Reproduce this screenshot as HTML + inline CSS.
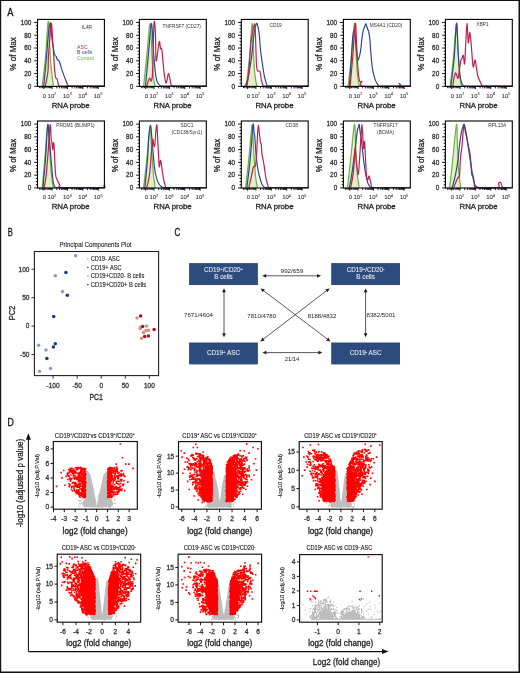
<!DOCTYPE html>
<html><head><meta charset="utf-8"><style>
html,body{margin:0;padding:0;background:#fff;}
svg{display:block;will-change:transform;}
text{font-family:"Liberation Sans", sans-serif;stroke:currentColor;stroke-width:0.28px;}
</style></head><body>
<svg width="520" height="673" viewBox="0 0 520 673">
<rect width="520" height="673" fill="#fff"/>
<path d="M0 0H520V1H0Z M0 0H1.2V673H0Z M518.5 0H520V673H518.5Z M0 671.5H520V673H0Z" fill="#111"/>
<text x="7.3" y="15.8" font-size="10.2" fill="#111" color="#111" textLength="6.2" lengthAdjust="spacingAndGlyphs">A</text>
<text x="7.8" y="236.1" font-size="10.2" fill="#111" color="#111" textLength="5.1" lengthAdjust="spacingAndGlyphs">B</text>
<text x="174.6" y="236.3" font-size="10.2" fill="#111" color="#111" textLength="5.8" lengthAdjust="spacingAndGlyphs">C</text>
<text x="7.5" y="426.4" font-size="10.2" fill="#111" color="#111" textLength="6.3" lengthAdjust="spacingAndGlyphs">D</text>
<path d="M42.16 86C42.68 81.6 44.34 70.07 45.3 59.6C46.26 49.13 47.3 28.4 47.9 23.2C48.5 18 48.65 25.8 48.9 28.4C49.15 31 49.13 33.6 49.4 38.8C49.67 44 50.07 53.55 50.5 59.6C50.93 65.65 51.52 70.7 52 75.1C52.48 79.5 53.17 84.18 53.4 86Z" fill="#e2efc9"/>
<path d="M42.16 86C42.68 81.6 44.34 70.07 45.3 59.6C46.26 49.13 47.3 28.4 47.9 23.2C48.5 18 48.65 25.8 48.9 28.4C49.15 31 49.13 33.6 49.4 38.8C49.67 44 50.07 53.55 50.5 59.6C50.93 65.65 51.52 70.7 52 75.1C52.48 79.5 53.17 84.18 53.4 86" fill="none" stroke="#6cb33f" stroke-width="1.2" stroke-linejoin="round"/>
<path d="M43.7 86C44.13 81.6 45.52 68.33 46.3 59.6C47.08 50.87 47.85 39.32 48.4 33.6C48.95 27.88 49.25 27.03 49.6 25.3C49.95 23.57 50.18 21.82 50.5 23.2C50.82 24.58 51.16 30.32 51.5 33.6C51.84 36.88 52.03 39.43 52.55 42.9C53.07 46.37 53.99 52.15 54.6 54.4C55.21 56.65 55.77 55.53 56.2 56.4C56.63 57.27 56.77 58.9 57.2 59.6C57.63 60.3 58.37 60.08 58.8 60.6C59.23 61.12 59.28 61.15 59.8 62.7C60.32 64.25 61.03 67.3 61.9 69.9C62.77 72.5 64.05 75.78 65 78.3C65.95 80.82 67.05 83.72 67.6 85C68.15 86.28 68.18 85.83 68.3 86" fill="none" stroke="#2b4a8c" stroke-width="1.2" stroke-linejoin="round"/>
<path d="M45.3 86C45.73 83.67 47.38 76.75 47.9 72C48.42 67.25 48.15 62.17 48.4 57.5C48.65 52.83 48.92 49.72 49.4 44C49.88 38.28 50.77 24.07 51.3 23.2C51.82 22.33 52.17 33.6 52.55 38.8C52.93 44 53.26 49.22 53.6 54.4C53.94 59.58 54.25 66.02 54.6 69.9C54.95 73.78 55.27 76.13 55.7 77.7C56.13 79.27 56.77 78.17 57.2 79.3C57.63 80.43 58 83.38 58.3 84.5C58.6 85.62 58.88 85.75 59 86" fill="none" stroke="#c41e4a" stroke-width="1.2" stroke-linejoin="round"/>
<path d="M58.5 85.95L104.4 85.95" stroke="#c41e4a" stroke-width="0.9"/>
<path d="M67.8 85.95L104.4 85.95" stroke="#2b4a8c" stroke-width="0.9"/>
<rect x="37.5" y="19.4" width="66.9" height="67" fill="none" stroke="#000" stroke-width="1.1"/>
<path d="M34.2 86.3H37.5M35.8 83.11H37.5M35.8 79.92H37.5M35.8 76.73H37.5M34.2 73.54H37.5M35.8 70.35H37.5M35.8 67.16H37.5M35.8 63.97H37.5M34.2 60.78H37.5M35.8 57.59H37.5M35.8 54.4H37.5M35.8 51.21H37.5M34.2 48.02H37.5M35.8 44.83H37.5M35.8 41.64H37.5M35.8 38.45H37.5M34.2 35.26H37.5M35.8 32.07H37.5M35.8 28.88H37.5M35.8 25.69H37.5M34.2 22.5H37.5" stroke="#000" stroke-width="0.9"/>
<text x="31.3" y="88.55" font-size="6.4" fill="#333" color="#333" text-anchor="end">0</text>
<text x="31.3" y="75.79" font-size="6.4" fill="#333" color="#333" text-anchor="end">20</text>
<text x="31.3" y="63.03" font-size="6.4" fill="#333" color="#333" text-anchor="end">40</text>
<text x="31.3" y="50.27" font-size="6.4" fill="#333" color="#333" text-anchor="end">60</text>
<text x="31.3" y="37.51" font-size="6.4" fill="#333" color="#333" text-anchor="end">80</text>
<text x="31.3" y="24.75" font-size="6.4" fill="#333" color="#333" text-anchor="end">100</text>
<path d="M52.1 86.3v2.8M67.5 86.3v2.8M82.9 86.3v2.8M98.3 86.3v2.8M56.74 86.3v2.1M59.45 86.3v2.1M61.37 86.3v2.1M62.86 86.3v2.1M64.08 86.3v2.1M65.11 86.3v2.1M66.01 86.3v2.1M66.8 86.3v2.1M72.14 86.3v2.1M74.85 86.3v2.1M76.77 86.3v2.1M78.26 86.3v2.1M79.48 86.3v2.1M80.51 86.3v2.1M81.41 86.3v2.1M82.2 86.3v2.1M87.54 86.3v2.1M90.25 86.3v2.1M92.17 86.3v2.1M93.66 86.3v2.1M94.88 86.3v2.1M95.91 86.3v2.1M96.81 86.3v2.1M97.6 86.3v2.1M39.7 86.3v1.9M41.1 86.3v1.9M42.5 86.3v1.9M44.3 86.3v1.9M45.7 86.3v1.9M47.1 86.3v1.9M48.3 86.3v1.9M49.4 86.3v1.9M50.4 86.3v1.9M51.3 86.3v1.9M43.8 86.3v2.8" stroke="#000" stroke-width="0.85"/>
<text x="44.5" y="97.6" font-size="6" fill="#333" color="#333" text-anchor="middle" style="stroke-width:0.08px">0</text>
<text x="51.9" y="97.6" font-size="6" fill="#333" color="#333" style="stroke-width:0.08px" text-anchor="middle">10<tspan font-size="3.6" dy="-2.4">2</tspan></text>
<text x="67.3" y="97.6" font-size="6" fill="#333" color="#333" style="stroke-width:0.08px" text-anchor="middle">10<tspan font-size="3.6" dy="-2.4">3</tspan></text>
<text x="82.7" y="97.6" font-size="6" fill="#333" color="#333" style="stroke-width:0.08px" text-anchor="middle">10<tspan font-size="3.6" dy="-2.4">4</tspan></text>
<text x="98.1" y="97.6" font-size="6" fill="#333" color="#333" style="stroke-width:0.08px" text-anchor="middle">10<tspan font-size="3.6" dy="-2.4">5</tspan></text>
<text x="70.7" y="107.5" font-size="7.5" fill="#222" color="#222" text-anchor="middle" textLength="38" lengthAdjust="spacingAndGlyphs">RNA probe</text>
<text x="16.3" y="53.9" font-size="8.2" fill="#222" color="#222" text-anchor="middle" textLength="33.5" lengthAdjust="spacingAndGlyphs" transform="rotate(-90 16.3 53.9)">% of Max</text>
<text x="87" y="29.1" font-size="4.8" fill="#333" color="#333" style="stroke:none" text-anchor="middle">IL4R</text>
<text x="77" y="49.2" font-size="5.2" fill="#c41e4a" color="#c41e4a" style="stroke:none">ASC</text>
<text x="77" y="54.4" font-size="5.2" fill="#2b4a8c" color="#2b4a8c" style="stroke:none">B cells</text>
<text x="77" y="59.6" font-size="5.2" fill="#6cb33f" color="#6cb33f" style="stroke:none">Control</text>
<path d="M143.6 86C144.15 80.73 145.82 64.82 146.9 54.4C147.98 43.98 149.23 23.03 150.1 23.5C150.97 23.97 151.55 48.32 152.1 57.2C152.65 66.08 152.97 72.22 153.4 76.8C153.83 81.38 154.37 83.17 154.7 84.7C155.03 86.23 155.28 85.78 155.4 86Z" fill="#e2efc9"/>
<path d="M143.6 86C144.15 80.73 145.82 64.82 146.9 54.4C147.98 43.98 149.23 23.03 150.1 23.5C150.97 23.97 151.55 48.32 152.1 57.2C152.65 66.08 152.97 72.22 153.4 76.8C153.83 81.38 154.37 83.17 154.7 84.7C155.03 86.23 155.28 85.78 155.4 86" fill="none" stroke="#6cb33f" stroke-width="1.2" stroke-linejoin="round"/>
<path d="M145.5 86C145.98 80.73 147.42 64.82 148.4 54.4C149.38 43.98 150.57 24.12 151.4 23.5C152.23 22.88 152.73 42.47 153.4 50.7C154.07 58.93 154.75 67.67 155.4 72.9C156.05 78.13 156.43 79.92 157.3 82.1C158.17 84.28 160.05 85.35 160.6 86" fill="none" stroke="#2b4a8c" stroke-width="1.2" stroke-linejoin="round"/>
<path d="M146.8 86C147.13 84.9 148.27 80.67 148.8 79.4C149.33 78.13 149.57 78.17 150 78.4C150.43 78.63 150.95 82.15 151.4 80.8C151.85 79.45 152.27 79.85 152.7 70.3C153.13 60.75 153.55 29.82 154 23.5C154.45 17.18 155.07 26.35 155.4 32.4C155.73 38.45 155.68 55.97 156 59.8C156.32 63.63 156.75 58.45 157.3 55.4C157.85 52.35 158.75 42.62 159.3 41.5C159.85 40.38 160.17 47.28 160.6 48.7C161.03 50.12 161.37 46.4 161.9 50C162.43 53.6 163.15 64.85 163.8 70.3C164.45 75.75 165.25 81.15 165.8 82.7C166.35 84.25 166.67 81.12 167.1 79.6C167.53 78.08 167.97 73.87 168.4 73.6C168.83 73.33 169.27 76.15 169.7 78C170.13 79.85 170.67 83.37 171 84.7C171.33 86.03 171.58 85.78 171.7 86" fill="none" stroke="#c41e4a" stroke-width="1.2" stroke-linejoin="round"/>
<path d="M171.2 85.95L206.3 85.95" stroke="#c41e4a" stroke-width="0.9"/>
<path d="M160.1 85.95L206.3 85.95" stroke="#2b4a8c" stroke-width="0.9"/>
<rect x="139.4" y="19.4" width="66.9" height="67" fill="none" stroke="#000" stroke-width="1.1"/>
<path d="M136.1 86.3H139.4M137.7 83.11H139.4M137.7 79.92H139.4M137.7 76.73H139.4M136.1 73.54H139.4M137.7 70.35H139.4M137.7 67.16H139.4M137.7 63.97H139.4M136.1 60.78H139.4M137.7 57.59H139.4M137.7 54.4H139.4M137.7 51.21H139.4M136.1 48.02H139.4M137.7 44.83H139.4M137.7 41.64H139.4M137.7 38.45H139.4M136.1 35.26H139.4M137.7 32.07H139.4M137.7 28.88H139.4M137.7 25.69H139.4M136.1 22.5H139.4" stroke="#000" stroke-width="0.9"/>
<text x="133.2" y="88.55" font-size="6.4" fill="#333" color="#333" text-anchor="end">0</text>
<text x="133.2" y="75.79" font-size="6.4" fill="#333" color="#333" text-anchor="end">20</text>
<text x="133.2" y="63.03" font-size="6.4" fill="#333" color="#333" text-anchor="end">40</text>
<text x="133.2" y="50.27" font-size="6.4" fill="#333" color="#333" text-anchor="end">60</text>
<text x="133.2" y="37.51" font-size="6.4" fill="#333" color="#333" text-anchor="end">80</text>
<text x="133.2" y="24.75" font-size="6.4" fill="#333" color="#333" text-anchor="end">100</text>
<path d="M154 86.3v2.8M169.4 86.3v2.8M184.8 86.3v2.8M200.2 86.3v2.8M158.64 86.3v2.1M161.35 86.3v2.1M163.27 86.3v2.1M164.76 86.3v2.1M165.98 86.3v2.1M167.01 86.3v2.1M167.91 86.3v2.1M168.7 86.3v2.1M174.04 86.3v2.1M176.75 86.3v2.1M178.67 86.3v2.1M180.16 86.3v2.1M181.38 86.3v2.1M182.41 86.3v2.1M183.31 86.3v2.1M184.1 86.3v2.1M189.44 86.3v2.1M192.15 86.3v2.1M194.07 86.3v2.1M195.56 86.3v2.1M196.78 86.3v2.1M197.81 86.3v2.1M198.71 86.3v2.1M199.5 86.3v2.1M141.6 86.3v1.9M143 86.3v1.9M144.4 86.3v1.9M146.2 86.3v1.9M147.6 86.3v1.9M149 86.3v1.9M150.2 86.3v1.9M151.3 86.3v1.9M152.3 86.3v1.9M153.2 86.3v1.9M145.7 86.3v2.8" stroke="#000" stroke-width="0.85"/>
<text x="146.4" y="97.6" font-size="6" fill="#333" color="#333" text-anchor="middle" style="stroke-width:0.08px">0</text>
<text x="153.8" y="97.6" font-size="6" fill="#333" color="#333" style="stroke-width:0.08px" text-anchor="middle">10<tspan font-size="3.6" dy="-2.4">2</tspan></text>
<text x="169.2" y="97.6" font-size="6" fill="#333" color="#333" style="stroke-width:0.08px" text-anchor="middle">10<tspan font-size="3.6" dy="-2.4">3</tspan></text>
<text x="184.6" y="97.6" font-size="6" fill="#333" color="#333" style="stroke-width:0.08px" text-anchor="middle">10<tspan font-size="3.6" dy="-2.4">4</tspan></text>
<text x="200" y="97.6" font-size="6" fill="#333" color="#333" style="stroke-width:0.08px" text-anchor="middle">10<tspan font-size="3.6" dy="-2.4">5</tspan></text>
<text x="172.6" y="107.5" font-size="7.5" fill="#222" color="#222" text-anchor="middle" textLength="38" lengthAdjust="spacingAndGlyphs">RNA probe</text>
<text x="118.2" y="53.9" font-size="8.2" fill="#222" color="#222" text-anchor="middle" textLength="33.5" lengthAdjust="spacingAndGlyphs" transform="rotate(-90 118.2 53.9)">% of Max</text>
<text x="181.8" y="28.2" font-size="4.8" fill="#333" color="#333" style="stroke:none" text-anchor="middle">TNFRSF7 (CD27)</text>
<path d="M246.2 86C246.75 81.2 248.52 67.62 249.5 57.2C250.48 46.78 251.45 24.58 252.1 23.5C252.75 22.42 252.97 42.47 253.4 50.7C253.83 58.93 254.15 67.02 254.7 72.9C255.25 78.78 256.37 83.82 256.7 86Z" fill="#e2efc9"/>
<path d="M246.2 86C246.75 81.2 248.52 67.62 249.5 57.2C250.48 46.78 251.45 24.58 252.1 23.5C252.75 22.42 252.97 42.47 253.4 50.7C253.83 58.93 254.15 67.02 254.7 72.9C255.25 78.78 256.37 83.82 256.7 86" fill="none" stroke="#6cb33f" stroke-width="1.2" stroke-linejoin="round"/>
<path d="M246.9 86C247.67 81.2 250.3 65.92 251.5 57.2C252.7 48.48 253.28 39.32 254.1 33.7C254.92 28.08 255.75 24.58 256.4 23.5C257.05 22.42 257.52 25.28 258 27.2C258.48 29.12 258.87 31.08 259.3 35C259.73 38.92 260.05 45.68 260.6 50.7C261.15 55.72 261.95 60.75 262.6 65.1C263.25 69.45 263.73 73.32 264.5 76.8C265.27 80.28 266.75 84.47 267.2 86" fill="none" stroke="#2b4a8c" stroke-width="1.2" stroke-linejoin="round"/>
<path d="M244.9 86C245.45 84.47 247.22 83.77 248.2 76.8C249.18 69.83 250.03 51.82 250.8 44.2C251.57 36.58 252.15 34.48 252.8 31.1C253.45 27.72 254.27 23.47 254.7 23.9C255.13 24.33 255.18 29.02 255.4 33.7C255.62 38.38 255.78 46.33 256 52C256.22 57.67 256.37 64.53 256.7 67.7C257.03 70.87 257.45 70.35 258 71C258.55 71.65 259.45 70.2 260 71.6C260.55 73 260.87 77.22 261.3 79.4C261.73 81.58 262.27 83.6 262.6 84.7C262.93 85.8 263.18 85.78 263.3 86" fill="none" stroke="#c41e4a" stroke-width="1.2" stroke-linejoin="round"/>
<path d="M262.8 85.95L308.2 85.95" stroke="#c41e4a" stroke-width="0.9"/>
<path d="M266.7 85.95L308.2 85.95" stroke="#2b4a8c" stroke-width="0.9"/>
<rect x="241.3" y="19.4" width="66.9" height="67" fill="none" stroke="#000" stroke-width="1.1"/>
<path d="M238 86.3H241.3M239.6 83.11H241.3M239.6 79.92H241.3M239.6 76.73H241.3M238 73.54H241.3M239.6 70.35H241.3M239.6 67.16H241.3M239.6 63.97H241.3M238 60.78H241.3M239.6 57.59H241.3M239.6 54.4H241.3M239.6 51.21H241.3M238 48.02H241.3M239.6 44.83H241.3M239.6 41.64H241.3M239.6 38.45H241.3M238 35.26H241.3M239.6 32.07H241.3M239.6 28.88H241.3M239.6 25.69H241.3M238 22.5H241.3" stroke="#000" stroke-width="0.9"/>
<text x="235.1" y="88.55" font-size="6.4" fill="#333" color="#333" text-anchor="end">0</text>
<text x="235.1" y="75.79" font-size="6.4" fill="#333" color="#333" text-anchor="end">20</text>
<text x="235.1" y="63.03" font-size="6.4" fill="#333" color="#333" text-anchor="end">40</text>
<text x="235.1" y="50.27" font-size="6.4" fill="#333" color="#333" text-anchor="end">60</text>
<text x="235.1" y="37.51" font-size="6.4" fill="#333" color="#333" text-anchor="end">80</text>
<text x="235.1" y="24.75" font-size="6.4" fill="#333" color="#333" text-anchor="end">100</text>
<path d="M255.9 86.3v2.8M271.3 86.3v2.8M286.7 86.3v2.8M302.1 86.3v2.8M260.54 86.3v2.1M263.25 86.3v2.1M265.17 86.3v2.1M266.66 86.3v2.1M267.88 86.3v2.1M268.91 86.3v2.1M269.81 86.3v2.1M270.6 86.3v2.1M275.94 86.3v2.1M278.65 86.3v2.1M280.57 86.3v2.1M282.06 86.3v2.1M283.28 86.3v2.1M284.31 86.3v2.1M285.21 86.3v2.1M286 86.3v2.1M291.34 86.3v2.1M294.05 86.3v2.1M295.97 86.3v2.1M297.46 86.3v2.1M298.68 86.3v2.1M299.71 86.3v2.1M300.61 86.3v2.1M301.4 86.3v2.1M243.5 86.3v1.9M244.9 86.3v1.9M246.3 86.3v1.9M248.1 86.3v1.9M249.5 86.3v1.9M250.9 86.3v1.9M252.1 86.3v1.9M253.2 86.3v1.9M254.2 86.3v1.9M255.1 86.3v1.9M247.6 86.3v2.8" stroke="#000" stroke-width="0.85"/>
<text x="248.3" y="97.6" font-size="6" fill="#333" color="#333" text-anchor="middle" style="stroke-width:0.08px">0</text>
<text x="255.7" y="97.6" font-size="6" fill="#333" color="#333" style="stroke-width:0.08px" text-anchor="middle">10<tspan font-size="3.6" dy="-2.4">2</tspan></text>
<text x="271.1" y="97.6" font-size="6" fill="#333" color="#333" style="stroke-width:0.08px" text-anchor="middle">10<tspan font-size="3.6" dy="-2.4">3</tspan></text>
<text x="286.5" y="97.6" font-size="6" fill="#333" color="#333" style="stroke-width:0.08px" text-anchor="middle">10<tspan font-size="3.6" dy="-2.4">4</tspan></text>
<text x="301.9" y="97.6" font-size="6" fill="#333" color="#333" style="stroke-width:0.08px" text-anchor="middle">10<tspan font-size="3.6" dy="-2.4">5</tspan></text>
<text x="274.5" y="107.5" font-size="7.5" fill="#222" color="#222" text-anchor="middle" textLength="38" lengthAdjust="spacingAndGlyphs">RNA probe</text>
<text x="220.1" y="53.9" font-size="8.2" fill="#222" color="#222" text-anchor="middle" textLength="33.5" lengthAdjust="spacingAndGlyphs" transform="rotate(-90 220.1 53.9)">% of Max</text>
<text x="275.6" y="26.9" font-size="4.8" fill="#333" color="#333" style="stroke:none" text-anchor="middle">CD19</text>
<path d="M348.1 86C348.65 81.2 350.35 67.62 351.4 57.2C352.45 46.78 353.63 24.58 354.4 23.5C355.17 22.42 355.52 42.47 356 50.7C356.48 58.93 356.77 67.02 357.3 72.9C357.83 78.78 358.88 83.82 359.2 86Z" fill="#e2efc9"/>
<path d="M348.1 86C348.65 81.2 350.35 67.62 351.4 57.2C352.45 46.78 353.63 24.58 354.4 23.5C355.17 22.42 355.52 42.47 356 50.7C356.48 58.93 356.77 67.02 357.3 72.9C357.83 78.78 358.88 83.82 359.2 86" fill="none" stroke="#6cb33f" stroke-width="1.2" stroke-linejoin="round"/>
<path d="M349.4 86C349.73 81.2 350.85 65.27 351.4 57.2C351.95 49.13 352.27 42.07 352.7 37.6C353.13 33.13 353.57 30.4 354 30.4C354.43 30.4 354.87 34 355.3 37.6C355.73 41.2 356.17 48.3 356.6 52C357.03 55.7 357.47 58.93 357.9 59.8C358.33 60.67 358.75 58.72 359.2 57.2C359.65 55.68 360.15 53.75 360.6 50.7C361.05 47.65 361.47 42.28 361.9 38.9C362.33 35.52 362.77 32.35 363.2 30.4C363.63 28.45 364.07 28.35 364.5 27.2C364.93 26.05 365.37 23.4 365.8 23.5C366.23 23.6 366.67 26.53 367.1 27.8C367.53 29.07 367.97 29.47 368.4 31.1C368.83 32.73 369.27 33.68 369.7 37.6C370.13 41.52 370.57 49.58 371 54.6C371.43 59.62 371.75 64 372.3 67.7C372.85 71.4 373.65 74.4 374.3 76.8C374.95 79.2 375.43 80.57 376.2 82.1C376.97 83.63 378.45 85.35 378.9 86" fill="none" stroke="#2b4a8c" stroke-width="1.2" stroke-linejoin="round"/>
<path d="M350.1 86C350.53 81.2 351.83 67.62 352.7 57.2C353.57 46.78 354.65 25.67 355.3 23.5C355.95 21.33 356.17 36.83 356.6 44.2C357.03 51.57 357.47 61.83 357.9 67.7C358.33 73.57 358.75 77 359.2 79.4C359.65 81.8 360.15 81.77 360.6 82.1C361.05 82.43 361.47 80.75 361.9 81.4C362.33 82.05 357.22 85.23 363.2 86C369.18 86.77 391.82 86.43 397.8 86C403.78 85.57 398.67 83.4 399.1 83.4C399.53 83.4 400.18 85.57 400.4 86" fill="none" stroke="#c41e4a" stroke-width="1.2" stroke-linejoin="round"/>
<path d="M399.9 85.95L410.3 85.95" stroke="#c41e4a" stroke-width="0.9"/>
<path d="M378.4 85.95L410.3 85.95" stroke="#2b4a8c" stroke-width="0.9"/>
<rect x="343.4" y="19.4" width="66.9" height="67" fill="none" stroke="#000" stroke-width="1.1"/>
<path d="M340.1 86.3H343.4M341.7 83.11H343.4M341.7 79.92H343.4M341.7 76.73H343.4M340.1 73.54H343.4M341.7 70.35H343.4M341.7 67.16H343.4M341.7 63.97H343.4M340.1 60.78H343.4M341.7 57.59H343.4M341.7 54.4H343.4M341.7 51.21H343.4M340.1 48.02H343.4M341.7 44.83H343.4M341.7 41.64H343.4M341.7 38.45H343.4M340.1 35.26H343.4M341.7 32.07H343.4M341.7 28.88H343.4M341.7 25.69H343.4M340.1 22.5H343.4" stroke="#000" stroke-width="0.9"/>
<text x="337.2" y="88.55" font-size="6.4" fill="#333" color="#333" text-anchor="end">0</text>
<text x="337.2" y="75.79" font-size="6.4" fill="#333" color="#333" text-anchor="end">20</text>
<text x="337.2" y="63.03" font-size="6.4" fill="#333" color="#333" text-anchor="end">40</text>
<text x="337.2" y="50.27" font-size="6.4" fill="#333" color="#333" text-anchor="end">60</text>
<text x="337.2" y="37.51" font-size="6.4" fill="#333" color="#333" text-anchor="end">80</text>
<text x="337.2" y="24.75" font-size="6.4" fill="#333" color="#333" text-anchor="end">100</text>
<path d="M358 86.3v2.8M373.4 86.3v2.8M388.8 86.3v2.8M404.2 86.3v2.8M362.64 86.3v2.1M365.35 86.3v2.1M367.27 86.3v2.1M368.76 86.3v2.1M369.98 86.3v2.1M371.01 86.3v2.1M371.91 86.3v2.1M372.7 86.3v2.1M378.04 86.3v2.1M380.75 86.3v2.1M382.67 86.3v2.1M384.16 86.3v2.1M385.38 86.3v2.1M386.41 86.3v2.1M387.31 86.3v2.1M388.1 86.3v2.1M393.44 86.3v2.1M396.15 86.3v2.1M398.07 86.3v2.1M399.56 86.3v2.1M400.78 86.3v2.1M401.81 86.3v2.1M402.71 86.3v2.1M403.5 86.3v2.1M345.6 86.3v1.9M347 86.3v1.9M348.4 86.3v1.9M350.2 86.3v1.9M351.6 86.3v1.9M353 86.3v1.9M354.2 86.3v1.9M355.3 86.3v1.9M356.3 86.3v1.9M357.2 86.3v1.9M349.7 86.3v2.8" stroke="#000" stroke-width="0.85"/>
<text x="350.4" y="97.6" font-size="6" fill="#333" color="#333" text-anchor="middle" style="stroke-width:0.08px">0</text>
<text x="357.8" y="97.6" font-size="6" fill="#333" color="#333" style="stroke-width:0.08px" text-anchor="middle">10<tspan font-size="3.6" dy="-2.4">2</tspan></text>
<text x="373.2" y="97.6" font-size="6" fill="#333" color="#333" style="stroke-width:0.08px" text-anchor="middle">10<tspan font-size="3.6" dy="-2.4">3</tspan></text>
<text x="388.6" y="97.6" font-size="6" fill="#333" color="#333" style="stroke-width:0.08px" text-anchor="middle">10<tspan font-size="3.6" dy="-2.4">4</tspan></text>
<text x="404" y="97.6" font-size="6" fill="#333" color="#333" style="stroke-width:0.08px" text-anchor="middle">10<tspan font-size="3.6" dy="-2.4">5</tspan></text>
<text x="376.6" y="107.5" font-size="7.5" fill="#222" color="#222" text-anchor="middle" textLength="38" lengthAdjust="spacingAndGlyphs">RNA probe</text>
<text x="322.2" y="53.9" font-size="8.2" fill="#222" color="#222" text-anchor="middle" textLength="33.5" lengthAdjust="spacingAndGlyphs" transform="rotate(-90 322.2 53.9)">% of Max</text>
<text x="386" y="26.9" font-size="4.8" fill="#333" color="#333" style="stroke:none" text-anchor="middle">MS4A1 (CD20)</text>
<path d="M450.2 86C450.75 81.2 452.45 67.62 453.5 57.2C454.55 46.78 455.73 24.58 456.5 23.5C457.27 22.42 457.62 42.47 458.1 50.7C458.58 58.93 458.85 67.02 459.4 72.9C459.95 78.78 461.07 83.82 461.4 86Z" fill="#e2efc9"/>
<path d="M450.2 86C450.75 81.2 452.45 67.62 453.5 57.2C454.55 46.78 455.73 24.58 456.5 23.5C457.27 22.42 457.62 42.47 458.1 50.7C458.58 58.93 458.85 67.02 459.4 72.9C459.95 78.78 461.07 83.82 461.4 86" fill="none" stroke="#6cb33f" stroke-width="1.2" stroke-linejoin="round"/>
<path d="M450.9 86C451.45 81.2 453.27 67.67 454.2 57.2C455.13 46.73 455.85 24.28 456.5 23.2C457.15 22.12 457.52 41.98 458.1 50.7C458.68 59.42 459.35 69.95 460 75.5C460.65 81.05 461.23 82.25 462 84C462.77 85.75 464.17 85.67 464.6 86" fill="none" stroke="#2b4a8c" stroke-width="1.2" stroke-linejoin="round"/>
<path d="M452.8 86C453.03 84.47 453.75 78.98 454.2 76.8C454.65 74.62 455.07 73.12 455.5 72.9C455.93 72.68 456.37 74.62 456.8 75.5C457.23 76.38 457.67 79.07 458.1 78.2C458.53 77.33 458.97 73.13 459.4 70.3C459.83 67.47 460.27 63.17 460.7 61.2C461.13 59.23 461.57 59.48 462 58.5C462.43 57.52 462.87 54.42 463.3 55.3C463.73 56.18 464.2 65.65 464.6 63.8C465 61.95 465.3 50.92 465.7 44.2C466.1 37.48 466.57 23.73 467 23.5C467.43 23.27 467.83 41.32 468.3 42.8C468.77 44.28 469.32 32.17 469.8 32.4C470.28 32.63 470.75 39.4 471.2 44.2C471.65 49 472.12 57.4 472.5 61.2C472.88 65 473.07 67.23 473.5 67C473.93 66.77 474.62 59.68 475.1 59.8C475.58 59.92 475.97 65.08 476.4 67.7C476.83 70.32 477.15 73.32 477.7 75.5C478.25 77.68 478.93 79.05 479.7 80.8C480.47 82.55 481.87 85.13 482.3 86" fill="none" stroke="#c41e4a" stroke-width="1.2" stroke-linejoin="round"/>
<path d="M481.8 85.95L512.3 85.95" stroke="#c41e4a" stroke-width="0.9"/>
<path d="M464.1 85.95L512.3 85.95" stroke="#2b4a8c" stroke-width="0.9"/>
<rect x="445.4" y="19.4" width="66.9" height="67" fill="none" stroke="#000" stroke-width="1.1"/>
<path d="M442.1 86.3H445.4M443.7 83.11H445.4M443.7 79.92H445.4M443.7 76.73H445.4M442.1 73.54H445.4M443.7 70.35H445.4M443.7 67.16H445.4M443.7 63.97H445.4M442.1 60.78H445.4M443.7 57.59H445.4M443.7 54.4H445.4M443.7 51.21H445.4M442.1 48.02H445.4M443.7 44.83H445.4M443.7 41.64H445.4M443.7 38.45H445.4M442.1 35.26H445.4M443.7 32.07H445.4M443.7 28.88H445.4M443.7 25.69H445.4M442.1 22.5H445.4" stroke="#000" stroke-width="0.9"/>
<text x="439.2" y="88.55" font-size="6.4" fill="#333" color="#333" text-anchor="end">0</text>
<text x="439.2" y="75.79" font-size="6.4" fill="#333" color="#333" text-anchor="end">20</text>
<text x="439.2" y="63.03" font-size="6.4" fill="#333" color="#333" text-anchor="end">40</text>
<text x="439.2" y="50.27" font-size="6.4" fill="#333" color="#333" text-anchor="end">60</text>
<text x="439.2" y="37.51" font-size="6.4" fill="#333" color="#333" text-anchor="end">80</text>
<text x="439.2" y="24.75" font-size="6.4" fill="#333" color="#333" text-anchor="end">100</text>
<path d="M460 86.3v2.8M475.4 86.3v2.8M490.8 86.3v2.8M506.2 86.3v2.8M464.64 86.3v2.1M467.35 86.3v2.1M469.27 86.3v2.1M470.76 86.3v2.1M471.98 86.3v2.1M473.01 86.3v2.1M473.91 86.3v2.1M474.7 86.3v2.1M480.04 86.3v2.1M482.75 86.3v2.1M484.67 86.3v2.1M486.16 86.3v2.1M487.38 86.3v2.1M488.41 86.3v2.1M489.31 86.3v2.1M490.1 86.3v2.1M495.44 86.3v2.1M498.15 86.3v2.1M500.07 86.3v2.1M501.56 86.3v2.1M502.78 86.3v2.1M503.81 86.3v2.1M504.71 86.3v2.1M505.5 86.3v2.1M447.6 86.3v1.9M449 86.3v1.9M450.4 86.3v1.9M452.2 86.3v1.9M453.6 86.3v1.9M455 86.3v1.9M456.2 86.3v1.9M457.3 86.3v1.9M458.3 86.3v1.9M459.2 86.3v1.9M451.7 86.3v2.8" stroke="#000" stroke-width="0.85"/>
<text x="452.4" y="97.6" font-size="6" fill="#333" color="#333" text-anchor="middle" style="stroke-width:0.08px">0</text>
<text x="459.8" y="97.6" font-size="6" fill="#333" color="#333" style="stroke-width:0.08px" text-anchor="middle">10<tspan font-size="3.6" dy="-2.4">2</tspan></text>
<text x="475.2" y="97.6" font-size="6" fill="#333" color="#333" style="stroke-width:0.08px" text-anchor="middle">10<tspan font-size="3.6" dy="-2.4">3</tspan></text>
<text x="490.6" y="97.6" font-size="6" fill="#333" color="#333" style="stroke-width:0.08px" text-anchor="middle">10<tspan font-size="3.6" dy="-2.4">4</tspan></text>
<text x="506" y="97.6" font-size="6" fill="#333" color="#333" style="stroke-width:0.08px" text-anchor="middle">10<tspan font-size="3.6" dy="-2.4">5</tspan></text>
<text x="478.6" y="107.5" font-size="7.5" fill="#222" color="#222" text-anchor="middle" textLength="38" lengthAdjust="spacingAndGlyphs">RNA probe</text>
<text x="424.2" y="53.9" font-size="8.2" fill="#222" color="#222" text-anchor="middle" textLength="33.5" lengthAdjust="spacingAndGlyphs" transform="rotate(-90 424.2 53.9)">% of Max</text>
<text x="482.6" y="25.6" font-size="4.8" fill="#333" color="#333" style="stroke:none" text-anchor="middle">XBP1</text>
<path d="M42.2 187.6C42.63 182.83 43.88 169.43 44.8 159C45.72 148.57 46.93 127.17 47.7 125C48.47 122.83 48.78 137.72 49.4 146C50.02 154.28 50.75 167.77 51.4 174.7C52.05 181.63 52.98 185.45 53.3 187.6Z" fill="#e2efc9"/>
<path d="M42.2 187.6C42.63 182.83 43.88 169.43 44.8 159C45.72 148.57 46.93 127.17 47.7 125C48.47 122.83 48.78 137.72 49.4 146C50.02 154.28 50.75 167.77 51.4 174.7C52.05 181.63 52.98 185.45 53.3 187.6" fill="none" stroke="#6cb33f" stroke-width="1.2" stroke-linejoin="round"/>
<path d="M42.9 187.6C43.33 182.83 44.7 169.43 45.5 159C46.3 148.57 47.05 128.27 47.7 125C48.35 121.73 48.78 133.07 49.4 139.4C50.02 145.73 50.75 155.8 51.4 163C52.05 170.2 52.65 178.5 53.3 182.6C53.95 186.7 54.97 186.77 55.3 187.6" fill="none" stroke="#2b4a8c" stroke-width="1.2" stroke-linejoin="round"/>
<path d="M44.2 187.6C44.53 185.45 45.55 180.55 46.2 174.7C46.85 168.85 47.45 160.78 48.1 152.5C48.75 144.22 49.6 127.4 50.1 125C50.6 122.6 50.78 135.05 51.1 138.1C51.42 141.15 51.73 141.33 52 143.3C52.27 145.27 52.48 149.9 52.7 149.9C52.92 149.9 53.08 144.18 53.3 143.3C53.52 142.42 53.77 141.98 54 144.6C54.23 147.22 54.43 153.98 54.7 159C54.97 164.02 55.28 171.43 55.6 174.7C55.92 177.97 56.22 177.5 56.6 178.6C56.98 179.7 57.35 180.2 57.9 181.3C58.45 182.4 59.13 184.15 59.9 185.2C60.67 186.25 55.48 187.2 62.5 187.6C69.52 188 95.2 187.95 102 187.6C108.8 187.25 103.08 185.85 103.3 185.5" fill="none" stroke="#c41e4a" stroke-width="1.2" stroke-linejoin="round"/>
<path d="M102.8 187.55L104.4 187.55" stroke="#c41e4a" stroke-width="0.9"/>
<path d="M54.8 187.55L104.4 187.55" stroke="#2b4a8c" stroke-width="0.9"/>
<rect x="37.5" y="121" width="66.9" height="67" fill="none" stroke="#000" stroke-width="1.1"/>
<path d="M34.2 187.9H37.5M35.8 184.71H37.5M35.8 181.52H37.5M35.8 178.33H37.5M34.2 175.14H37.5M35.8 171.95H37.5M35.8 168.76H37.5M35.8 165.57H37.5M34.2 162.38H37.5M35.8 159.19H37.5M35.8 156H37.5M35.8 152.81H37.5M34.2 149.62H37.5M35.8 146.43H37.5M35.8 143.24H37.5M35.8 140.05H37.5M34.2 136.86H37.5M35.8 133.67H37.5M35.8 130.48H37.5M35.8 127.29H37.5M34.2 124.1H37.5" stroke="#000" stroke-width="0.9"/>
<text x="31.3" y="190.15" font-size="6.4" fill="#333" color="#333" text-anchor="end">0</text>
<text x="31.3" y="177.39" font-size="6.4" fill="#333" color="#333" text-anchor="end">20</text>
<text x="31.3" y="164.63" font-size="6.4" fill="#333" color="#333" text-anchor="end">40</text>
<text x="31.3" y="151.87" font-size="6.4" fill="#333" color="#333" text-anchor="end">60</text>
<text x="31.3" y="139.11" font-size="6.4" fill="#333" color="#333" text-anchor="end">80</text>
<text x="31.3" y="126.35" font-size="6.4" fill="#333" color="#333" text-anchor="end">100</text>
<path d="M52.1 187.9v2.8M67.5 187.9v2.8M82.9 187.9v2.8M98.3 187.9v2.8M56.74 187.9v2.1M59.45 187.9v2.1M61.37 187.9v2.1M62.86 187.9v2.1M64.08 187.9v2.1M65.11 187.9v2.1M66.01 187.9v2.1M66.8 187.9v2.1M72.14 187.9v2.1M74.85 187.9v2.1M76.77 187.9v2.1M78.26 187.9v2.1M79.48 187.9v2.1M80.51 187.9v2.1M81.41 187.9v2.1M82.2 187.9v2.1M87.54 187.9v2.1M90.25 187.9v2.1M92.17 187.9v2.1M93.66 187.9v2.1M94.88 187.9v2.1M95.91 187.9v2.1M96.81 187.9v2.1M97.6 187.9v2.1M39.7 187.9v1.9M41.1 187.9v1.9M42.5 187.9v1.9M44.3 187.9v1.9M45.7 187.9v1.9M47.1 187.9v1.9M48.3 187.9v1.9M49.4 187.9v1.9M50.4 187.9v1.9M51.3 187.9v1.9M43.8 187.9v2.8" stroke="#000" stroke-width="0.85"/>
<text x="44.5" y="199.2" font-size="6" fill="#333" color="#333" text-anchor="middle" style="stroke-width:0.08px">0</text>
<text x="51.9" y="199.2" font-size="6" fill="#333" color="#333" style="stroke-width:0.08px" text-anchor="middle">10<tspan font-size="3.6" dy="-2.4">2</tspan></text>
<text x="67.3" y="199.2" font-size="6" fill="#333" color="#333" style="stroke-width:0.08px" text-anchor="middle">10<tspan font-size="3.6" dy="-2.4">3</tspan></text>
<text x="82.7" y="199.2" font-size="6" fill="#333" color="#333" style="stroke-width:0.08px" text-anchor="middle">10<tspan font-size="3.6" dy="-2.4">4</tspan></text>
<text x="98.1" y="199.2" font-size="6" fill="#333" color="#333" style="stroke-width:0.08px" text-anchor="middle">10<tspan font-size="3.6" dy="-2.4">5</tspan></text>
<text x="70.7" y="209.1" font-size="7.5" fill="#222" color="#222" text-anchor="middle" textLength="38" lengthAdjust="spacingAndGlyphs">RNA probe</text>
<text x="16.3" y="155.5" font-size="8.2" fill="#222" color="#222" text-anchor="middle" textLength="33.5" lengthAdjust="spacingAndGlyphs" transform="rotate(-90 16.3 155.5)">% of Max</text>
<text x="75.5" y="127.4" font-size="4.8" fill="#333" color="#333" style="stroke:none" text-anchor="middle">PRDM1 (BLIMP1)</text>
<path d="M143.6 187.6C144.13 182.83 145.72 169.32 146.8 159C147.88 148.68 149.33 127.87 150.1 125.7C150.87 123.53 150.85 137.83 151.4 146C151.95 154.17 152.75 167.77 153.4 174.7C154.05 181.63 154.98 185.45 155.3 187.6Z" fill="#e2efc9"/>
<path d="M143.6 187.6C144.13 182.83 145.72 169.32 146.8 159C147.88 148.68 149.33 127.87 150.1 125.7C150.87 123.53 150.85 137.83 151.4 146C151.95 154.17 152.75 167.77 153.4 174.7C154.05 181.63 154.98 185.45 155.3 187.6" fill="none" stroke="#6cb33f" stroke-width="1.2" stroke-linejoin="round"/>
<path d="M144.9 187.6C145.33 182.83 146.85 167.47 147.5 159C148.15 150.53 148.3 142.47 148.8 136.8C149.3 131.13 150 125 150.5 125C151 125 151.37 132.22 151.8 136.8C152.23 141.38 152.62 147.05 153.1 152.5C153.58 157.95 154.1 165.15 154.7 169.5C155.3 173.85 155.93 176.1 156.7 178.6C157.47 181.1 158.33 183 159.3 184.5C160.27 186 161.97 187.08 162.5 187.6" fill="none" stroke="#2b4a8c" stroke-width="1.2" stroke-linejoin="round"/>
<path d="M146.8 187.6C147.25 185.45 148.73 180.55 149.5 174.7C150.27 168.85 150.87 158.38 151.4 152.5C151.93 146.62 152.33 140.82 152.7 139.4C153.07 137.98 153.27 142.9 153.6 144C153.93 145.1 154.35 147.85 154.7 146C155.05 144.15 155.33 136.4 155.7 132.9C156.07 129.4 156.57 123.92 156.9 125C157.23 126.08 157.42 134.17 157.7 139.4C157.98 144.63 158.33 151.82 158.6 156.4C158.87 160.98 158.97 166.25 159.3 166.9C159.63 167.55 160.17 160.08 160.6 160.3C161.03 160.52 161.47 165.37 161.9 168.2C162.33 171.03 162.65 174.37 163.2 177.3C163.75 180.23 164.75 184.08 165.2 185.8C165.65 187.52 165.78 187.3 165.9 187.6" fill="none" stroke="#c41e4a" stroke-width="1.2" stroke-linejoin="round"/>
<path d="M165.4 187.55L206.3 187.55" stroke="#c41e4a" stroke-width="0.9"/>
<path d="M162 187.55L206.3 187.55" stroke="#2b4a8c" stroke-width="0.9"/>
<rect x="139.4" y="121" width="66.9" height="67" fill="none" stroke="#000" stroke-width="1.1"/>
<path d="M136.1 187.9H139.4M137.7 184.71H139.4M137.7 181.52H139.4M137.7 178.33H139.4M136.1 175.14H139.4M137.7 171.95H139.4M137.7 168.76H139.4M137.7 165.57H139.4M136.1 162.38H139.4M137.7 159.19H139.4M137.7 156H139.4M137.7 152.81H139.4M136.1 149.62H139.4M137.7 146.43H139.4M137.7 143.24H139.4M137.7 140.05H139.4M136.1 136.86H139.4M137.7 133.67H139.4M137.7 130.48H139.4M137.7 127.29H139.4M136.1 124.1H139.4" stroke="#000" stroke-width="0.9"/>
<text x="133.2" y="190.15" font-size="6.4" fill="#333" color="#333" text-anchor="end">0</text>
<text x="133.2" y="177.39" font-size="6.4" fill="#333" color="#333" text-anchor="end">20</text>
<text x="133.2" y="164.63" font-size="6.4" fill="#333" color="#333" text-anchor="end">40</text>
<text x="133.2" y="151.87" font-size="6.4" fill="#333" color="#333" text-anchor="end">60</text>
<text x="133.2" y="139.11" font-size="6.4" fill="#333" color="#333" text-anchor="end">80</text>
<text x="133.2" y="126.35" font-size="6.4" fill="#333" color="#333" text-anchor="end">100</text>
<path d="M154 187.9v2.8M169.4 187.9v2.8M184.8 187.9v2.8M200.2 187.9v2.8M158.64 187.9v2.1M161.35 187.9v2.1M163.27 187.9v2.1M164.76 187.9v2.1M165.98 187.9v2.1M167.01 187.9v2.1M167.91 187.9v2.1M168.7 187.9v2.1M174.04 187.9v2.1M176.75 187.9v2.1M178.67 187.9v2.1M180.16 187.9v2.1M181.38 187.9v2.1M182.41 187.9v2.1M183.31 187.9v2.1M184.1 187.9v2.1M189.44 187.9v2.1M192.15 187.9v2.1M194.07 187.9v2.1M195.56 187.9v2.1M196.78 187.9v2.1M197.81 187.9v2.1M198.71 187.9v2.1M199.5 187.9v2.1M141.6 187.9v1.9M143 187.9v1.9M144.4 187.9v1.9M146.2 187.9v1.9M147.6 187.9v1.9M149 187.9v1.9M150.2 187.9v1.9M151.3 187.9v1.9M152.3 187.9v1.9M153.2 187.9v1.9M145.7 187.9v2.8" stroke="#000" stroke-width="0.85"/>
<text x="146.4" y="199.2" font-size="6" fill="#333" color="#333" text-anchor="middle" style="stroke-width:0.08px">0</text>
<text x="153.8" y="199.2" font-size="6" fill="#333" color="#333" style="stroke-width:0.08px" text-anchor="middle">10<tspan font-size="3.6" dy="-2.4">2</tspan></text>
<text x="169.2" y="199.2" font-size="6" fill="#333" color="#333" style="stroke-width:0.08px" text-anchor="middle">10<tspan font-size="3.6" dy="-2.4">3</tspan></text>
<text x="184.6" y="199.2" font-size="6" fill="#333" color="#333" style="stroke-width:0.08px" text-anchor="middle">10<tspan font-size="3.6" dy="-2.4">4</tspan></text>
<text x="200" y="199.2" font-size="6" fill="#333" color="#333" style="stroke-width:0.08px" text-anchor="middle">10<tspan font-size="3.6" dy="-2.4">5</tspan></text>
<text x="172.6" y="209.1" font-size="7.5" fill="#222" color="#222" text-anchor="middle" textLength="38" lengthAdjust="spacingAndGlyphs">RNA probe</text>
<text x="118.2" y="155.5" font-size="8.2" fill="#222" color="#222" text-anchor="middle" textLength="33.5" lengthAdjust="spacingAndGlyphs" transform="rotate(-90 118.2 155.5)">% of Max</text>
<text x="186.9" y="127.4" font-size="4.8" fill="#333" color="#333" style="stroke:none" text-anchor="middle">SDC1</text>
<text x="186.9" y="134" font-size="4.8" fill="#333" color="#333" style="stroke:none" text-anchor="middle">(CD138/Syn1)</text>
<path d="M245.6 187.6C246.13 182.83 247.72 169.43 248.8 159C249.88 148.57 251.33 127.17 252.1 125C252.87 122.83 252.85 137.72 253.4 146C253.95 154.28 254.75 167.77 255.4 174.7C256.05 181.63 256.98 185.45 257.3 187.6Z" fill="#e2efc9"/>
<path d="M245.6 187.6C246.13 182.83 247.72 169.43 248.8 159C249.88 148.57 251.33 127.17 252.1 125C252.87 122.83 252.85 137.72 253.4 146C253.95 154.28 254.75 167.77 255.4 174.7C256.05 181.63 256.98 185.45 257.3 187.6" fill="none" stroke="#6cb33f" stroke-width="1.2" stroke-linejoin="round"/>
<path d="M246.9 187.6C247.45 182.83 249.18 169.43 250.2 159C251.22 148.57 252.35 129.35 253 125C253.65 120.65 253.82 131.07 254.1 132.9C254.38 134.73 254.38 132.52 254.7 136C255.02 139.48 255.57 148.87 256 153.8C256.43 158.73 256.75 161.9 257.3 165.6C257.85 169.3 258.53 172.95 259.3 176C260.07 179.05 261.03 181.97 261.9 183.9C262.77 185.83 264.07 186.98 264.5 187.6" fill="none" stroke="#2b4a8c" stroke-width="1.2" stroke-linejoin="round"/>
<path d="M248.8 187.6C249.25 185.67 250.73 179.45 251.5 176C252.27 172.55 252.75 168.63 253.4 166.9C254.05 165.17 254.85 168 255.4 165.6C255.95 163.2 256.33 157.95 256.7 152.5C257.07 147.05 257.32 137.48 257.6 132.9C257.88 128.32 258.12 125 258.4 125C258.68 125 258.97 130.07 259.3 132.9C259.63 135.73 260.07 140.05 260.4 142C260.73 143.95 261.05 142.63 261.3 144.6C261.55 146.57 261.58 151.18 261.9 153.8C262.22 156.42 262.8 158.12 263.2 160.3C263.6 162.48 263.87 164.07 264.3 166.9C264.73 169.73 265.1 173.85 265.8 177.3C266.5 180.75 268.05 185.88 268.5 187.6" fill="none" stroke="#c41e4a" stroke-width="1.2" stroke-linejoin="round"/>
<path d="M268 187.55L308.2 187.55" stroke="#c41e4a" stroke-width="0.9"/>
<path d="M264 187.55L308.2 187.55" stroke="#2b4a8c" stroke-width="0.9"/>
<rect x="241.3" y="121" width="66.9" height="67" fill="none" stroke="#000" stroke-width="1.1"/>
<path d="M238 187.9H241.3M239.6 184.71H241.3M239.6 181.52H241.3M239.6 178.33H241.3M238 175.14H241.3M239.6 171.95H241.3M239.6 168.76H241.3M239.6 165.57H241.3M238 162.38H241.3M239.6 159.19H241.3M239.6 156H241.3M239.6 152.81H241.3M238 149.62H241.3M239.6 146.43H241.3M239.6 143.24H241.3M239.6 140.05H241.3M238 136.86H241.3M239.6 133.67H241.3M239.6 130.48H241.3M239.6 127.29H241.3M238 124.1H241.3" stroke="#000" stroke-width="0.9"/>
<text x="235.1" y="190.15" font-size="6.4" fill="#333" color="#333" text-anchor="end">0</text>
<text x="235.1" y="177.39" font-size="6.4" fill="#333" color="#333" text-anchor="end">20</text>
<text x="235.1" y="164.63" font-size="6.4" fill="#333" color="#333" text-anchor="end">40</text>
<text x="235.1" y="151.87" font-size="6.4" fill="#333" color="#333" text-anchor="end">60</text>
<text x="235.1" y="139.11" font-size="6.4" fill="#333" color="#333" text-anchor="end">80</text>
<text x="235.1" y="126.35" font-size="6.4" fill="#333" color="#333" text-anchor="end">100</text>
<path d="M255.9 187.9v2.8M271.3 187.9v2.8M286.7 187.9v2.8M302.1 187.9v2.8M260.54 187.9v2.1M263.25 187.9v2.1M265.17 187.9v2.1M266.66 187.9v2.1M267.88 187.9v2.1M268.91 187.9v2.1M269.81 187.9v2.1M270.6 187.9v2.1M275.94 187.9v2.1M278.65 187.9v2.1M280.57 187.9v2.1M282.06 187.9v2.1M283.28 187.9v2.1M284.31 187.9v2.1M285.21 187.9v2.1M286 187.9v2.1M291.34 187.9v2.1M294.05 187.9v2.1M295.97 187.9v2.1M297.46 187.9v2.1M298.68 187.9v2.1M299.71 187.9v2.1M300.61 187.9v2.1M301.4 187.9v2.1M243.5 187.9v1.9M244.9 187.9v1.9M246.3 187.9v1.9M248.1 187.9v1.9M249.5 187.9v1.9M250.9 187.9v1.9M252.1 187.9v1.9M253.2 187.9v1.9M254.2 187.9v1.9M255.1 187.9v1.9M247.6 187.9v2.8" stroke="#000" stroke-width="0.85"/>
<text x="248.3" y="199.2" font-size="6" fill="#333" color="#333" text-anchor="middle" style="stroke-width:0.08px">0</text>
<text x="255.7" y="199.2" font-size="6" fill="#333" color="#333" style="stroke-width:0.08px" text-anchor="middle">10<tspan font-size="3.6" dy="-2.4">2</tspan></text>
<text x="271.1" y="199.2" font-size="6" fill="#333" color="#333" style="stroke-width:0.08px" text-anchor="middle">10<tspan font-size="3.6" dy="-2.4">3</tspan></text>
<text x="286.5" y="199.2" font-size="6" fill="#333" color="#333" style="stroke-width:0.08px" text-anchor="middle">10<tspan font-size="3.6" dy="-2.4">4</tspan></text>
<text x="301.9" y="199.2" font-size="6" fill="#333" color="#333" style="stroke-width:0.08px" text-anchor="middle">10<tspan font-size="3.6" dy="-2.4">5</tspan></text>
<text x="274.5" y="209.1" font-size="7.5" fill="#222" color="#222" text-anchor="middle" textLength="38" lengthAdjust="spacingAndGlyphs">RNA probe</text>
<text x="220.1" y="155.5" font-size="8.2" fill="#222" color="#222" text-anchor="middle" textLength="33.5" lengthAdjust="spacingAndGlyphs" transform="rotate(-90 220.1 155.5)">% of Max</text>
<text x="291.7" y="127.4" font-size="4.8" fill="#333" color="#333" style="stroke:none" text-anchor="middle">CD38</text>
<path d="M347.5 187.6C348.03 182.83 349.55 169.53 350.7 159C351.85 148.47 353.57 126.57 354.4 124.4C355.23 122.23 355.22 137.62 355.7 146C356.18 154.38 356.72 167.77 357.3 174.7C357.88 181.63 358.88 185.45 359.2 187.6Z" fill="#e2efc9"/>
<path d="M347.5 187.6C348.03 182.83 349.55 169.53 350.7 159C351.85 148.47 353.57 126.57 354.4 124.4C355.23 122.23 355.22 137.62 355.7 146C356.18 154.38 356.72 167.77 357.3 174.7C357.88 181.63 358.88 185.45 359.2 187.6" fill="none" stroke="#6cb33f" stroke-width="1.2" stroke-linejoin="round"/>
<path d="M349.4 187.6C349.85 185.02 351.22 177.95 352.1 172.1C352.98 166.25 354.05 157.52 354.7 152.5C355.35 147.48 355.57 145.7 356 142C356.43 138.3 356.92 132.7 357.3 130.3C357.68 127.9 357.98 128.58 358.3 127.6C358.62 126.62 358.93 123.95 359.2 124.4C359.47 124.85 359.57 128.02 359.9 130.3C360.23 132.58 360.77 134.83 361.2 138.1C361.63 141.37 362.07 145.98 362.5 149.9C362.93 153.82 363.25 157.47 363.8 161.6C364.35 165.73 365.15 171.2 365.8 174.7C366.45 178.2 366.93 180.45 367.7 182.6C368.47 184.75 369.95 186.77 370.4 187.6" fill="none" stroke="#2b4a8c" stroke-width="1.2" stroke-linejoin="round"/>
<path d="M350.7 187.6C351.15 185.02 352.73 177.73 353.4 172.1C354.07 166.47 354.38 157.72 354.7 153.8C355.02 149.88 355.08 147.73 355.3 148.6C355.52 149.47 355.67 155.52 356 159C356.33 162.48 356.92 166.98 357.3 169.5C357.68 172.02 357.92 175.85 358.3 174.1C358.68 172.35 359.17 165.22 359.6 159C360.03 152.78 360.52 142.57 360.9 136.8C361.28 131.03 361.58 124.4 361.9 124.4C362.22 124.4 362.52 132.77 362.8 136.8C363.08 140.83 363.32 147.83 363.6 148.6C363.88 149.37 364.2 140.1 364.5 141.4C364.8 142.7 365.08 150.85 365.4 156.4C365.72 161.95 366.02 170.77 366.4 174.7C366.78 178.63 367.25 179.78 367.7 180C368.15 180.22 368.65 175.78 369.1 176C369.55 176.22 369.97 179.37 370.4 181.3C370.83 183.23 371.48 186.55 371.7 187.6" fill="none" stroke="#c41e4a" stroke-width="1.2" stroke-linejoin="round"/>
<path d="M371.2 187.55L410.3 187.55" stroke="#c41e4a" stroke-width="0.9"/>
<path d="M369.9 187.55L410.3 187.55" stroke="#2b4a8c" stroke-width="0.9"/>
<rect x="343.4" y="121" width="66.9" height="67" fill="none" stroke="#000" stroke-width="1.1"/>
<path d="M340.1 187.9H343.4M341.7 184.71H343.4M341.7 181.52H343.4M341.7 178.33H343.4M340.1 175.14H343.4M341.7 171.95H343.4M341.7 168.76H343.4M341.7 165.57H343.4M340.1 162.38H343.4M341.7 159.19H343.4M341.7 156H343.4M341.7 152.81H343.4M340.1 149.62H343.4M341.7 146.43H343.4M341.7 143.24H343.4M341.7 140.05H343.4M340.1 136.86H343.4M341.7 133.67H343.4M341.7 130.48H343.4M341.7 127.29H343.4M340.1 124.1H343.4" stroke="#000" stroke-width="0.9"/>
<text x="337.2" y="190.15" font-size="6.4" fill="#333" color="#333" text-anchor="end">0</text>
<text x="337.2" y="177.39" font-size="6.4" fill="#333" color="#333" text-anchor="end">20</text>
<text x="337.2" y="164.63" font-size="6.4" fill="#333" color="#333" text-anchor="end">40</text>
<text x="337.2" y="151.87" font-size="6.4" fill="#333" color="#333" text-anchor="end">60</text>
<text x="337.2" y="139.11" font-size="6.4" fill="#333" color="#333" text-anchor="end">80</text>
<text x="337.2" y="126.35" font-size="6.4" fill="#333" color="#333" text-anchor="end">100</text>
<path d="M358 187.9v2.8M373.4 187.9v2.8M388.8 187.9v2.8M404.2 187.9v2.8M362.64 187.9v2.1M365.35 187.9v2.1M367.27 187.9v2.1M368.76 187.9v2.1M369.98 187.9v2.1M371.01 187.9v2.1M371.91 187.9v2.1M372.7 187.9v2.1M378.04 187.9v2.1M380.75 187.9v2.1M382.67 187.9v2.1M384.16 187.9v2.1M385.38 187.9v2.1M386.41 187.9v2.1M387.31 187.9v2.1M388.1 187.9v2.1M393.44 187.9v2.1M396.15 187.9v2.1M398.07 187.9v2.1M399.56 187.9v2.1M400.78 187.9v2.1M401.81 187.9v2.1M402.71 187.9v2.1M403.5 187.9v2.1M345.6 187.9v1.9M347 187.9v1.9M348.4 187.9v1.9M350.2 187.9v1.9M351.6 187.9v1.9M353 187.9v1.9M354.2 187.9v1.9M355.3 187.9v1.9M356.3 187.9v1.9M357.2 187.9v1.9M349.7 187.9v2.8" stroke="#000" stroke-width="0.85"/>
<text x="350.4" y="199.2" font-size="6" fill="#333" color="#333" text-anchor="middle" style="stroke-width:0.08px">0</text>
<text x="357.8" y="199.2" font-size="6" fill="#333" color="#333" style="stroke-width:0.08px" text-anchor="middle">10<tspan font-size="3.6" dy="-2.4">2</tspan></text>
<text x="373.2" y="199.2" font-size="6" fill="#333" color="#333" style="stroke-width:0.08px" text-anchor="middle">10<tspan font-size="3.6" dy="-2.4">3</tspan></text>
<text x="388.6" y="199.2" font-size="6" fill="#333" color="#333" style="stroke-width:0.08px" text-anchor="middle">10<tspan font-size="3.6" dy="-2.4">4</tspan></text>
<text x="404" y="199.2" font-size="6" fill="#333" color="#333" style="stroke-width:0.08px" text-anchor="middle">10<tspan font-size="3.6" dy="-2.4">5</tspan></text>
<text x="376.6" y="209.1" font-size="7.5" fill="#222" color="#222" text-anchor="middle" textLength="38" lengthAdjust="spacingAndGlyphs">RNA probe</text>
<text x="322.2" y="155.5" font-size="8.2" fill="#222" color="#222" text-anchor="middle" textLength="33.5" lengthAdjust="spacingAndGlyphs" transform="rotate(-90 322.2 155.5)">% of Max</text>
<text x="385.6" y="127.4" font-size="4.8" fill="#333" color="#333" style="stroke:none" text-anchor="middle">TNFRSF17</text>
<text x="385.6" y="134.3" font-size="4.8" fill="#333" color="#333" style="stroke:none" text-anchor="middle">(BCMA)</text>
<path d="M449.6 187.6C450.13 182.83 451.65 169.53 452.8 159C453.95 148.47 455.73 126.57 456.5 124.4C457.27 122.23 457.03 138.05 457.4 146C457.77 153.95 458.15 165.17 458.7 172.1C459.25 179.03 460.37 185.02 460.7 187.6Z" fill="#e2efc9"/>
<path d="M449.6 187.6C450.13 182.83 451.65 169.53 452.8 159C453.95 148.47 455.73 126.57 456.5 124.4C457.27 122.23 457.03 138.05 457.4 146C457.77 153.95 458.15 165.17 458.7 172.1C459.25 179.03 460.37 185.02 460.7 187.6" fill="none" stroke="#6cb33f" stroke-width="1.2" stroke-linejoin="round"/>
<path d="M453.5 187.6C454.05 186.33 456.03 181.72 456.8 180C457.57 178.28 457.65 177.97 458.1 177.3C458.55 176.63 459.12 179.05 459.5 176C459.88 172.95 459.98 164 460.4 159C460.82 154 461.52 150.78 462 146C462.48 141.22 462.9 133.9 463.3 130.3C463.7 126.7 464.07 124.18 464.4 124.4C464.73 124.62 464.93 129.53 465.3 131.6C465.67 133.67 466.1 134.4 466.6 136.8C467.1 139.2 467.77 143.38 468.3 146C468.83 148.62 469.37 149.67 469.8 152.5C470.23 155.33 470.57 159.3 470.9 163C471.23 166.7 471.43 172.53 471.8 174.7C472.17 176.87 472.67 174.68 473.1 176C473.53 177.32 473.85 180.67 474.4 182.6C474.95 184.53 472.58 186.77 476.4 187.6C480.22 188.43 493.6 188.33 497.3 187.6C501 186.87 498.05 184.08 498.6 183.2C499.15 182.32 499.95 181.57 500.6 182.3C501.25 183.03 502.18 186.72 502.5 187.6" fill="none" stroke="#c41e4a" stroke-width="1.2" stroke-linejoin="round"/>
<path d="M452.2 187.6C452.75 185.45 454.52 179.47 455.5 174.7C456.48 169.93 457.45 163.78 458.1 159C458.75 154.22 458.87 150.35 459.4 146C459.93 141.65 460.7 136.18 461.3 132.9C461.9 129.62 462.55 127.72 463 126.3C463.45 124.88 463.62 123.95 464 124.4C464.38 124.85 464.87 127.15 465.3 129C465.73 130.85 466.07 132.23 466.6 135.5C467.13 138.77 467.85 144.25 468.5 148.6C469.15 152.95 469.83 157.25 470.5 161.6C471.17 165.95 471.85 170.98 472.5 174.7C473.15 178.42 473.53 181.75 474.4 183.9C475.27 186.05 477.15 186.98 477.7 187.6" fill="none" stroke="#2b4a8c" stroke-width="1.2" stroke-linejoin="round"/>
<path d="M502 187.55L512.3 187.55" stroke="#c41e4a" stroke-width="0.9"/>
<path d="M477.2 187.55L512.3 187.55" stroke="#2b4a8c" stroke-width="0.9"/>
<rect x="445.4" y="121" width="66.9" height="67" fill="none" stroke="#000" stroke-width="1.1"/>
<path d="M442.1 187.9H445.4M443.7 184.71H445.4M443.7 181.52H445.4M443.7 178.33H445.4M442.1 175.14H445.4M443.7 171.95H445.4M443.7 168.76H445.4M443.7 165.57H445.4M442.1 162.38H445.4M443.7 159.19H445.4M443.7 156H445.4M443.7 152.81H445.4M442.1 149.62H445.4M443.7 146.43H445.4M443.7 143.24H445.4M443.7 140.05H445.4M442.1 136.86H445.4M443.7 133.67H445.4M443.7 130.48H445.4M443.7 127.29H445.4M442.1 124.1H445.4" stroke="#000" stroke-width="0.9"/>
<text x="439.2" y="190.15" font-size="6.4" fill="#333" color="#333" text-anchor="end">0</text>
<text x="439.2" y="177.39" font-size="6.4" fill="#333" color="#333" text-anchor="end">20</text>
<text x="439.2" y="164.63" font-size="6.4" fill="#333" color="#333" text-anchor="end">40</text>
<text x="439.2" y="151.87" font-size="6.4" fill="#333" color="#333" text-anchor="end">60</text>
<text x="439.2" y="139.11" font-size="6.4" fill="#333" color="#333" text-anchor="end">80</text>
<text x="439.2" y="126.35" font-size="6.4" fill="#333" color="#333" text-anchor="end">100</text>
<path d="M460 187.9v2.8M475.4 187.9v2.8M490.8 187.9v2.8M506.2 187.9v2.8M464.64 187.9v2.1M467.35 187.9v2.1M469.27 187.9v2.1M470.76 187.9v2.1M471.98 187.9v2.1M473.01 187.9v2.1M473.91 187.9v2.1M474.7 187.9v2.1M480.04 187.9v2.1M482.75 187.9v2.1M484.67 187.9v2.1M486.16 187.9v2.1M487.38 187.9v2.1M488.41 187.9v2.1M489.31 187.9v2.1M490.1 187.9v2.1M495.44 187.9v2.1M498.15 187.9v2.1M500.07 187.9v2.1M501.56 187.9v2.1M502.78 187.9v2.1M503.81 187.9v2.1M504.71 187.9v2.1M505.5 187.9v2.1M447.6 187.9v1.9M449 187.9v1.9M450.4 187.9v1.9M452.2 187.9v1.9M453.6 187.9v1.9M455 187.9v1.9M456.2 187.9v1.9M457.3 187.9v1.9M458.3 187.9v1.9M459.2 187.9v1.9M451.7 187.9v2.8" stroke="#000" stroke-width="0.85"/>
<text x="452.4" y="199.2" font-size="6" fill="#333" color="#333" text-anchor="middle" style="stroke-width:0.08px">0</text>
<text x="459.8" y="199.2" font-size="6" fill="#333" color="#333" style="stroke-width:0.08px" text-anchor="middle">10<tspan font-size="3.6" dy="-2.4">2</tspan></text>
<text x="475.2" y="199.2" font-size="6" fill="#333" color="#333" style="stroke-width:0.08px" text-anchor="middle">10<tspan font-size="3.6" dy="-2.4">3</tspan></text>
<text x="490.6" y="199.2" font-size="6" fill="#333" color="#333" style="stroke-width:0.08px" text-anchor="middle">10<tspan font-size="3.6" dy="-2.4">4</tspan></text>
<text x="506" y="199.2" font-size="6" fill="#333" color="#333" style="stroke-width:0.08px" text-anchor="middle">10<tspan font-size="3.6" dy="-2.4">5</tspan></text>
<text x="478.6" y="209.1" font-size="7.5" fill="#222" color="#222" text-anchor="middle" textLength="38" lengthAdjust="spacingAndGlyphs">RNA probe</text>
<text x="424.2" y="155.5" font-size="8.2" fill="#222" color="#222" text-anchor="middle" textLength="33.5" lengthAdjust="spacingAndGlyphs" transform="rotate(-90 424.2 155.5)">% of Max</text>
<text x="497.3" y="127.4" font-size="4.8" fill="#333" color="#333" style="stroke:none" text-anchor="middle">RPL13A</text>
<text x="95.5" y="247.4" font-size="6.4" fill="#222" color="#222" text-anchor="middle" textLength="72" lengthAdjust="spacingAndGlyphs" style="stroke-width:0.1px">Principal Components Plot</text>
<circle cx="75.6" cy="255.8" r="1.75" fill="#8e98c8"/>
<circle cx="55.4" cy="275.7" r="1.75" fill="#8e98c8"/>
<circle cx="62.5" cy="291.6" r="1.75" fill="#8e98c8"/>
<circle cx="38.6" cy="345.3" r="1.75" fill="#8e98c8"/>
<circle cx="46" cy="350.1" r="1.75" fill="#8e98c8"/>
<circle cx="50.5" cy="368.5" r="1.75" fill="#8e98c8"/>
<circle cx="39.5" cy="371.2" r="1.75" fill="#8e98c8"/>
<circle cx="65.9" cy="272.6" r="1.75" fill="#1c3a7e"/>
<circle cx="67.3" cy="295.3" r="1.75" fill="#1c3a7e"/>
<circle cx="53.7" cy="316.5" r="1.75" fill="#1c3a7e"/>
<circle cx="55.3" cy="343.7" r="1.75" fill="#1c3a7e"/>
<circle cx="53.4" cy="347.1" r="1.75" fill="#1c3a7e"/>
<circle cx="46.9" cy="358.5" r="1.75" fill="#1c3a7e"/>
<circle cx="137" cy="318" r="1.75" fill="#d69080"/>
<circle cx="140.1" cy="328.5" r="1.75" fill="#d69080"/>
<circle cx="140.6" cy="327" r="1.75" fill="#d69080"/>
<circle cx="146.6" cy="325.9" r="1.75" fill="#d69080"/>
<circle cx="146" cy="330.5" r="1.75" fill="#d69080"/>
<circle cx="148.4" cy="330.3" r="1.75" fill="#d69080"/>
<circle cx="143.5" cy="332.5" r="1.75" fill="#d69080"/>
<circle cx="141.6" cy="338.2" r="1.75" fill="#d69080"/>
<circle cx="140.6" cy="316" r="1.75" fill="#a8102c"/>
<circle cx="142.7" cy="326.5" r="1.75" fill="#a8102c"/>
<circle cx="154.1" cy="329.4" r="1.75" fill="#a8102c"/>
<circle cx="144.7" cy="336.4" r="1.75" fill="#a8102c"/>
<circle cx="148.4" cy="335.9" r="1.75" fill="#a8102c"/>
<rect x="34.4" y="251.5" width="124.2" height="124.1" fill="none" stroke="#222" stroke-width="1.1"/>
<path d="M31.4 269.2L34.4 269.2" stroke="#000" stroke-width="0.8"/>
<text x="29.4" y="271.5" font-size="6.5" fill="#333" color="#333" text-anchor="end">100</text>
<path d="M31.4 297.7L34.4 297.7" stroke="#000" stroke-width="0.8"/>
<text x="29.4" y="300" font-size="6.5" fill="#333" color="#333" text-anchor="end">50</text>
<path d="M31.4 326.1L34.4 326.1" stroke="#000" stroke-width="0.8"/>
<text x="29.4" y="328.4" font-size="6.5" fill="#333" color="#333" text-anchor="end">0</text>
<path d="M31.4 354.5L34.4 354.5" stroke="#000" stroke-width="0.8"/>
<text x="29.4" y="356.8" font-size="6.5" fill="#333" color="#333" text-anchor="end">-50</text>
<path d="M53 375.6L53 378.6" stroke="#000" stroke-width="0.8"/>
<text x="53" y="387.8" font-size="6.5" fill="#333" color="#333" text-anchor="middle">-100</text>
<path d="M77.1 375.6L77.1 378.6" stroke="#000" stroke-width="0.8"/>
<text x="77.1" y="387.8" font-size="6.5" fill="#333" color="#333" text-anchor="middle">-50</text>
<path d="M101.2 375.6L101.2 378.6" stroke="#000" stroke-width="0.8"/>
<text x="101.2" y="387.8" font-size="6.5" fill="#333" color="#333" text-anchor="middle">0</text>
<path d="M125.3 375.6L125.3 378.6" stroke="#000" stroke-width="0.8"/>
<text x="125.3" y="387.8" font-size="6.5" fill="#333" color="#333" text-anchor="middle">50</text>
<path d="M149.4 375.6L149.4 378.6" stroke="#000" stroke-width="0.8"/>
<text x="149.4" y="387.8" font-size="6.5" fill="#333" color="#333" text-anchor="middle">100</text>
<text x="96.2" y="400.4" font-size="8.8" fill="#222" color="#222" text-anchor="middle" textLength="13.4" lengthAdjust="spacingAndGlyphs">PC1</text>
<text x="14.6" y="313" font-size="9" fill="#222" color="#222" text-anchor="middle" textLength="14.5" lengthAdjust="spacingAndGlyphs" transform="rotate(-90 14.6 313)">PC2</text>
<rect x="87.2" y="258.2" width="1.3" height="1.3" fill="#d69080"/>
<text x="90.8" y="261.1" font-size="6.4" fill="#222" color="#222" textLength="28.9" lengthAdjust="spacingAndGlyphs" style="stroke-width:0.12px">CD19- ASC</text>
<rect x="87.2" y="266.8" width="1.3" height="1.3" fill="#a8102c"/>
<text x="90.8" y="269.7" font-size="6.4" fill="#222" color="#222" textLength="30.8" lengthAdjust="spacingAndGlyphs" style="stroke-width:0.12px">CD19+ ASC</text>
<rect x="87.2" y="275.4" width="1.3" height="1.3" fill="#8e98c8"/>
<text x="90.8" y="278.3" font-size="6.4" fill="#222" color="#222" textLength="53.5" lengthAdjust="spacingAndGlyphs" style="stroke-width:0.12px">CD19+CD20- B cells</text>
<rect x="87.2" y="284" width="1.3" height="1.3" fill="#1c3a7e"/>
<text x="90.8" y="286.9" font-size="6.4" fill="#222" color="#222" textLength="55.4" lengthAdjust="spacingAndGlyphs" style="stroke-width:0.12px">CD19+CD20+ B cells</text>
<rect x="189.1" y="263.1" width="68.8" height="21.9" fill="#2e4b7d"/>
<rect x="331.2" y="263.1" width="68.8" height="21.9" fill="#2e4b7d"/>
<rect x="189.1" y="342.5" width="68.8" height="21.9" fill="#2e4b7d"/>
<rect x="331.2" y="342.5" width="68.8" height="21.9" fill="#2e4b7d"/>
<text x="223.5" y="272.2" font-size="6.3" fill="#e8ecf4" color="#e8ecf4" style="stroke-width:0.08px" text-anchor="middle">CD19<tspan font-size="4.3" dy="-2.3">+</tspan><tspan dy="2.3">/CD20</tspan><tspan font-size="4.3" dy="-2.3">+</tspan></text>
<text x="223.5" y="279.4" font-size="6.3" fill="#e8ecf4" color="#e8ecf4" text-anchor="middle" style="stroke-width:0.08px">B cells</text>
<text x="365.6" y="272.2" font-size="6.3" fill="#e8ecf4" color="#e8ecf4" style="stroke-width:0.08px" text-anchor="middle">CD19<tspan font-size="4.3" dy="-2.3">+</tspan><tspan dy="2.3">/CD20</tspan><tspan font-size="4.3" dy="-2.3">-</tspan></text>
<text x="365.6" y="279.4" font-size="6.3" fill="#e8ecf4" color="#e8ecf4" text-anchor="middle" style="stroke-width:0.08px">B cells</text>
<text x="223.5" y="355.3" font-size="6.3" fill="#e8ecf4" color="#e8ecf4" style="stroke-width:0.08px" text-anchor="middle">CD19<tspan font-size="4.3" dy="-2.3">+</tspan><tspan dy="2.3"> ASC</tspan></text>
<text x="365.6" y="355.3" font-size="6.3" fill="#e8ecf4" color="#e8ecf4" style="stroke-width:0.08px" text-anchor="middle">CD19<tspan font-size="4.3" dy="-2.3">-</tspan><tspan dy="2.3"> ASC</tspan></text>
<path d="M265.4 275.8L317.8 275.8" stroke="#222" stroke-width="0.75"/>
<path d="M321 275.8L317 277.7L317 273.9Z" fill="#222"/>
<path d="M262.2 275.8L266.2 277.7L266.2 273.9Z" fill="#222"/>
<path d="M265.6 352.6L319.2 352.6" stroke="#222" stroke-width="0.75"/>
<path d="M322.4 352.6L318.4 354.5L318.4 350.7Z" fill="#222"/>
<path d="M262.4 352.6L266.4 354.5L266.4 350.7Z" fill="#222"/>
<path d="M224 291.5L224 334.1" stroke="#222" stroke-width="0.75"/>
<path d="M224 337.3L222.1 333.3L225.9 333.3Z" fill="#222"/>
<path d="M224 288.3L222.1 292.3L225.9 292.3Z" fill="#222"/>
<path d="M365.6 291.5L365.6 334.1" stroke="#222" stroke-width="0.75"/>
<path d="M365.6 337.3L363.7 333.3L367.5 333.3Z" fill="#222"/>
<path d="M365.6 288.3L363.7 292.3L367.5 292.3Z" fill="#222"/>
<path d="M263.15 290.34L327.85 339.46" stroke="#222" stroke-width="0.75"/>
<path d="M330.4 341.4L326.07 340.49L328.36 337.47Z" fill="#222"/>
<path d="M260.6 288.4L262.64 292.33L264.93 289.31Z" fill="#222"/>
<path d="M327.06 290.35L262.94 339.45" stroke="#222" stroke-width="0.75"/>
<path d="M260.4 341.4L262.42 337.46L264.73 340.48Z" fill="#222"/>
<path d="M329.6 288.4L325.27 289.32L327.58 292.34Z" fill="#222"/>
<text x="291.9" y="272.9" font-size="5.9" fill="#222" color="#222" style="stroke:none" text-anchor="middle" textLength="22.4" lengthAdjust="spacingAndGlyphs">992/659</text>
<text x="292" y="361.4" font-size="5.9" fill="#222" color="#222" style="stroke:none" text-anchor="middle">21/14</text>
<text x="198.5" y="317.3" font-size="5.9" fill="#222" color="#222" style="stroke:none" text-anchor="middle" textLength="28.9" lengthAdjust="spacingAndGlyphs">7671/4604</text>
<text x="261.7" y="317.6" font-size="5.9" fill="#222" color="#222" style="stroke:none" text-anchor="middle" textLength="28.9" lengthAdjust="spacingAndGlyphs">7810/4780</text>
<text x="322" y="317.6" font-size="5.9" fill="#222" color="#222" style="stroke:none" text-anchor="middle" textLength="28.5" lengthAdjust="spacingAndGlyphs">8188/4832</text>
<text x="381" y="317.3" font-size="5.9" fill="#222" color="#222" style="stroke:none" text-anchor="middle" textLength="28.9" lengthAdjust="spacingAndGlyphs">8382/5001</text>
<path d="M89.81 496.89h1M102.24 495.91h1M97.86 499.57h1M79.7 501.34h1M78.92 500.42h1M93.63 505.34h1M82.2 497.79h1M101.34 506.85h1M99.43 499.96h1M110.12 498.62h1M89.22 505.2h1M84.37 502.27h1M101.78 499.65h1M98.31 495.78h1M103.36 500.34h1M89.44 502.32h1M94.72 498.75h1M107.69 503.74h1M86.78 502.18h1M97.46 505.94h1M105.22 498.6h1M93.39 504.46h1M83.28 501.11h1M78.99 503.35h1M106.55 502.16h1M110.77 498.92h1M103.92 502.43h1M99.54 500.7h1M109.42 506.81h1M95.52 503.3h1M79.81 503.77h1M102.09 507.41h1M108.73 498.56h1M92.16 503.36h1M78.36 500.77h1M83.89 496.46h1M79.74 504.6h1M82.41 498.1h1M92.36 505.89h1M80.56 500.61h1M98.38 506.04h1M108.63 505.8h1M88.08 500.19h1M91.13 506.05h1M84.2 497.9h1M86.37 501.06h1M99.89 498.28h1M77.66 500.24h1M91.53 502.08h1M113.72 503.63h1M97.09 502.72h1M103.2 495.67h1M111.68 504.75h1M110.73 504.97h1M92.41 499.99h1M81.43 502.93h1M85.43 497.03h1M90.42 495.66h1M81.36 499.55h1M78.47 505.93h1M100.83 496.86h1M87.09 499.34h1M91.34 496.54h1M109.76 507.41h1M95.21 501.05h1M90.52 498.31h1M109 497.02h1M78.38 506.89h1M97.57 496.83h1M98.14 495.34h1M97.57 507.23h1M110.31 503.7h1M87.42 499.58h1M83.85 504.65h1M97.74 504.74h1M90.03 497.79h1M108.34 507.31h1M109.9 505.08h1M108.6 504.25h1M86.12 501.47h1M91.01 495.36h1M87.35 503.66h1M113.85 500.59h1M113.11 507.35h1M113.79 499.56h1M85.88 497.84h1M84.97 497.55h1M101.21 506.25h1M109.44 500.99h1M102.31 505h1M80.72 503.26h1M112.07 504.78h1M106.01 500.98h1M84.28 504.86h1M90.14 505.01h1M114.42 499.95h1M92.75 506.83h1M105.04 497.13h1M111.88 505.08h1M83.05 505.33h1M114.75 503.22h1M90.82 501.86h1M114.39 503.12h1M97.51 506.67h1M93.98 505.9h1M108.89 497.64h1" stroke="#bdbdbd" stroke-width="1" fill="none"/>
<path d="M85.7 470.5L87.2 470.5L90.2 474L93.5 488L96.2 503.5L96.7 507.3L85.7 507.3Z" fill="#bdbdbd"/>
<path d="M107.6 471.5L106.2 471.5L103.6 474.5L100.5 488L97.2 503.5L96.7 507.3L107.6 507.3Z" fill="#bdbdbd"/>
<path d="M82 503.5L84.5 499L85.9 497.3L85.9 507.3L84 507.3Z" fill="#bdbdbd"/>
<path d="M107.4 497.3L111.5 499L113.5 503.5L111 507.3L107.4 507.3Z" fill="#bdbdbd"/>
<path d="M90 505L104 505L104 507.3L90 507.3Z" fill="#bdbdbd"/>
<path d="M85.7 474L85.7 497.6L83.2 497.6L82.8 485L83.3 476Z" fill="#ff0000"/>
<path d="M107.6 474L107.6 497.6L110 497.6L110.5 485L110 476Z" fill="#ff0000"/>
<path d="M82.6 479.38h1.5M82.55 488.38h1.5M82.63 483.24h1.5M82.98 484.44h1.5M83.54 486.7h1.5M83.31 476.01h1.5M82.3 484.91h1.5M84.38 487.46h1.5M82.88 486.29h1.5M83.74 494.45h1.5M82.05 487.58h1.5M82.58 478.88h1.5M84.56 485.96h1.5M83.77 493.7h1.5M83.96 485.9h1.5M83.58 491.64h1.5M83.35 486.75h1.5M84.28 497.28h1.5M84.81 474.6h1.5M82.11 483.95h1.5M81.92 490.93h1.5M82.23 492.36h1.5M84.14 474.77h1.5M83.15 485.34h1.5M82.26 483.63h1.5M83.59 480.79h1.5M82.39 480.16h1.5M83.74 483.9h1.5M84 486.1h1.5M82.04 478.54h1.5M82.67 474.36h1.5M84.74 478.32h1.5M83.8 491.88h1.5M84.24 483.44h1.5M84.04 494.98h1.5M83.36 480.79h1.5M82.66 474.35h1.5M83.63 477.7h1.5M82.82 479.75h1.5M84.51 479.28h1.5M83.53 475.85h1.5M84.41 487.29h1.5M82.36 484.95h1.5M84.74 483.65h1.5M83.51 495.99h1.5M83.13 485.93h1.5M82.94 495.92h1.5M84.31 489.9h1.5" stroke="#ff0000" stroke-width="1.5" fill="none"/>
<path d="M107.91 481.05h1.5M107.35 475.4h1.5M109.67 490.96h1.5M107.45 477.82h1.5M107.49 484.48h1.5M106.98 484.07h1.5M110.05 487.17h1.5M107.55 481.33h1.5M108.18 485.81h1.5M107.15 485.87h1.5M107.54 477.53h1.5M108.6 486.62h1.5M109.22 490.56h1.5M109.09 497.36h1.5M107.86 480.39h1.5M109.12 490.12h1.5M109.75 489.63h1.5M109.15 495.31h1.5M106.91 486.46h1.5M108.29 496h1.5M109.42 495.74h1.5M108.96 491.66h1.5M107.25 471.34h1.5M106.89 481.45h1.5M108.49 489.65h1.5M108.75 491.27h1.5M109.4 493.34h1.5M108.28 486.81h1.5M109.17 478.13h1.5M109.14 476.68h1.5M108.25 482.12h1.5M108.19 491.36h1.5M109.28 489.32h1.5M108.81 472.76h1.5M106.94 478.18h1.5M109.19 479.73h1.5M108.92 491.62h1.5M108.94 479.31h1.5M108.34 484.64h1.5M108.15 474.02h1.5M108.08 478.63h1.5M107.18 488.23h1.5M106.92 486.47h1.5M109.48 486h1.5M109.73 491.97h1.5M108.09 479.65h1.5M106.92 480.94h1.5M107.58 496.17h1.5M109.55 474.07h1.5M109.79 479.28h1.5" stroke="#ff0000" stroke-width="1.5" fill="none"/>
<path d="M76.53 478.18h1.6M70.01 468.63h1.6M82.65 491.97h1.6M83.26 495.91h1.6M75.86 479.21h1.6M67.19 473.03h1.6M71.39 469.94h1.6M79.86 479.77h1.6M75.18 478.67h1.6M82.21 473.75h1.6M84.1 493.09h1.6M79.02 494.53h1.6M69.45 470.49h1.6M73.79 484.01h1.6M77.7 476.44h1.6M76.4 479.01h1.6M76.77 467.47h1.6M77.68 494.17h1.6M78.92 476.55h1.6M73.03 488.02h1.6M80.84 489.74h1.6M74.59 472.88h1.6M84.52 471.49h1.6M83.63 477.22h1.6M83.72 489.96h1.6M78.09 478.73h1.6M71.18 472.33h1.6M81.36 480.37h1.6M81.15 490.59h1.6M83.39 475.01h1.6M82.95 477.52h1.6M84.18 486.01h1.6M79.17 476.83h1.6M84.16 496.31h1.6M83.56 472.74h1.6M76.9 477.17h1.6M71.81 491.06h1.6M69.43 469.13h1.6M82.63 497.35h1.6M79.03 480.81h1.6M79.62 473.24h1.6M76.3 477.13h1.6M84.9 482.66h1.6M81.74 495.1h1.6M70.39 470.8h1.6M84.49 484.98h1.6M83.93 470.39h1.6M77.16 473.8h1.6M76.74 487.07h1.6M78.38 472.81h1.6M75.67 469.09h1.6M84.08 476.7h1.6M83.01 480.1h1.6M73.86 472.12h1.6M71.99 482.57h1.6M84.37 473.18h1.6M83.87 496.97h1.6M77.17 492.36h1.6M80.61 473.94h1.6M81.86 492.5h1.6M72.26 470.91h1.6M79.34 494.58h1.6M75.97 490.3h1.6M81.7 470.75h1.6M75.71 486.32h1.6M77.97 480.81h1.6M80.49 481.16h1.6M74.12 470.43h1.6M80.44 482.79h1.6M83.31 472.2h1.6M83.61 469.15h1.6M70.92 468.28h1.6M78.4 494.52h1.6M80.59 470.67h1.6M76.46 487.44h1.6M69.35 471.72h1.6M72.64 475.23h1.6M77.68 484.34h1.6M72.72 474.42h1.6M80.46 467.53h1.6M83.83 471.5h1.6M81.18 472.49h1.6M80.55 489.02h1.6M81.82 489.93h1.6M79.69 480.98h1.6M66.48 474.25h1.6M81.84 488.91h1.6M84.33 473.78h1.6M84.62 481.5h1.6M78.78 493.36h1.6M79.34 484.59h1.6M68.7 486.18h1.6M83.2 471.57h1.6M71.45 471.49h1.6M81.31 494.39h1.6M66.52 473.44h1.6M77.41 475.94h1.6M79.15 478.4h1.6M84.31 482.55h1.6M77.13 468.1h1.6M78.92 483.59h1.6M83 482.47h1.6M82.65 474.29h1.6M77.71 477.8h1.6M78.04 489.83h1.6M78.89 492.94h1.6M75.14 472.07h1.6M80.8 489.57h1.6M68.37 486.65h1.6M68.58 479.02h1.6M79.68 494.91h1.6M82.56 490.81h1.6M81.99 487.92h1.6M79.1 486.4h1.6M83.82 483.02h1.6M83.81 483.26h1.6M80.93 479.13h1.6M81.1 486.54h1.6M81.24 481.46h1.6M73.14 472.83h1.6M79.28 475.75h1.6M77.52 487.3h1.6M83.57 493.27h1.6M77.44 467.61h1.6M84.05 487.2h1.6M80.41 477.74h1.6M83.06 491.35h1.6M82.79 485.75h1.6M81.71 473.19h1.6M82.62 484.12h1.6M75.5 493.53h1.6M81.75 481.46h1.6M78.11 492.84h1.6M78.46 495.62h1.6M84.67 482.76h1.6M82.93 468.19h1.6M80.29 473.59h1.6M72.68 482.55h1.6M77.88 491.36h1.6M77.47 491.12h1.6M79.3 494.22h1.6M65.33 476.33h1.6M83.18 485.85h1.6M73.8 490.46h1.6M83.27 487.19h1.6M81.37 491.19h1.6M83.68 468.82h1.6M84.65 481.68h1.6M68.7 471.79h1.6M79.18 467.5h1.6M77.8 492.13h1.6M70.75 489.45h1.6M82.17 482.02h1.6M83.91 491.13h1.6M78.89 492.44h1.6M81.55 485.53h1.6M82.9 491.83h1.6M81.15 493.66h1.6M83.64 474.31h1.6M78.36 481.38h1.6M80.73 481.2h1.6M81.04 490.75h1.6M68.22 473.03h1.6M72.65 482.96h1.6M80.64 471.93h1.6M71.46 483.03h1.6M82.27 482.02h1.6M69.57 468.31h1.6M68.05 469.71h1.6M83.96 494.96h1.6M76.71 479.3h1.6M84.21 475.01h1.6M78.2 479.17h1.6M84.88 473.93h1.6M83.07 492.74h1.6M80.62 488.84h1.6M84.75 468.86h1.6M82.29 494.32h1.6M81.78 486.36h1.6M74.21 486.35h1.6M69.83 479.74h1.6M78.17 473.61h1.6M70.24 475.03h1.6M71.37 471.44h1.6M81.57 483.25h1.6M68.83 484.62h1.6M79.07 473.16h1.6M74.58 475.52h1.6M76.4 473.34h1.6M82.24 482.22h1.6M73.55 482.91h1.6M84.1 482.28h1.6M75.31 483.58h1.6M84.38 473.99h1.6M78.8 473.12h1.6M79.18 468.53h1.6M74.54 482.46h1.6M66.83 479.55h1.6M76.58 493.47h1.6M76.19 489.97h1.6M81.44 495.81h1.6M80.42 477.5h1.6M81.89 468.79h1.6M84.18 495.71h1.6M74.77 467.79h1.6M84.42 490.89h1.6M82.66 468.2h1.6M84.14 482.86h1.6M73.98 483.47h1.6M72.73 475.96h1.6M81.73 485.8h1.6M74.03 476.64h1.6M76.45 467.52h1.6M82.19 474.44h1.6M73.43 489.63h1.6M79.63 471.88h1.6M81.94 492.25h1.6M82.41 485.72h1.6M81.93 482.42h1.6M68.12 476.45h1.6M76.24 484.93h1.6M83.4 477.05h1.6M81.69 496.46h1.6M78.34 483.21h1.6M75.3 492.09h1.6M81.44 482.82h1.6M84.85 494.3h1.6M74.78 472.9h1.6M77.38 485.59h1.6M81.78 485.07h1.6M72.83 470.87h1.6M80.06 470.41h1.6M77.02 491.81h1.6M67.81 475.3h1.6M83.06 484.95h1.6M73.63 478.94h1.6M73.42 486.11h1.6M81.23 476.43h1.6M74.35 491.38h1.6M84.46 476.04h1.6M72.67 469.15h1.6M81.44 477.89h1.6M81 472.02h1.6M76.49 478.4h1.6M70.75 479.07h1.6M70.96 487.41h1.6M67.04 475.6h1.6M78.4 487.44h1.6M71.6 486.37h1.6M79.53 488.93h1.6M70.59 478.79h1.6M70.75 486.66h1.6M81.72 484.58h1.6M81.61 490.89h1.6M76.9 468.6h1.6M77.33 480.99h1.6M78.79 480.25h1.6M83.56 471.05h1.6M81.02 475.14h1.6M84.42 486.64h1.6M78.21 474.42h1.6M81.55 470.65h1.6M71.78 473.46h1.6M74.02 478.25h1.6M84.89 490.09h1.6M79.18 497.11h1.6M68.24 483.75h1.6M83.38 486.85h1.6M83.71 487.1h1.6M69.4 471.39h1.6M80.37 492.81h1.6M83.53 472.3h1.6M81.53 489.84h1.6M83.09 496.03h1.6M74.66 471.97h1.6M82.05 491.2h1.6M75.99 477.79h1.6M84.46 494.93h1.6M84.52 496.55h1.6M81.13 468.99h1.6M84.07 481.85h1.6M69 484.66h1.6M74.95 485.14h1.6M82.22 483.98h1.6M75.98 490.84h1.6M80.41 468.91h1.6M83.34 493.77h1.6M78.42 492.39h1.6M78.31 474.93h1.6M78.56 478.79h1.6M82.47 483.61h1.6M81.07 496.15h1.6M82.42 491.62h1.6M78.4 479.15h1.6M76.98 469.47h1.6M76.53 468.49h1.6M72.35 477.96h1.6M76.32 477.35h1.6M84.16 497.48h1.6M80.37 486.5h1.6M82.41 495.84h1.6M74.86 486.57h1.6M75.73 479.56h1.6M74.29 478.38h1.6M69.17 477.83h1.6M70.57 472.32h1.6M76.4 469.6h1.6M82.32 469.22h1.6M82.96 475.58h1.6M78.92 473.83h1.6M84.29 485.52h1.6M81.1 493.91h1.6M69.63 481.32h1.6M79.33 477.21h1.6M83.83 471.18h1.6M71.88 471.72h1.6M79.61 495.32h1.6" stroke="#ff0000" stroke-width="1.6" fill="none"/>
<path d="M115.44 486.6h1.6M107.93 486.88h1.6M110.68 474.85h1.6M114.31 474.22h1.6M115.21 494.39h1.6M116.83 494.14h1.6M124.03 476.25h1.6M108.73 496.93h1.6M108.48 472.31h1.6M107.45 482.58h1.6M114.25 470.36h1.6M108.88 482.05h1.6M109.36 489.72h1.6M108.74 477.96h1.6M119.47 475.5h1.6M111.38 469.26h1.6M113.71 476.88h1.6M106.88 485.73h1.6M111.21 485.83h1.6M110.96 473.22h1.6M106.81 489.96h1.6M113.36 488.92h1.6M112.37 486.38h1.6M110.66 485.87h1.6M115.84 481.72h1.6M109.25 495.5h1.6M107.54 478.81h1.6M120.96 470.91h1.6M111.15 470.29h1.6M120.62 490.35h1.6M110.91 478.49h1.6M113.4 467.7h1.6M116.68 468.92h1.6M110.98 492.65h1.6M117.5 478.51h1.6M110.11 496.84h1.6M113.24 487.5h1.6M108.02 490.26h1.6M119.62 479.43h1.6M120.13 470.76h1.6M108.13 492.14h1.6M108.32 490.18h1.6M107.75 487.97h1.6M109.31 477.37h1.6M106.9 497.37h1.6M111.34 476.72h1.6M114.07 468.72h1.6M121.64 475.01h1.6M107.7 483.56h1.6M113.13 491.65h1.6M122.72 484.15h1.6M112.24 483.45h1.6M116.58 477.04h1.6M107.79 480.41h1.6M107.64 493.52h1.6M118.47 487.78h1.6M110.45 492.78h1.6M122.7 473.48h1.6M113.98 487.29h1.6M109.48 468.88h1.6M107.52 492.71h1.6M110.82 484.94h1.6M112.41 492.87h1.6M113.58 468.16h1.6M108.41 481.35h1.6M114.24 487.9h1.6M115.91 476.04h1.6M117.15 483.68h1.6M107.66 477.33h1.6M111.08 489.84h1.6M120.44 476.27h1.6M107.38 482.84h1.6M115.11 471.71h1.6M109.63 483.52h1.6M113.15 473.2h1.6M110.32 471.04h1.6M107.05 495.99h1.6M110.77 490.08h1.6M111.37 468.1h1.6M108.25 484.84h1.6M107.87 474.66h1.6M112.72 491.93h1.6M108.32 474.64h1.6M109.23 473.21h1.6M119.81 486.6h1.6M108.39 489.08h1.6M109.6 496.67h1.6M108.8 496.75h1.6M111.16 492.78h1.6M110.22 481.15h1.6M121.1 479.57h1.6M106.87 482.1h1.6M108.71 491.98h1.6M117.27 481.14h1.6M117.52 476.08h1.6M111.49 488.58h1.6M118.25 491.82h1.6M110.08 492.54h1.6M115.93 467.16h1.6M111.14 477.92h1.6M119.42 490.07h1.6M118.76 475.63h1.6M112.81 471.43h1.6M109.75 476.69h1.6M112.15 496h1.6M112.35 480.55h1.6M111.3 479.19h1.6M117.83 490.95h1.6M109.43 490.29h1.6M111.29 490.73h1.6M108 483.92h1.6M108.72 476.53h1.6M107.94 479.78h1.6M113.79 484.69h1.6M109.07 488.67h1.6M117.4 475.56h1.6M117.25 492.35h1.6M110.48 473.99h1.6M108.04 492.78h1.6M106.85 486.39h1.6M111.56 468.96h1.6M116.41 491.83h1.6M121.13 470.53h1.6M117.7 477.55h1.6M107.28 482.58h1.6M107.89 486.41h1.6M108.03 481.76h1.6M114.67 477.6h1.6M113.77 475.79h1.6M110.22 488.66h1.6M119.31 489.14h1.6M119.3 486.41h1.6M123.97 476.5h1.6M120.73 481.06h1.6M108.64 471.86h1.6M115.04 492.27h1.6M108.68 484.37h1.6M110.42 474.85h1.6M114.36 489.54h1.6M109.11 467.55h1.6M116.93 478.73h1.6M116.05 469.32h1.6M115.19 486.7h1.6M111.01 494.84h1.6M108.6 485.22h1.6M110.26 481.1h1.6M107.96 489.3h1.6M118.78 481.57h1.6M122.54 485.46h1.6M110.93 497.32h1.6M117.78 489.82h1.6M108.42 496.99h1.6M107.45 468.64h1.6M122.72 475.19h1.6M107.11 490.29h1.6M110.03 491.82h1.6M106.83 493.18h1.6M117.09 491.59h1.6M107.73 483.82h1.6M107.21 492.51h1.6M110.38 480.27h1.6M108.55 478.39h1.6M106.91 469.44h1.6M121.3 489.06h1.6M114.26 493.99h1.6M111.17 476.34h1.6M112.41 470.05h1.6M119.83 475.53h1.6M113.94 467.79h1.6M112.23 486.32h1.6M109.58 483.38h1.6M107.03 475.11h1.6M119.72 490.17h1.6M117.15 488.39h1.6M107.9 469.2h1.6M113.06 471.5h1.6M109.88 470.21h1.6M113.88 488.23h1.6M112.72 492.59h1.6M106.96 472.96h1.6M109.53 487.3h1.6M118.25 472.67h1.6M108.48 497.19h1.6M118.09 484.56h1.6M113.09 489.24h1.6M115.86 470.56h1.6M120.04 474h1.6M110.59 478.9h1.6M107.67 487.44h1.6M110.86 468.05h1.6M108.8 481.21h1.6M108.42 470.75h1.6M109.8 474.21h1.6M108.84 469.23h1.6M116.41 469.34h1.6M108.7 496h1.6M110.47 469.69h1.6M108.08 481h1.6M110.35 487.42h1.6M108.87 497.23h1.6M109.91 467.48h1.6M119.62 483.57h1.6M113.16 494.74h1.6M108.21 473.78h1.6M114.4 471.45h1.6M113.76 487.91h1.6M112.37 479.59h1.6M109.6 492.46h1.6M116.53 488.91h1.6M109.38 471.34h1.6M116.87 494.25h1.6M110.85 472.27h1.6M108.6 467.69h1.6M108.81 474.6h1.6M108.11 494.59h1.6M109.94 488.31h1.6M110.89 478.35h1.6M110.82 489.63h1.6M118.29 490.59h1.6M110.65 473.72h1.6M107.41 471.31h1.6M112.96 488.68h1.6M109.83 481.88h1.6M110.19 490.57h1.6M111.22 492.26h1.6M116.99 473.21h1.6M116.06 489.33h1.6M109.79 488.42h1.6M109.37 477.4h1.6M112.34 479.91h1.6M111.27 468.83h1.6M109.61 469.95h1.6M110.06 495.55h1.6M107.68 471.86h1.6M113.47 489.07h1.6M108.43 485.07h1.6M110.8 470h1.6M116.58 471.38h1.6M110.97 475.05h1.6M116.03 489.29h1.6M118.27 475.12h1.6M108.34 468.65h1.6M114.79 473.2h1.6M115.57 483.09h1.6M108.63 469.29h1.6M110.64 476.88h1.6M117.83 475.67h1.6M109.03 481.39h1.6M120.15 480.52h1.6M107.68 475.96h1.6M109.13 470.41h1.6M114.17 477.48h1.6M111 496.85h1.6M119.2 489.59h1.6M110.15 496.44h1.6M109.37 493.27h1.6M109.79 489.92h1.6M121.75 484.72h1.6M113.28 477.94h1.6M111.18 487.2h1.6M112.62 492.23h1.6M107.62 493.75h1.6M110.5 477.56h1.6M108.53 477.15h1.6M120.59 474.09h1.6M107.97 489.8h1.6M110.4 478.23h1.6M108.96 495.1h1.6M110.29 476.38h1.6M115.46 487.58h1.6M116.51 491.46h1.6M110.39 467.87h1.6M111.28 475.59h1.6M115.69 481.47h1.6M106.89 477.55h1.6M119.76 474.4h1.6M123.15 480.68h1.6M108 491.51h1.6M109.26 481.21h1.6M120.07 474.64h1.6M109.59 479.69h1.6M112.05 472.1h1.6M108.27 473.06h1.6M109.3 472.32h1.6M113.78 477.98h1.6M112.89 488.26h1.6M109.43 493.57h1.6M106.9 493.12h1.6M113.75 480.37h1.6M117.02 487.85h1.6M112.39 481.81h1.6M113.09 494.51h1.6M111.31 478.48h1.6M109.57 488.24h1.6M109.34 474.12h1.6M108.35 495.43h1.6M107.45 468.86h1.6M107.17 488.8h1.6M108.74 472.1h1.6M114.32 479.1h1.6" stroke="#ff0000" stroke-width="1.6" fill="none"/>
<path d="M55.7 486.35h1.6M60.36 472.6h1.6M61.2 477.89h1.6M64.16 485.29h1.6M62.89 470.48h1.6M119.59 444.04h1.6M121.7 457.79h1.6M124.88 464.14h1.6M128.05 464.14h1.6M132.28 468.37h1.6M123.82 490.58h1.6M126.99 482.12h1.6M122.76 475.77h1.6M115.36 464.14h1.6" stroke="#ff0000" stroke-width="1.6" fill="none"/>
<rect x="53.3" y="441.5" width="84" height="67.7" fill="none" stroke="#111" stroke-width="1.15"/>
<path d="M50.5 507.1L53.3 507.1" stroke="#000" stroke-width="0.9"/>
<text x="49.1" y="509.4" font-size="6.6" fill="#333" color="#333" text-anchor="end">0</text>
<path d="M50.5 492.55L53.3 492.55" stroke="#000" stroke-width="0.9"/>
<text x="49.1" y="494.85" font-size="6.6" fill="#333" color="#333" text-anchor="end">2</text>
<path d="M50.5 478L53.3 478" stroke="#000" stroke-width="0.9"/>
<text x="49.1" y="480.3" font-size="6.6" fill="#333" color="#333" text-anchor="end">4</text>
<path d="M50.5 463.45L53.3 463.45" stroke="#000" stroke-width="0.9"/>
<text x="49.1" y="465.75" font-size="6.6" fill="#333" color="#333" text-anchor="end">6</text>
<path d="M50.5 448.9L53.3 448.9" stroke="#000" stroke-width="0.9"/>
<text x="49.1" y="451.2" font-size="6.6" fill="#333" color="#333" text-anchor="end">8</text>
<path d="M53.5 509.2L53.5 512.2" stroke="#000" stroke-width="0.9"/>
<text x="53.5" y="521.4" font-size="6.6" fill="#333" color="#333" text-anchor="middle">-4</text>
<path d="M64.3 509.2L64.3 512.2" stroke="#000" stroke-width="0.9"/>
<text x="64.3" y="521.4" font-size="6.6" fill="#333" color="#333" text-anchor="middle">-3</text>
<path d="M75.1 509.2L75.1 512.2" stroke="#000" stroke-width="0.9"/>
<text x="75.1" y="521.4" font-size="6.6" fill="#333" color="#333" text-anchor="middle">-2</text>
<path d="M85.9 509.2L85.9 512.2" stroke="#000" stroke-width="0.9"/>
<text x="85.9" y="521.4" font-size="6.6" fill="#333" color="#333" text-anchor="middle">-1</text>
<path d="M96.7 509.2L96.7 512.2" stroke="#000" stroke-width="0.9"/>
<text x="96.7" y="521.4" font-size="6.6" fill="#333" color="#333" text-anchor="middle">0</text>
<path d="M107.5 509.2L107.5 512.2" stroke="#000" stroke-width="0.9"/>
<text x="107.5" y="521.4" font-size="6.6" fill="#333" color="#333" text-anchor="middle">1</text>
<path d="M118.3 509.2L118.3 512.2" stroke="#000" stroke-width="0.9"/>
<text x="118.3" y="521.4" font-size="6.6" fill="#333" color="#333" text-anchor="middle">2</text>
<path d="M129.1 509.2L129.1 512.2" stroke="#000" stroke-width="0.9"/>
<text x="129.1" y="521.4" font-size="6.6" fill="#333" color="#333" text-anchor="middle">3</text>
<text x="94.8" y="437.5" font-size="6.6" fill="#222" color="#222" style="stroke-width:0.14px" text-anchor="middle" textLength="80" lengthAdjust="spacingAndGlyphs"><tspan>CD19</tspan><tspan font-size="4.0" dy="-2.7">+</tspan><tspan dy="2.7">/CD20</tspan><tspan font-size="4.0" dy="-2.7">-</tspan><tspan dy="2.7">vs CD19</tspan><tspan font-size="4.0" dy="-2.7">+</tspan><tspan dy="2.7">/CD20</tspan><tspan font-size="4.0" dy="-2.7">+</tspan></text>
<text x="95.1" y="533.5" font-size="8.6" fill="#222" color="#222" text-anchor="middle" textLength="65" lengthAdjust="spacingAndGlyphs" style="stroke-width:0.3px">log2 (fold change)</text>
<text x="39.2" y="475.95" font-size="5.4" fill="#222" color="#222" text-anchor="middle" textLength="44" lengthAdjust="spacingAndGlyphs" transform="rotate(-90 39.2 475.95)" style="stroke-width:0.12px">-log10 (adj.P.Val)</text>
<path d="M210.18 507.28h1M208.28 500.53h1M207.52 501.98h1M226.83 499.5h1M220 504.79h1M203.61 502.74h1M228.6 503.89h1M217.4 506.49h1M222.33 501.86h1M215.57 507.02h1M230.86 506.78h1M221.01 500.21h1M208.28 502.26h1M225.29 499.04h1M228.97 505.68h1M219.49 499.05h1M228.84 502.52h1M224.59 503.84h1M226.54 502.47h1M233.16 504.23h1M212.94 502.2h1M211.38 506.68h1M228.64 505.7h1M229.6 507.42h1M225.2 501.71h1M227.5 501.23h1M222.66 500.35h1M230.8 503.15h1M211.58 506.84h1M205.24 506.91h1M227.48 500.27h1M227.61 503.87h1M232.44 503.99h1M216.6 506.93h1M205.38 505.61h1M205.9 501.35h1M206.25 506.41h1M217.08 505.17h1M210.97 505.21h1M223.91 499.83h1M218.8 505.14h1M209.58 504.56h1M211.67 502.15h1M232.86 507.02h1M221.37 505.87h1M227.53 502.88h1M231 502.41h1M233.85 503.02h1M206.41 505.37h1M207.28 504.78h1M204.27 507.4h1M220.35 505.29h1M206.83 504.41h1M214.92 501.12h1M218.27 499.74h1M230.6 506.59h1M203.64 502.95h1M217.98 505.11h1M226.56 501.92h1M207.01 505.92h1M206.46 500.58h1M219 501.86h1M207.91 506.9h1M218.14 505.68h1M210.76 506.76h1M209.8 506.7h1M222.72 507.25h1M227.95 504.36h1M220.09 506.27h1M217.14 499.84h1M232.65 505.85h1M225.01 505.33h1M210.16 502.94h1M229.66 507.18h1M225.07 503.71h1M215.87 500.43h1M207.02 503h1M218.77 501.28h1" stroke="#bdbdbd" stroke-width="1" fill="none"/>
<path d="M212.3 472.2L214.8 472.2L215.5 478.1L217.2 484.6L218.5 491.2L219.4 500.3L219.8 502.5L212.3 502.5Z" fill="#bdbdbd"/>
<path d="M226.2 474.8L224.3 474.8L223.7 478.1L222.1 484.6L221.1 491.2L220.1 500.3L219.8 502.5L226.2 502.5Z" fill="#bdbdbd"/>
<path d="M207 504L209 501.6L230 501.6L232 504L231 507.4L208 507.4Z" fill="#bdbdbd"/>
<path d="M212.3 465L212.3 501.8L206.3 501.8L203 497L201.5 488L201.8 478L203.5 470L207 466Z" fill="#ff0000"/>
<path d="M226.2 466L226.2 501.8L231.3 501.8L234.5 496L236.5 487L237 478L235 470L231 466Z" fill="#ff0000"/>
<path d="M204.67 485.58h1.5M209.35 487.01h1.5M204.88 485.32h1.5M203.68 488.64h1.5M206.99 501.54h1.5M208.45 477.82h1.5M206.76 498.07h1.5M208.26 477.74h1.5M207.49 475.31h1.5M200.42 485.55h1.5M202.75 483.7h1.5M208.25 490.85h1.5M208.36 492.03h1.5M204.02 486.17h1.5M211.03 487.02h1.5M210.1 463.68h1.5M202.71 470.41h1.5M210.19 467.27h1.5M211.38 473.98h1.5M210.76 484.02h1.5M205.12 491.39h1.5M209.17 474.1h1.5M202.06 477.9h1.5M208.17 501.75h1.5M207.71 489.61h1.5M202.22 492.55h1.5M206.85 477.69h1.5M211 473.48h1.5M202.08 486.98h1.5M209.82 469.63h1.5M206.28 486.41h1.5M206.96 479.86h1.5M200.99 480.26h1.5M203.12 493.79h1.5M203.18 496.51h1.5M205.98 478.84h1.5M204.29 494.13h1.5M202.94 490.28h1.5M210.22 481.48h1.5M206.28 500.54h1.5M207.48 470.48h1.5M204.24 466.75h1.5M208.01 480.3h1.5M203.97 483.89h1.5M211.43 473.05h1.5M202.14 475.52h1.5M204.16 499.99h1.5M208.69 480.51h1.5M208 469.49h1.5M207.73 465.52h1.5M206.33 476.73h1.5M201.52 493.21h1.5M208.82 483.83h1.5M202.3 490.26h1.5M205.45 489.92h1.5M205.04 471.19h1.5M201.35 490.98h1.5M203.47 490.3h1.5M202.95 479.38h1.5M208.48 480.59h1.5M211.23 467.2h1.5M206.27 482.93h1.5M202.61 490.27h1.5M206.19 495.89h1.5M203.77 500.96h1.5M209.98 482.32h1.5M201.98 482.73h1.5M201.81 490.91h1.5M208.59 486.56h1.5M208.8 495.57h1.5M201.64 476.19h1.5M200.94 486.75h1.5M208.89 477.24h1.5M208.57 478h1.5M208.76 474.36h1.5M208.93 498.16h1.5M207.87 469.44h1.5M210.66 492.17h1.5M201.67 478.56h1.5M200.81 477.47h1.5M204.09 499.95h1.5M209.64 498.17h1.5M207.96 501.52h1.5M207.03 471.11h1.5M206.47 482.71h1.5M204.31 478.28h1.5M206.37 486.96h1.5M202.95 474.38h1.5M206.28 483.55h1.5M205.28 490.04h1.5M202.51 484.68h1.5M203.58 494.33h1.5M208.66 494.77h1.5M206.45 473.23h1.5M211.3 483.83h1.5M204.76 474.91h1.5M205.08 491.84h1.5M210.03 482.69h1.5M208.99 471.77h1.5M205.67 477.64h1.5M203.94 477.71h1.5M209.27 492.84h1.5M202.77 472.62h1.5M209.62 489.65h1.5M208.34 488.87h1.5M208.54 474.2h1.5M201.03 477.75h1.5M206.54 490.28h1.5M203.03 476.79h1.5M201.59 495.36h1.5M209.06 482.9h1.5M204.69 474.08h1.5M206.09 491.98h1.5M210.94 497.52h1.5M210.61 480.94h1.5M205.31 475.87h1.5M202.18 474.53h1.5M211.26 497.67h1.5M204.24 497.63h1.5M210.89 480.45h1.5M202.59 494.44h1.5M204.75 467.99h1.5M211.03 480.95h1.5M205.03 487.25h1.5M204.94 478.51h1.5M209.35 476.63h1.5M208.38 488.44h1.5M208.31 487.89h1.5M203.79 471.26h1.5M210.47 499.96h1.5M203.08 486.88h1.5M207.13 476.19h1.5M207.96 487.52h1.5M206.36 468.11h1.5M202.83 475.76h1.5M205.25 477.86h1.5M211.02 467.85h1.5M210.48 473.01h1.5M207.28 478.42h1.5M209.93 474.05h1.5M209.52 482.55h1.5M204.82 472.38h1.5M207.73 494.65h1.5M210.31 485.35h1.5M204.9 495.52h1.5M201.55 473.68h1.5M209.25 480.98h1.5M205.79 471.76h1.5M201.38 478.09h1.5M205.44 483.71h1.5M203.74 491.57h1.5M202.31 483.82h1.5M206.17 478.21h1.5M210.53 471.64h1.5M210.73 477.64h1.5M204.29 488.04h1.5M207 474.65h1.5M204.69 467.79h1.5M208.1 484.69h1.5M204.2 476.45h1.5M210.34 476.86h1.5M204.59 479.43h1.5M202.23 489.97h1.5M208.2 481.22h1.5M205.13 472.58h1.5M209.69 481.66h1.5M210.19 478.33h1.5M209.02 464.32h1.5M208.41 490.51h1.5M206.21 482.28h1.5M202.65 470.16h1.5M207.97 491.24h1.5M203.38 489.25h1.5M201.92 487.97h1.5M202.34 483.78h1.5M204.03 485.45h1.5M201.9 482.72h1.5M207.63 468.61h1.5M203.97 490.63h1.5M206.79 488.12h1.5M209.57 486.29h1.5M202.94 481.07h1.5M210.17 486.09h1.5M209.25 477.89h1.5M210.07 489.58h1.5M201.57 487.92h1.5M203.48 497.39h1.5M202.41 496.67h1.5M210.88 480.97h1.5M210.17 491.02h1.5M206.63 498.07h1.5M201.16 488.42h1.5M203.78 474.44h1.5M211.23 499.8h1.5M205.53 495.37h1.5M203.64 500.66h1.5M209.93 492.79h1.5M211.29 485.51h1.5M207.58 498.05h1.5M202.01 491.46h1.5M205.82 494.97h1.5M205.72 471.12h1.5M209.15 496.8h1.5M203.25 491.29h1.5M205.01 472.23h1.5M204.68 483.79h1.5M209.26 493.32h1.5M210.71 477.6h1.5M202.8 477.22h1.5M209 489.79h1.5M205.13 484.39h1.5M205.91 483.67h1.5M209.65 471.16h1.5M208.89 477.46h1.5M209.96 466.97h1.5M203.58 488.88h1.5M206.03 478.41h1.5M207.18 471.97h1.5M209.79 473.43h1.5M210.17 485.51h1.5M207.45 488.5h1.5M201.79 494.62h1.5M203.77 498.08h1.5M209.65 490.61h1.5M209.99 480.83h1.5M208.3 501.72h1.5M205.2 483.78h1.5M202.08 472.11h1.5M210.6 478.86h1.5M207.16 470.84h1.5M205.95 484.92h1.5M205.53 483.54h1.5M210.25 463.83h1.5M211.35 471.22h1.5M207.07 484.93h1.5M202.89 494.77h1.5M203.94 492.58h1.5M203.02 486.34h1.5M208 478.2h1.5M206.01 465.8h1.5M207.95 491.14h1.5M202.13 485.45h1.5M209.01 467.25h1.5M210.27 498.39h1.5M201.33 482.96h1.5M203.28 475.3h1.5M205.79 478.2h1.5M209.67 492.41h1.5M201.59 491.38h1.5M209.3 479.82h1.5M211.37 479.04h1.5M205.54 480.85h1.5M209.43 496.79h1.5M205.96 470.37h1.5M205.13 499.24h1.5M205.15 489.91h1.5M206.95 481.83h1.5M207.13 473.08h1.5M206.93 498.16h1.5" stroke="#ff0000" stroke-width="1.5" fill="none"/>
<path d="M225.8 478.8h1.5M232.36 497.47h1.5M230.43 469.43h1.5M228.42 492.33h1.5M233.5 472.32h1.5M232.48 490.13h1.5M230.1 477.07h1.5M231.94 477.53h1.5M226.37 490.67h1.5M228.26 495.4h1.5M228.48 485.76h1.5M234.45 468.82h1.5M233.45 478.79h1.5M226.98 479.82h1.5M230.8 480.61h1.5M226.3 484.85h1.5M229.4 481.41h1.5M228.67 489.72h1.5M234.74 479.75h1.5M233.82 475.25h1.5M226.15 465.93h1.5M230.18 498.68h1.5M227.26 481.61h1.5M233.91 475.14h1.5M226.66 484.72h1.5M229.9 501.23h1.5M235.51 473.64h1.5M231.51 480.66h1.5M235.73 476.19h1.5M231.81 492.24h1.5M225.6 500.66h1.5M226.15 476.14h1.5M229.31 469.25h1.5M230.47 464.89h1.5M226.64 473.03h1.5M225.82 467.83h1.5M227.16 484.65h1.5M226.48 496.6h1.5M229.8 474.19h1.5M227.71 497.33h1.5M226.01 501.46h1.5M229.7 487.8h1.5M225.61 491.58h1.5M231.83 492.66h1.5M228.15 483.83h1.5M227.07 481.48h1.5M228.19 487.33h1.5M228.4 475.09h1.5M232.48 467.64h1.5M234.37 483.79h1.5M227.57 468.79h1.5M230.89 484.11h1.5M233.4 478.99h1.5M229.75 499.42h1.5M234.52 488.36h1.5M232.54 496.15h1.5M231.48 467.4h1.5M235.1 471.18h1.5M227.93 488.53h1.5M227.15 482.48h1.5M233.33 468.05h1.5M232.7 468.38h1.5M230.5 489.84h1.5M229.49 481h1.5M229.3 491.68h1.5M233.65 489.87h1.5M229.63 486.7h1.5M230.97 471.67h1.5M230.38 497.31h1.5M227.71 493.52h1.5M228.03 495.28h1.5M230.5 476.57h1.5M229.23 495.73h1.5M232.8 470.97h1.5M226.7 486.64h1.5M227.37 477.52h1.5M226.07 470.36h1.5M233.37 473.07h1.5M234.92 477.23h1.5M234.93 476.18h1.5M228.03 479.82h1.5M229.36 464.77h1.5M235.08 479.04h1.5M227.56 474.23h1.5M233.28 487.19h1.5M230.84 473.96h1.5M233.3 496.15h1.5M233.11 485.92h1.5M234.51 470.35h1.5M231.26 474.74h1.5M229.59 471.8h1.5M233.26 486.84h1.5M234.11 489.01h1.5M231.97 500.57h1.5M234.5 486.59h1.5M228.72 500.81h1.5M229.26 468.29h1.5M228.81 492.08h1.5M234.09 481.81h1.5M230.33 494.18h1.5M228.62 468.59h1.5M232.21 496.12h1.5M227.8 491.19h1.5M226.46 483.68h1.5M228.82 501.66h1.5M234.27 489.14h1.5M226.92 467.26h1.5M230.23 464.97h1.5M230.56 480.49h1.5M236.19 480.56h1.5M231.81 473.63h1.5M228.47 483.62h1.5M229.54 489.69h1.5M230.85 476.99h1.5M227.26 477.49h1.5M225.51 480.92h1.5M234.79 491.74h1.5M231.81 487.12h1.5M227.96 488.71h1.5M225.63 485.62h1.5M229.31 483.64h1.5M229.65 468.29h1.5M233.54 495.79h1.5M231.96 468.83h1.5M231.97 498.57h1.5M232.75 475.16h1.5M235.48 474.01h1.5M231.7 479.19h1.5M228.36 494.25h1.5M232.17 477.33h1.5M231.3 500.83h1.5M231.58 500.24h1.5M231.41 492.89h1.5M230.53 489.24h1.5M231.19 492.03h1.5M228.65 498.78h1.5M225.56 495.39h1.5M234.36 473.64h1.5M229.38 473.18h1.5M233.22 485.09h1.5M232.04 477.09h1.5M227.79 484.59h1.5M229.43 477.9h1.5M234.39 471.16h1.5M231.48 494.75h1.5M228.06 483.68h1.5M234.84 479.91h1.5M231.36 500.81h1.5M225.61 477.24h1.5M226.7 469.54h1.5M228.46 491.86h1.5M231.74 469.06h1.5M234.37 484.24h1.5M226.55 496.58h1.5M234.6 472.8h1.5M227.57 464.31h1.5M226.01 494.45h1.5M234.03 489.22h1.5M228.74 497.11h1.5M235.79 476.61h1.5M232.97 491.22h1.5M234.93 486.59h1.5M228.12 474.18h1.5M231.3 469.6h1.5M227.73 491.72h1.5M232.85 469.07h1.5M234.1 494.45h1.5M228.49 468.13h1.5M228.2 494.65h1.5M230.39 496.38h1.5M226.74 468.46h1.5M228.99 498.92h1.5M226.77 467.16h1.5M232.78 467.55h1.5M227.78 490.4h1.5M235.23 480.38h1.5M230.19 465.49h1.5M228.9 473.8h1.5M234.22 492.39h1.5M234.17 485.21h1.5M233.16 469.28h1.5M229.42 475.8h1.5M228.2 493.38h1.5M227.39 477.08h1.5M228.2 498.29h1.5M232.43 483.19h1.5M229.36 500.56h1.5M236.01 481.97h1.5M231.58 498.23h1.5M227.89 474.45h1.5M226.07 484.04h1.5M233.98 470.43h1.5M230.57 479.33h1.5M229.32 469.13h1.5M232.41 493.42h1.5M228.5 484.55h1.5M228.27 481.83h1.5M230.41 500.19h1.5M226.5 500.54h1.5M232.46 498.63h1.5M234.58 479h1.5M234.69 472.68h1.5M233.79 482.71h1.5M229.73 472.01h1.5M234.35 493.05h1.5M227.48 479.04h1.5M229.78 486.97h1.5M232.37 478.66h1.5M226.13 466.98h1.5M231.01 487.23h1.5M229.76 478.09h1.5M229.82 471.03h1.5M236.01 487.54h1.5M231.3 481.04h1.5M227.82 476.69h1.5M230.71 481.84h1.5M227.31 466.38h1.5M226.74 477.89h1.5M227.66 495h1.5M230.1 485.43h1.5M231.18 465.94h1.5M225.64 490.56h1.5M233.04 479.25h1.5M228.44 466.9h1.5M231.42 490.04h1.5M227.51 465.99h1.5M230.64 465.61h1.5M233.6 488.9h1.5M228.17 481.82h1.5M227.62 471.59h1.5M227 496.39h1.5M230.23 492.44h1.5M228.98 496.04h1.5M231.93 490.02h1.5M229.51 486.39h1.5M232.83 485.24h1.5M232.44 468.21h1.5M228.82 473.35h1.5M230.13 498.47h1.5M234.15 492.57h1.5M228.43 473.42h1.5M233.22 476.03h1.5M233.44 478.05h1.5M233.88 486.83h1.5M229.46 494.58h1.5M228.59 472.47h1.5M234.16 485.94h1.5M233.83 483.54h1.5M227.44 482.85h1.5M232.76 494.36h1.5" stroke="#ff0000" stroke-width="1.5" fill="none"/>
<path d="M202.89 463.42h1.6M201.02 489.61h1.6M193.47 470.28h1.6M209.98 467.3h1.6M203.59 481.21h1.6M210.27 501.02h1.6M193.98 469.18h1.6M192.46 463.73h1.6M194.96 459.09h1.6M206.11 481.24h1.6M203.73 465.03h1.6M207.24 470.66h1.6M186.38 466.83h1.6M189.22 479.57h1.6M206.2 457.93h1.6M207.94 459.44h1.6M208.73 463.13h1.6M207.62 491.89h1.6M196.1 490.71h1.6M209.85 472.36h1.6M197.7 493.8h1.6M210.2 501.03h1.6M203.82 489.55h1.6M192.41 455.16h1.6M211.46 490.16h1.6M202.78 482.31h1.6M207.42 489.76h1.6M203.59 477.8h1.6M196.34 466.43h1.6M208.71 478.72h1.6M205.7 461.5h1.6M188.41 463.63h1.6M205.8 478.95h1.6M209.52 485.58h1.6M200.36 459.56h1.6M204.28 472.9h1.6M200.86 471.49h1.6M210 467.42h1.6M207.3 465.18h1.6M203.66 493.02h1.6M208.01 496.08h1.6M204.11 476.11h1.6M209.83 483.99h1.6M200.78 474.19h1.6M209.72 489.69h1.6M210.33 469.51h1.6M202.08 470.26h1.6M208.99 478.92h1.6M209.18 461.39h1.6M199.12 487.27h1.6M199.15 463.46h1.6M196.69 456.55h1.6M199.77 469.47h1.6M206.1 492.61h1.6M208.57 485.86h1.6M205.11 470.2h1.6M211.12 465.93h1.6M193.11 458.15h1.6M202.21 487.26h1.6M209.78 465.51h1.6M201.85 486.02h1.6M204.42 497.89h1.6M205.86 459.55h1.6M207.68 487.62h1.6M203.35 492.88h1.6M193.7 459.8h1.6M199.8 480.76h1.6M206.34 457.5h1.6M200.36 458.99h1.6M203.53 471.72h1.6M197.41 493.78h1.6M208.52 470.8h1.6M205.29 480.92h1.6M206.36 468.39h1.6M196.09 481.02h1.6M205.79 460.75h1.6M205.56 460.93h1.6M208.99 490.55h1.6M205.88 487.19h1.6M203.31 475.68h1.6M202.36 455.37h1.6M207.35 481.09h1.6M210.96 501h1.6M207.02 456.87h1.6M211.23 494.91h1.6M191.13 464.21h1.6M203.43 488.89h1.6M197.5 467.43h1.6M197.56 483.97h1.6M206.76 477.57h1.6M194.49 483.04h1.6M193.96 468.4h1.6M210.7 482.63h1.6M210.2 497.04h1.6M194.46 460.29h1.6M209.66 479.78h1.6M200.85 474.59h1.6M207.96 497.27h1.6M201.05 471.36h1.6M211.23 469.35h1.6M197.8 461.23h1.6M202.92 471.66h1.6M201.39 491.09h1.6M199.94 469.56h1.6M201.88 490.1h1.6M198.47 454.93h1.6M201.33 493.62h1.6M205.8 472.67h1.6M209.47 499.09h1.6M203.71 460.19h1.6M207.15 486.82h1.6M199.29 454.09h1.6M209.05 493.92h1.6M207.11 478.96h1.6M207.84 459.13h1.6M205.48 469.96h1.6M204.69 481.82h1.6M200.21 456.95h1.6M193.49 459.28h1.6M204.15 489.74h1.6M207.02 484.12h1.6M200.15 472.88h1.6M201.93 499.83h1.6M192.25 478.62h1.6M209.22 482.03h1.6M200.69 492.45h1.6M206.14 459.45h1.6M195.35 463.38h1.6M196.2 471.13h1.6M204.72 477.79h1.6M208.75 459.22h1.6M200.06 458.98h1.6M201.61 472.04h1.6M208.05 498.44h1.6M205.53 461.71h1.6M206.84 494.81h1.6M209.92 466.13h1.6M203.01 464.81h1.6M202.14 485.02h1.6M207.75 490.8h1.6M199.36 461.59h1.6M208.61 485.97h1.6M210.83 491.18h1.6M200.25 475.12h1.6M210.03 475.5h1.6M199.3 468.54h1.6M198.03 456.64h1.6M199.24 472.56h1.6M210.81 467.19h1.6M198.27 492.98h1.6M199.35 482.26h1.6M204.89 471.83h1.6M197.87 466.02h1.6M198.36 455.6h1.6M204.33 478.6h1.6M207.94 500.89h1.6M189.63 465.13h1.6M209.1 460.04h1.6M210.74 497.63h1.6M205.96 462.42h1.6M191.28 455.49h1.6M194.63 489.01h1.6M198.87 480.12h1.6M200.55 475.45h1.6M207.14 487.74h1.6M210.78 496.41h1.6M206.13 491.28h1.6M211.49 483.11h1.6M201.72 496.07h1.6M208.88 481.27h1.6M201.44 491.73h1.6M206.24 480.48h1.6M210.65 482.21h1.6M200.17 495.96h1.6M197.59 484.65h1.6M198.44 470.91h1.6M203.16 469.98h1.6M203.26 461.13h1.6M205.99 487.2h1.6M197.63 479.03h1.6M205.35 457.47h1.6M207.27 483.26h1.6M209.62 496.44h1.6M206.53 457.49h1.6M206.61 470.2h1.6M208.07 488.4h1.6M210.39 484.05h1.6M190.08 469.73h1.6M203.97 476.15h1.6M196.36 488.91h1.6M208.17 492.04h1.6M203.8 484.21h1.6M202.78 479.24h1.6M203.59 459.56h1.6M207.7 481.57h1.6M203.97 477.77h1.6M199.82 454.22h1.6M209.18 485.86h1.6M203.33 477.64h1.6M198.38 466.06h1.6M209.02 501.71h1.6M198.83 458.33h1.6M210.47 491.3h1.6M210.31 485.47h1.6M208.12 497.95h1.6M202.33 485.92h1.6M210.77 494.49h1.6M210.22 489.01h1.6M206.98 493.5h1.6M202.89 462.04h1.6M199.32 484.69h1.6M206.31 474.75h1.6M202.39 460.42h1.6M194.54 489.24h1.6M193.19 474.79h1.6M196.13 488.58h1.6M202.46 474.6h1.6M188.25 460.45h1.6M191.45 465.41h1.6M202.57 475.19h1.6M195.12 485.11h1.6M205.66 496.4h1.6M195.08 478.8h1.6M210.61 496.9h1.6M208.28 483.95h1.6M196.78 474.38h1.6M199.71 466.87h1.6M193.03 482h1.6M207.15 463.57h1.6M199.89 469.41h1.6M206.41 464.73h1.6M203.93 477.99h1.6M200.54 470.49h1.6M207.42 472.06h1.6M199.83 463.13h1.6M204.64 461.25h1.6M202.66 479.26h1.6M210.5 477.59h1.6M197.82 463.96h1.6M208.81 494.44h1.6M210.78 500.69h1.6M206.4 475.87h1.6M206.22 485.89h1.6M196.13 487.67h1.6M199.58 470.81h1.6M208.45 496.49h1.6M205 493.54h1.6M207.87 462.45h1.6M198.82 489.51h1.6M195.61 474.12h1.6M198 488.48h1.6M202.71 477.82h1.6M210.61 467.53h1.6M210.52 463.46h1.6M198.9 455.2h1.6M198.74 461.83h1.6M209.09 475.37h1.6M202.34 457.54h1.6M208.25 481.14h1.6M205.42 467.01h1.6M211.21 471.47h1.6M210.69 495.36h1.6M209.43 497.93h1.6M199.16 461.61h1.6M200.38 494.55h1.6M207.58 478.54h1.6M199.64 488.91h1.6M192.13 482.62h1.6M204.64 466.57h1.6M201.89 458.74h1.6M198.32 486.7h1.6M209.23 484.29h1.6M206.83 497.42h1.6M210.51 481.82h1.6M202.93 473.15h1.6M198.66 463.91h1.6M207.51 495.49h1.6M203.41 478.65h1.6M190.71 476.52h1.6M206.29 496.59h1.6M209.8 471.72h1.6M210.3 480.38h1.6M193.66 479.5h1.6M207.2 492.54h1.6M203.46 470.13h1.6M200.11 459.85h1.6M197.79 453.82h1.6M206.2 468.9h1.6M211.39 484.02h1.6M210.97 466.11h1.6M193.45 474.22h1.6M205.97 492.01h1.6M208.72 467.24h1.6M211.4 468.32h1.6M191.87 478.27h1.6M187.69 459.22h1.6M206.33 497.15h1.6M206.46 495.36h1.6M210.41 464.19h1.6M202.98 464.7h1.6M205.8 478.9h1.6M192.6 478.97h1.6M208.19 489.14h1.6M208.47 478.94h1.6M203.18 459.09h1.6M209.62 461.1h1.6M210.52 471.91h1.6M206.44 469.13h1.6M206.51 473.92h1.6M209.41 491.5h1.6M195.01 453.45h1.6M205.13 497.1h1.6M202.48 480.58h1.6M190.03 465.19h1.6M199.8 457.16h1.6M199.61 493.1h1.6M198.63 491.37h1.6M204.2 487.36h1.6M207.35 498.06h1.6M204.88 492.23h1.6M201.32 485.82h1.6M202.74 490.96h1.6M200.57 483.03h1.6M204.4 486.5h1.6M201.74 479.86h1.6M209.99 470.26h1.6M203.9 500.04h1.6M210.37 474.49h1.6M199.12 454.63h1.6M203.1 473.38h1.6M186.56 462.13h1.6M205.75 458.71h1.6M203.89 483.37h1.6M196.78 479.49h1.6M200.14 457.61h1.6M211.25 473.1h1.6M195.33 488.76h1.6M210.3 500.65h1.6M207.4 500.24h1.6M201.25 487.54h1.6M210.57 486.81h1.6M196.3 476.52h1.6M187.26 467.11h1.6M204.01 475.57h1.6M210.44 479.46h1.6M188.75 476.1h1.6M204.11 482.26h1.6M196.38 453.66h1.6M206.62 492.91h1.6M198.43 495.36h1.6M209.78 473.44h1.6M198.01 464.03h1.6M200.42 459.63h1.6M202.91 501.16h1.6M206.42 470.03h1.6M209.58 499.86h1.6M210.26 483.52h1.6M200.97 464.24h1.6M204.84 475.72h1.6M200 466.37h1.6M208.34 484.08h1.6M206.79 474.98h1.6M208.56 468.03h1.6M203.32 491.99h1.6M211.47 489.12h1.6M205.29 495.37h1.6M209.28 474.86h1.6M204.17 487.93h1.6M210.61 497.47h1.6M202.55 478.56h1.6M203.23 498.95h1.6M200.24 489.07h1.6M201.24 489.98h1.6M203.23 498.36h1.6M198.53 489.7h1.6M200.74 476.1h1.6M205.03 484.3h1.6M209.95 470.72h1.6M201.79 455.83h1.6M209.8 467.27h1.6M188.25 468.63h1.6M196.36 485.32h1.6M203.64 491.3h1.6M206.2 469.23h1.6M201.62 471.44h1.6M206.65 501.63h1.6M196.55 475.26h1.6M210.83 490.93h1.6M199.28 472.53h1.6M199.16 470.9h1.6M211.42 468.5h1.6M205.91 486.82h1.6M205.32 477.04h1.6M206.44 477.87h1.6M208.95 500.2h1.6M208.37 489.24h1.6M198.43 478.88h1.6M209.19 461.99h1.6M208.85 479.4h1.6M207.14 497.71h1.6M211.27 472.66h1.6M207.18 471.27h1.6M211.32 492.71h1.6M208.29 472.23h1.6M194.7 481.92h1.6M199.55 469.39h1.6M205.01 471.92h1.6M207.47 480.73h1.6M208.85 482.98h1.6M193.47 465.69h1.6M194.6 486.66h1.6M204.34 459.81h1.6M203.46 461.14h1.6M208.38 498.67h1.6M202.06 482.37h1.6M202.55 477.98h1.6M207.31 468.18h1.6M200.51 491.84h1.6M203.13 464.18h1.6M208.29 492.75h1.6M193.23 477.52h1.6M204.27 490.38h1.6M191.9 483.05h1.6M209.94 489.2h1.6M205.63 458.99h1.6M208.25 469.2h1.6M203.85 494.11h1.6M201.68 498.9h1.6M191.07 454.52h1.6M191.97 457.68h1.6M189.27 473.18h1.6M208.34 469.32h1.6M202.39 491h1.6M208.74 460.48h1.6M209.16 498.04h1.6M195.29 465.89h1.6M203.47 474.84h1.6M209.77 471.95h1.6M204.45 485.92h1.6M203.4 491.26h1.6M204.6 474.56h1.6M208.76 469.36h1.6M206.42 493.79h1.6M202.83 457.83h1.6M210.02 468.32h1.6M208.54 490.65h1.6M207.41 490.55h1.6M209.65 483.54h1.6M211.13 493.24h1.6M206.98 500.11h1.6M189.01 476.87h1.6M199.74 483.95h1.6M198.8 474.65h1.6M205.28 462.97h1.6M211.49 473.47h1.6M200.98 459.04h1.6M203.57 462.16h1.6M209.38 461.84h1.6M204.09 473.93h1.6M205.41 488.21h1.6M204.91 500.64h1.6M203.44 493.52h1.6M208.56 492.27h1.6M191 479.19h1.6M189.79 467.67h1.6M200.29 484.17h1.6M206.28 480.45h1.6M187.54 469.62h1.6M205.36 467.03h1.6M199.07 495.46h1.6M208.74 486.69h1.6M195.95 464.36h1.6M196.57 483.15h1.6M208.47 490.68h1.6M198.57 455.9h1.6M200.3 464.71h1.6M200.02 471.36h1.6M199.87 480.41h1.6M201.76 497.36h1.6M201.05 490.88h1.6M209.32 461.15h1.6M203.48 498.53h1.6M206.01 458.59h1.6M193.96 487.84h1.6M204.03 498.83h1.6M198.16 475.35h1.6M201.72 466h1.6M205.73 477.14h1.6M203.33 458.75h1.6M207.81 466.24h1.6M208.1 471.5h1.6M209.78 487.84h1.6M200.2 484.08h1.6M207.18 485.18h1.6M209.12 486.73h1.6M207.15 482.89h1.6M196.1 458.86h1.6M207.27 476.57h1.6M186.09 458.27h1.6M187.76 467.92h1.6M192.92 463.78h1.6M206.7 492.99h1.6M207.24 485.85h1.6M195.95 491.49h1.6M199.09 489.32h1.6M210.91 490.57h1.6M191.63 475.14h1.6M198.65 467.67h1.6M210.04 499.43h1.6M211.27 487.31h1.6M205.06 468.94h1.6M202.28 458.61h1.6M207.16 480.99h1.6M200.37 488.03h1.6M207.89 473.54h1.6M198.29 482.2h1.6M200.24 481.09h1.6M199.07 465.33h1.6M199.88 490.23h1.6M194.97 482.64h1.6M201.33 485.53h1.6M205.29 487.16h1.6M210.69 498.67h1.6M194.36 462.68h1.6M198.18 460.34h1.6M192.11 477.07h1.6M195.03 480.21h1.6M191.37 455.73h1.6M202.41 480.44h1.6M204.03 464.12h1.6M205.32 474.99h1.6M189.35 464.58h1.6M200.02 492.06h1.6M209.62 488.29h1.6M196.39 474.99h1.6M207.22 499.22h1.6M193.49 465.36h1.6M199.33 480.66h1.6M192.11 484.81h1.6M205.97 496.8h1.6M200.01 466.7h1.6M204.34 499.03h1.6M200.7 464.16h1.6M199.55 455.28h1.6M201.3 491.75h1.6M208.26 499.68h1.6M207.07 480.66h1.6M206.19 497.88h1.6M210.15 471.74h1.6M208.5 467.39h1.6M192.02 468.16h1.6M203.73 487.83h1.6M206.84 496.58h1.6M210.86 489.26h1.6M209.07 466.85h1.6M209.43 463.81h1.6M196.7 475.55h1.6M206.42 481.67h1.6M210.51 501.32h1.6M209.94 475.16h1.6M209.2 494.16h1.6M192.82 458.46h1.6M194.99 453.26h1.6M201.58 480.15h1.6M205.99 461.52h1.6M210.87 481.4h1.6M194.55 464.75h1.6M199.85 461.63h1.6M210.94 479.47h1.6M199.05 478.77h1.6M190.17 463.77h1.6M206.19 487.15h1.6M195.05 464.32h1.6M210.93 469.07h1.6M200.74 473.12h1.6M204.65 487.1h1.6M209.74 479.61h1.6M202.81 477.27h1.6M206.72 480.86h1.6M203.97 462.88h1.6M203.05 473.73h1.6M201.21 455.32h1.6M203.87 475.43h1.6M205.41 472.78h1.6M195.55 454.28h1.6M208.71 488.45h1.6M199.27 466.32h1.6M202.79 455.96h1.6M200.6 473.95h1.6M202.84 468.07h1.6M208.25 460.32h1.6M206.35 500.6h1.6M198.65 469.21h1.6M209.19 477.62h1.6M206.27 467.33h1.6M203.46 461.32h1.6M196.91 479.17h1.6M202.64 465.2h1.6M205.79 462.87h1.6M207.23 493.5h1.6M197.99 482.62h1.6M202.83 475.5h1.6M199.18 470.42h1.6M204.81 491.81h1.6M206.55 501.52h1.6M210.07 475.76h1.6M204.68 458.04h1.6M194.21 471.96h1.6M206.59 485.2h1.6M211.22 487.93h1.6M200.83 481.5h1.6M206.81 501.46h1.6M195.39 467.05h1.6M205.82 474.53h1.6M208.92 466.99h1.6M205.26 486.18h1.6M197.49 493.28h1.6M201.01 472.81h1.6M204.26 476.09h1.6M202.14 458.4h1.6M195.94 472.27h1.6M209.34 471.42h1.6M202.99 469.59h1.6M204.28 477.38h1.6M200.1 458.92h1.6M203.77 479.45h1.6M200.25 487.94h1.6M195.8 470.28h1.6M206.12 496.35h1.6M200.15 476.13h1.6M209.23 498.36h1.6M195.44 476.34h1.6M191.27 468.27h1.6M209.81 495.15h1.6M207.14 485.25h1.6M210.23 492.71h1.6M211.08 470.29h1.6M206.01 464.3h1.6M205.57 479.58h1.6M208.61 493.65h1.6M190.19 455.84h1.6M202.56 467.42h1.6M194.04 482.15h1.6M209.57 463.58h1.6M190.26 475.37h1.6M210.92 475.91h1.6M204.96 469.28h1.6M195.76 486.65h1.6M203.19 459.51h1.6M200.14 496.82h1.6M204.26 474.6h1.6M204.17 465.31h1.6M203.26 471.7h1.6M188.93 463.47h1.6M210.7 471.5h1.6M198.79 478.91h1.6M211.08 479.88h1.6M201.07 497.33h1.6M197.48 493.82h1.6M202.35 477.62h1.6M205.39 473.89h1.6M206.27 501.49h1.6M196.61 461.77h1.6M207.41 482.65h1.6M201.9 457.25h1.6M189.97 467.06h1.6M208.84 460.37h1.6M206.5 475.61h1.6M189 477.2h1.6M209.35 480.75h1.6M210.41 490.1h1.6" stroke="#ff0000" stroke-width="1.6" fill="none"/>
<path d="M228.12 478.3h1.6M243.68 485.19h1.6M225.99 489.24h1.6M234.87 464.28h1.6M228.6 463.84h1.6M235.48 463.42h1.6M228.83 497.25h1.6M235.61 472.57h1.6M229.81 498.19h1.6M236.24 495.71h1.6M231.34 495.68h1.6M240.93 481.14h1.6M229.86 491.65h1.6M228.47 482.58h1.6M231.71 501.1h1.6M241.66 471.11h1.6M241.3 456.84h1.6M226.59 462.39h1.6M241.17 483.72h1.6M238.41 463.13h1.6M233.17 467.73h1.6M226.25 492.83h1.6M230.56 500.94h1.6M240.03 485.28h1.6M230.63 492.96h1.6M230.15 457.33h1.6M228.78 492.57h1.6M234.33 493.04h1.6M231.67 489.54h1.6M228.83 462.43h1.6M231.13 478.38h1.6M234.03 483.52h1.6M235.21 456.29h1.6M229.36 465.54h1.6M228.12 473.21h1.6M230.11 482.97h1.6M226.99 464.76h1.6M225.98 496.17h1.6M233.86 488.44h1.6M233.47 461.3h1.6M226.34 464.91h1.6M231.93 478.02h1.6M231.86 459.68h1.6M247.23 471.31h1.6M229.72 465.92h1.6M230.92 497.82h1.6M235.79 494.63h1.6M230.36 477.46h1.6M231.71 491.99h1.6M240.72 468.83h1.6M242.67 483.97h1.6M239.88 485.01h1.6M226.75 495.61h1.6M228.39 470.17h1.6M231.4 491.85h1.6M232.03 460.66h1.6M230.94 460.39h1.6M235.19 475.93h1.6M229.44 459.95h1.6M238.45 476.48h1.6M235.35 493.54h1.6M240.08 467.3h1.6M235.38 496.36h1.6M230.36 462.1h1.6M232.82 474.49h1.6M236.68 455.64h1.6M237.5 454.94h1.6M238.61 476.97h1.6M233.83 493.71h1.6M227.15 477.27h1.6M234.72 476.12h1.6M228.75 498.36h1.6M234.89 456.37h1.6M238.49 464.16h1.6M230.38 465.64h1.6M230.51 465.02h1.6M231.23 486.58h1.6M231.92 474.54h1.6M225.52 487.13h1.6M235.87 469.72h1.6M229.23 460.95h1.6M230.29 479.06h1.6M236.37 464.37h1.6M242.37 472.02h1.6M242.72 464.94h1.6M225.93 499.41h1.6M232.11 462.73h1.6M234.28 465.35h1.6M234.4 487.23h1.6M228.87 483.05h1.6M233.83 457.82h1.6M240.45 475.12h1.6M234.75 489.07h1.6M231.02 467.69h1.6M229.17 466.68h1.6M230.04 472.96h1.6M228.97 472.46h1.6M232.25 482.23h1.6M240.85 483.55h1.6M232.73 491.44h1.6M240.97 456.27h1.6M241.36 487.18h1.6M230.53 459.69h1.6M226.95 470.4h1.6M237.35 472.25h1.6M227.8 475.7h1.6M226.64 488.55h1.6M244.77 457.31h1.6M229.07 458.42h1.6M225.5 471.39h1.6M238.94 462.05h1.6M241.78 483.76h1.6M227.59 495.26h1.6M229.49 463.62h1.6M226.03 474.99h1.6M228.99 492.81h1.6M228.63 459.87h1.6M235.92 482.42h1.6M234.78 466.96h1.6M237.47 468.39h1.6M230.84 500.87h1.6M237.2 454.5h1.6M236.67 454.61h1.6M237.65 477.26h1.6M226.73 469.88h1.6M227.94 483.46h1.6M238.43 488.89h1.6M226.59 498.66h1.6M238.69 493.19h1.6M237.55 454.65h1.6M228.35 499.85h1.6M239.45 482.71h1.6M233.14 487.61h1.6M228.23 490.72h1.6M225.82 476.57h1.6M240.97 480.68h1.6M240.54 466.88h1.6M233.38 455.61h1.6M228.87 464.07h1.6M242.23 469.4h1.6M228.47 471.82h1.6M243.66 464.11h1.6M233.14 467.87h1.6M232.58 457.03h1.6M227.24 476.42h1.6M239.54 467.01h1.6M229.6 476.87h1.6M234.63 463.08h1.6M238.7 463.47h1.6M237.22 470.97h1.6M238.09 470.86h1.6M237.02 484.27h1.6M243.41 485.05h1.6M226.61 479.81h1.6M239.05 465.2h1.6M231 484.91h1.6M225.47 491.09h1.6M242.61 476.91h1.6M242.64 474.55h1.6M228.26 483.75h1.6M244.25 461.42h1.6M240.16 487.87h1.6M228.03 481.4h1.6M247.34 470.34h1.6M240.53 458.88h1.6M228.14 478.23h1.6M233.14 487.07h1.6M231.74 494.82h1.6M227.64 498.27h1.6M237.59 467.75h1.6M227.27 480.59h1.6M230 480.05h1.6M232.8 486.89h1.6M242.36 455.72h1.6M225.66 480.76h1.6M227.25 499.23h1.6M241.03 476.56h1.6M225.69 464.68h1.6M230.54 495.78h1.6M238.3 464.92h1.6M237.11 475.9h1.6M233.34 477.7h1.6M236.17 459.62h1.6M228.2 482.88h1.6M226.71 468.56h1.6M235.82 481.99h1.6M240.42 484.04h1.6M236.33 475.64h1.6M230.18 485.93h1.6M225.66 471.81h1.6M241.51 486.1h1.6M239.97 465.05h1.6M232.58 471.88h1.6M243.4 471.63h1.6M227.73 496.75h1.6M231.25 497.34h1.6M239.49 471.66h1.6M231.15 458.99h1.6M233.17 494.47h1.6M237.7 478.93h1.6M229.55 497.21h1.6M227.71 461.31h1.6M246.71 470.03h1.6M235.17 488.98h1.6M230.39 469.42h1.6M231.53 493.02h1.6M234.87 490.12h1.6M241.38 463.38h1.6M225.77 494.19h1.6M227.29 483.32h1.6M232.41 461.04h1.6M228.43 472.54h1.6M227.38 480.27h1.6M233.55 477.02h1.6M246.43 468.94h1.6M244.48 468.63h1.6M229.05 491.83h1.6M233.28 460.16h1.6M238.94 477.82h1.6M237.61 478.51h1.6M226.98 486.27h1.6M242.4 485.17h1.6M236.71 474.76h1.6M235.19 479.25h1.6M227.95 472.53h1.6M235.94 462.16h1.6M228.05 487.85h1.6M226.72 462.18h1.6M229.25 499.18h1.6M243.05 477.13h1.6M242.91 458.72h1.6M227.89 464.69h1.6M229.11 465.12h1.6M233.12 480.96h1.6M244.45 458.41h1.6M235.84 465.08h1.6M233.32 489.04h1.6M225.93 479.07h1.6M226.35 474.86h1.6M230.34 480.41h1.6M228.55 480.36h1.6M241.89 476.96h1.6M235.22 473.49h1.6M232.14 460.82h1.6M237.72 461.88h1.6M239.68 466.44h1.6M245.56 482.98h1.6M232.66 496.38h1.6M237.26 480.97h1.6M228.13 463.76h1.6M244.64 458.21h1.6M232.56 476.79h1.6M239.01 482h1.6M246.31 479.7h1.6M237.71 463.23h1.6M231.48 457.56h1.6M228.15 460.82h1.6M243.75 460.94h1.6M226.56 473.97h1.6M230.11 494.1h1.6M231.93 476.14h1.6M228.25 486.87h1.6M226.95 480.84h1.6M231.27 472.78h1.6M236.53 460.81h1.6M225.77 498.81h1.6M244.22 483.05h1.6M230.47 465.17h1.6M229.08 459.19h1.6M238.97 463.16h1.6M226.89 478.09h1.6M230.26 463.2h1.6M229.3 499.96h1.6M232.86 457.4h1.6M245.87 476.07h1.6M230.9 493.2h1.6M229.82 484.81h1.6M236.81 486.06h1.6M234.29 498.98h1.6M226.23 496.2h1.6M234.87 468.99h1.6M241.19 463.3h1.6M228.19 486.68h1.6M232.87 488.03h1.6M230.09 481.47h1.6M238.94 483.34h1.6M237.92 494.17h1.6M232.76 456.45h1.6M226.52 468.64h1.6M229.46 471.31h1.6M228.87 493.67h1.6M227.17 495.12h1.6M231.33 498.27h1.6M234.7 489.49h1.6M239.74 484.31h1.6M230.91 466.59h1.6M243.98 485.26h1.6M235.67 488.16h1.6M233.11 462.23h1.6M225.6 489.95h1.6M248.38 468.03h1.6M242.09 470.1h1.6M241.41 481.95h1.6M229.37 475.13h1.6M238.25 473.39h1.6M231.1 464.79h1.6M231.15 461.77h1.6M226.37 491.69h1.6M246.46 460.54h1.6M246.11 477.18h1.6M231.16 460.83h1.6M228.7 469.63h1.6M232.63 496.08h1.6M225.78 489.75h1.6M226.14 497.81h1.6M227.89 501.29h1.6M240.96 464.37h1.6M239.48 469.08h1.6M246.67 481.78h1.6M237.06 485.94h1.6M232.78 468.69h1.6M226.74 466.34h1.6M225.99 470.11h1.6M243.32 472.42h1.6M227.39 474.53h1.6M241.83 468.57h1.6M232.22 498.4h1.6M237.15 487.11h1.6M238.21 462.61h1.6M235.53 490.52h1.6M230.25 485.63h1.6M234.05 479.35h1.6M230.99 496.9h1.6M241.28 469.14h1.6M225.72 493.06h1.6M232.55 464.12h1.6M229.07 469.96h1.6M230.06 479.9h1.6M228.03 496.88h1.6M235.51 468.35h1.6M240.95 475.86h1.6M231.27 495.84h1.6M237.13 455.17h1.6M232.78 482.54h1.6M232.72 461.42h1.6M228.97 461.57h1.6M228.34 463.44h1.6M230.77 476.09h1.6M233.72 477.33h1.6M229.23 493.12h1.6M231.7 463.98h1.6M240.1 460.29h1.6M226.22 491.47h1.6M244.42 481.73h1.6M226.28 483.2h1.6M238.12 492.06h1.6M236.1 480.58h1.6M230.34 484h1.6M239.44 474.17h1.6M231.56 485.97h1.6M228.6 477.19h1.6M235.57 456.06h1.6M246.29 475.23h1.6M231.52 465.08h1.6M227.24 487.19h1.6M228.85 476.48h1.6M227.65 486.82h1.6M230.48 500.68h1.6M238.62 478.07h1.6M229.76 461.58h1.6M227.6 488.48h1.6M230.85 477.09h1.6M234.77 486.67h1.6M229.65 478.29h1.6M240.59 483.17h1.6M226.79 462.06h1.6M241.76 472.93h1.6M239.93 465.55h1.6M231.31 480.18h1.6M238.72 467.79h1.6M232.75 455.71h1.6M238.7 484.69h1.6M235.54 474.05h1.6M230.04 480.75h1.6M226.06 497.34h1.6M235.35 482.56h1.6M232.61 492.9h1.6M228.26 482.21h1.6M241.81 468.83h1.6M225.83 476.69h1.6M229.38 472.79h1.6M226.66 488.96h1.6M242.58 488.24h1.6M238.79 488.47h1.6M241.17 471.38h1.6M229.49 501.27h1.6M225.6 468.83h1.6M233.43 460.11h1.6M227.51 461.41h1.6M239.47 464.43h1.6M241.84 460.85h1.6M226.99 493.09h1.6M229.16 470.19h1.6M230.91 485.53h1.6M227.59 473.6h1.6M240.39 478.8h1.6M227.35 476.82h1.6M229.61 496.79h1.6M230.44 463.29h1.6M239.48 487.75h1.6M228.45 495.42h1.6M245.31 479.28h1.6M235.23 457.78h1.6M244.86 471.38h1.6M236.22 474.16h1.6M225.55 469.38h1.6M230.99 463.56h1.6M243.8 468.11h1.6M227.39 463.54h1.6M232.03 500.9h1.6M227.37 467.73h1.6M227.56 471.16h1.6M234.93 496.92h1.6M229.83 465.95h1.6M245.49 482.11h1.6M230.82 470.85h1.6M228.12 485.1h1.6M225.8 493.84h1.6M227.55 466.71h1.6M236.14 490.32h1.6M234.26 489.11h1.6M237.67 463.15h1.6M235.65 458.26h1.6M234.01 470.02h1.6M232.64 460.54h1.6M235.23 462.34h1.6M235.19 491.77h1.6M236.13 457.91h1.6M233.25 465.35h1.6M237.3 458.18h1.6M236.12 475.27h1.6M230.46 459.45h1.6M233.56 493.23h1.6M231.13 477.64h1.6M242.36 475.74h1.6M241.44 483.6h1.6M227.63 463.78h1.6M228.03 460.25h1.6M234.72 488.95h1.6M231.54 500.38h1.6M229.03 468.11h1.6M232.86 469.57h1.6M240.17 476.89h1.6M229.76 485.58h1.6M227.78 494.52h1.6M231.37 493.98h1.6M231.95 483.04h1.6M231.89 457.95h1.6M230.76 461.74h1.6M225.7 498.76h1.6M233.52 467.65h1.6M234.27 455.08h1.6M243.35 478.39h1.6M242.3 460.55h1.6M236.54 466.4h1.6M229.13 476.45h1.6M244.83 474.46h1.6M231.56 469.49h1.6M225.99 471.22h1.6M229.94 471.82h1.6M233.91 495.01h1.6M237.35 494.37h1.6M229.3 495.92h1.6M231.59 462.05h1.6M242.98 482.2h1.6M233.36 499.37h1.6M244.21 458.38h1.6M242.59 488.07h1.6M231.34 468.82h1.6M227.75 475.02h1.6M233.62 470.88h1.6M230.33 497.92h1.6M235.25 493.19h1.6M225.78 483.42h1.6M229.24 477.32h1.6M235.12 492.65h1.6M229.47 489.79h1.6M230.64 476.97h1.6M225.79 473.2h1.6M228.19 489.39h1.6M227.45 476.68h1.6M236.64 462.21h1.6M230.53 475.77h1.6M234.51 457.98h1.6M238.44 472.78h1.6M239.82 459.77h1.6M225.43 499.96h1.6M231.46 498.32h1.6M234.08 479.21h1.6M233.66 459.34h1.6M232.21 487.9h1.6M238.48 460.76h1.6M227.61 476.76h1.6M245.83 457.38h1.6M229.83 464.99h1.6M231.44 468.48h1.6M233.83 483.03h1.6M243.26 467.69h1.6M239.41 469.32h1.6M240.08 489.25h1.6M225.8 491.87h1.6M228.29 474.83h1.6M232.78 456.48h1.6M227.65 465.91h1.6M248.24 465.99h1.6M233.29 499.56h1.6M230.96 496.47h1.6M228.52 478.59h1.6M226.26 488.83h1.6M237.5 454.64h1.6M228.66 492.16h1.6M232.63 455.72h1.6M234.4 483.34h1.6M226.68 487.73h1.6M229.77 474.21h1.6M233.78 467.11h1.6M240.79 474.12h1.6M233.25 469.63h1.6M239.93 461.53h1.6M236.57 459.06h1.6M230.29 482.17h1.6M232.69 475.66h1.6M231.44 471.58h1.6M230.06 480.55h1.6M248.27 475.23h1.6M229.73 469.02h1.6M240.75 462.63h1.6M236.19 457.13h1.6M239.41 483.63h1.6M227.17 482.05h1.6M225.5 501.4h1.6M226.23 467.43h1.6M236.14 482.12h1.6M235.25 459.69h1.6M225.86 495.45h1.6M237.84 482.4h1.6M238.78 493.43h1.6M243.81 475.29h1.6M229.66 468.51h1.6M226.85 469.21h1.6M226.95 471.49h1.6M230.12 487.87h1.6M241.31 465.21h1.6M240.49 473.15h1.6M229.03 492.84h1.6M244.5 484.36h1.6M233.79 483.48h1.6M233.35 486.38h1.6M226.17 485.92h1.6M245.87 459.35h1.6M237.02 467.63h1.6M235.89 460.53h1.6M227.73 488.56h1.6M233.85 493.57h1.6M237.15 471.19h1.6M237.65 481.95h1.6M245.37 479.52h1.6M229.87 497.59h1.6M229.59 462.95h1.6M225.79 475.33h1.6M237.89 454h1.6M237.99 472.66h1.6M239.7 479.9h1.6M234.62 471.96h1.6M240.12 473.56h1.6M227.46 473.27h1.6M228.82 493.22h1.6M240.66 473.36h1.6M233.33 488.63h1.6M237.19 491.87h1.6M228.47 487.22h1.6M234.5 479.05h1.6M246.36 470.17h1.6M240.5 465.33h1.6M233.28 499.3h1.6M229.91 496.64h1.6M248.77 470.22h1.6M235.9 486.13h1.6M248.35 467.86h1.6M229.67 488.48h1.6M231.51 464.14h1.6M230.63 484.75h1.6M233.75 469.18h1.6M233.16 483.91h1.6M236.45 476.55h1.6M233.62 482.41h1.6M233.36 456.3h1.6M234.08 483.78h1.6M233.94 464.48h1.6M226.87 462.45h1.6M231.78 499.84h1.6M232.56 482.85h1.6M230.64 477.93h1.6M243.69 469.03h1.6M225.87 497.32h1.6M231.76 458.32h1.6M227.75 487.18h1.6M243.04 488.17h1.6M231.5 499.74h1.6M228.88 461.44h1.6M240.96 479.43h1.6M235.18 495.97h1.6M242.76 459.86h1.6M244.84 478.5h1.6M236.28 454.77h1.6M233.37 461.61h1.6M230.99 481.34h1.6M231.03 484.68h1.6M227.43 472.98h1.6M241.93 474.45h1.6M238.51 459.24h1.6M226.16 495.27h1.6M232.07 470.92h1.6M241.38 467.46h1.6M241.41 486.02h1.6M230.37 473.38h1.6M233.72 488.91h1.6M231.42 491.09h1.6M227.67 484.96h1.6M230.88 488.62h1.6M237.21 470.67h1.6M231.71 494.95h1.6M240.91 460.02h1.6M231.93 481.14h1.6M232.29 469.3h1.6M226.76 474.58h1.6M241.72 470.3h1.6M230.74 466.25h1.6M244.65 482.5h1.6M241.36 482.42h1.6M233.44 485.34h1.6M235.97 497.31h1.6M237.93 481.88h1.6M239.27 481.51h1.6M234.96 462.84h1.6M226.31 490.57h1.6M232.3 479.05h1.6M239.63 477.27h1.6M239.4 455.7h1.6M235.91 456.16h1.6M231.24 479.85h1.6M231.92 476.43h1.6M248.54 476.59h1.6M233.69 467.47h1.6M242.21 476.72h1.6M228.99 493.82h1.6M229.59 480.09h1.6M225.85 495.5h1.6M225.6 481.75h1.6M242.68 476.56h1.6M230.59 475.1h1.6M237.38 482.07h1.6M239.73 491.29h1.6M229.39 469.41h1.6M241.13 464.68h1.6M244.3 482.2h1.6M229.11 467.3h1.6M226.02 469.22h1.6M235.4 493.83h1.6M227.41 478.55h1.6M229.83 466h1.6M239.02 459.22h1.6M226 476.37h1.6M228.62 475h1.6M231.98 460.38h1.6M226 491.31h1.6M235.11 464.13h1.6M236.56 495.45h1.6M236.35 483.77h1.6" stroke="#ff0000" stroke-width="1.6" fill="none"/>
<path d="M194.97 444.23h1.6M192.55 447.46h1.6M180.43 450.69h1.6M183.66 453.12h1.6M181.24 457.16h1.6M184.47 462h1.6M182.05 473.31h1.6M183.66 469.27h1.6M186.89 481.39h1.6M188.51 489.47h1.6M193.36 495.93h1.6M197.39 499.97h1.6M201.43 502.39h1.6M202.24 452.31h1.6M196.59 447.46h1.6M245.86 443.91h1.6M252.32 447.46h1.6M257.17 448.75h1.6M239.4 450.69h1.6M243.44 451.02h1.6M248.28 453.12h1.6M254.74 458.77h1.6M253.13 463.62h1.6M255.55 470.08h1.6M253.13 474.93h1.6M250.71 479.77h1.6M246.67 486.23h1.6M245.05 489.47h1.6M241.82 494.31h1.6" stroke="#ff0000" stroke-width="1.6" fill="none"/>
<rect x="178.5" y="441.6" width="82.9" height="67.6" fill="none" stroke="#111" stroke-width="1.15"/>
<path d="M175.7 506.9L178.5 506.9" stroke="#000" stroke-width="0.9"/>
<text x="174.3" y="509.2" font-size="6.6" fill="#333" color="#333" text-anchor="end">0</text>
<path d="M175.7 490L178.5 490" stroke="#000" stroke-width="0.9"/>
<text x="174.3" y="492.3" font-size="6.6" fill="#333" color="#333" text-anchor="end">5</text>
<path d="M175.7 473.1L178.5 473.1" stroke="#000" stroke-width="0.9"/>
<text x="174.3" y="475.4" font-size="6.6" fill="#333" color="#333" text-anchor="end">10</text>
<path d="M175.7 456.2L178.5 456.2" stroke="#000" stroke-width="0.9"/>
<text x="174.3" y="458.5" font-size="6.6" fill="#333" color="#333" text-anchor="end">15</text>
<path d="M181.85 509.2L181.85 512.2" stroke="#000" stroke-width="0.9"/>
<text x="181.85" y="521.4" font-size="6.6" fill="#333" color="#333" text-anchor="middle">-6</text>
<path d="M194.4 509.2L194.4 512.2" stroke="#000" stroke-width="0.9"/>
<text x="194.4" y="521.4" font-size="6.6" fill="#333" color="#333" text-anchor="middle">-4</text>
<path d="M206.95 509.2L206.95 512.2" stroke="#000" stroke-width="0.9"/>
<text x="206.95" y="521.4" font-size="6.6" fill="#333" color="#333" text-anchor="middle">-2</text>
<path d="M219.5 509.2L219.5 512.2" stroke="#000" stroke-width="0.9"/>
<text x="219.5" y="521.4" font-size="6.6" fill="#333" color="#333" text-anchor="middle">0</text>
<path d="M232.05 509.2L232.05 512.2" stroke="#000" stroke-width="0.9"/>
<text x="232.05" y="521.4" font-size="6.6" fill="#333" color="#333" text-anchor="middle">2</text>
<path d="M244.6 509.2L244.6 512.2" stroke="#000" stroke-width="0.9"/>
<text x="244.6" y="521.4" font-size="6.6" fill="#333" color="#333" text-anchor="middle">4</text>
<path d="M257.15 509.2L257.15 512.2" stroke="#000" stroke-width="0.9"/>
<text x="257.15" y="521.4" font-size="6.6" fill="#333" color="#333" text-anchor="middle">6</text>
<text x="219.6" y="437.5" font-size="6.6" fill="#222" color="#222" style="stroke-width:0.14px" text-anchor="middle" textLength="74.6" lengthAdjust="spacingAndGlyphs"><tspan>CD19</tspan><tspan font-size="4.0" dy="-2.7">+</tspan><tspan dy="2.7"> ASC vs CD19</tspan><tspan font-size="4.0" dy="-2.7">+</tspan><tspan dy="2.7">/CD20</tspan><tspan font-size="4.0" dy="-2.7">+</tspan></text>
<text x="219.75" y="533.5" font-size="8.6" fill="#222" color="#222" text-anchor="middle" textLength="65" lengthAdjust="spacingAndGlyphs" style="stroke-width:0.3px">log2 (fold change)</text>
<text x="161.4" y="476" font-size="5.4" fill="#222" color="#222" text-anchor="middle" textLength="44" lengthAdjust="spacingAndGlyphs" transform="rotate(-90 161.4 476)" style="stroke-width:0.12px">-log10 (adj.P.Val)</text>
<path d="M332.59 507.86h1M335.37 503.62h1M339.62 502.09h1M352.92 507.82h1M343.92 500.2h1M331.31 501.88h1M326.52 502.08h1M333.97 501.94h1M350.63 504.03h1M327.6 505.86h1M347.34 506.35h1M336.66 506.33h1M328.49 505.5h1M346.28 504.09h1M343.95 503.18h1M338.39 503.28h1M343.74 506.62h1M335.58 504.01h1M337.19 500.54h1M346.64 499.06h1M330.57 505.71h1M338.53 501.69h1M340.15 507.38h1M344.88 502.25h1M328.34 505.61h1M349.58 506.16h1M337.41 505.13h1M331.81 501.41h1M353.77 506.66h1M353.86 503.97h1M346.81 502.26h1M337.41 507.35h1M347.86 507.46h1M330.04 502.72h1M353.03 507.34h1M350.07 506.97h1M333.43 505.43h1M328.66 503.12h1M325.85 502.9h1M331.33 502.68h1M345.62 505.08h1M351.96 507.4h1M334.69 502h1M338.08 501.28h1M350.8 506.14h1M345.41 504.84h1M334.3 501.5h1M348.32 499.83h1M331.75 505.84h1M353.68 503.59h1M329.25 503.91h1M332.44 504.83h1M344.34 506.51h1M353.1 506.76h1M345.74 505.57h1M351.56 506.54h1M340.37 507.47h1M331.85 504.53h1M341.86 502.8h1M340.45 500.87h1M338.02 504.34h1M348.08 505.35h1M328.58 500.89h1M339.99 505.95h1M333.78 505.64h1M332.38 501.73h1M351.01 500.77h1M350.73 503.96h1M326.27 503.23h1M341.73 500.12h1M336.69 503.37h1M339.7 507.29h1M337.1 507.07h1M334.28 505.71h1" stroke="#bdbdbd" stroke-width="1" fill="none"/>
<path d="M335 470L337 470L338.5 480L339.8 492L340.7 502.5L341 503.5L335 503.5Z" fill="#bdbdbd"/>
<path d="M347.1 473L345.3 473L343.8 481L342.6 492L341.4 502.5L341 503.5L347.1 503.5Z" fill="#bdbdbd"/>
<path d="M330 504L333 501.6L349 501.6L352 504L350.5 507.4L331.5 507.4Z" fill="#bdbdbd"/>
<path d="M335 468L335 501.7L324 501.7L321.6 490L321.8 481L324.5 474L328 469Z" fill="#ff0000"/>
<path d="M347.46 468L347.1 468.9L347.1 501.7L353.5 501.7L355 490L355 480L353 472L350 468Z" fill="#ff0000"/>
<path d="M322.59 488.08h1.5M331.31 497.1h1.5M321.06 494.02h1.5M324.79 498.08h1.5M328.22 474.62h1.5M333.78 495.73h1.5M330.97 482.31h1.5M323.71 490.02h1.5M332.81 493.76h1.5M330.78 468.75h1.5M327.11 477.22h1.5M328.17 491.22h1.5M324.82 477.01h1.5M326.51 477h1.5M323.13 474.69h1.5M327.53 499.14h1.5M330.08 499.66h1.5M333.34 494.35h1.5M333.79 473.62h1.5M329.6 479.8h1.5M322.76 476.63h1.5M329.83 471.39h1.5M321.83 497.8h1.5M332.31 467.59h1.5M322.54 487.84h1.5M326.79 493.44h1.5M328.98 493.59h1.5M331.87 470.46h1.5M331.74 480.54h1.5M333.98 489.87h1.5M327.85 467.96h1.5M327.44 480.5h1.5M326.73 479.22h1.5M332.81 480.13h1.5M332.62 485.61h1.5M325.46 498.91h1.5M322.35 478.35h1.5M330.78 478.36h1.5M329.86 497.85h1.5M327.07 490.42h1.5M326.83 486.04h1.5M327.03 481.62h1.5M328.75 481.09h1.5M324.66 481.86h1.5M331.81 472.17h1.5M327.27 475.04h1.5M330.78 475.18h1.5M331.13 485.03h1.5M333.41 486.84h1.5M330.13 489.45h1.5M332.28 480.17h1.5M329.86 474.49h1.5M323.65 476.33h1.5M326.25 477.43h1.5M329.11 467.93h1.5M324.95 488.86h1.5M332.01 495.63h1.5M326.65 489.56h1.5M330.11 495.82h1.5M321.86 481.78h1.5M324.7 497.67h1.5M331.5 472.31h1.5M322.27 487.22h1.5M330.82 478.21h1.5M322.53 492.61h1.5M321.51 479.37h1.5M328.41 490.36h1.5M329.61 495.56h1.5M334.23 479.14h1.5M321.97 490.57h1.5M324.09 486.05h1.5M321.09 482.99h1.5M332.43 473.71h1.5M322.62 479.59h1.5M325.48 478.8h1.5M329.76 484.66h1.5M329.31 478.5h1.5M333.61 495.14h1.5M328.48 480.65h1.5M332.86 482.6h1.5M326.45 487.48h1.5M321.14 484.83h1.5M331.96 470.95h1.5M323.41 491.09h1.5M328.31 481.47h1.5M326.3 474.8h1.5M323.23 479.59h1.5M330.68 496.84h1.5M328.54 494.67h1.5M325.7 471.28h1.5M330.41 479.93h1.5M326.69 472.19h1.5M322.36 480.22h1.5M324.98 473.44h1.5M330.56 482.4h1.5M322.09 498.6h1.5M323.26 495.82h1.5M330.54 470.88h1.5M331.97 490.22h1.5M325.45 487.41h1.5M327.67 476.13h1.5M322.72 482.59h1.5M329.04 491.8h1.5M331.69 478.64h1.5M331.38 479.76h1.5M331.77 485.25h1.5M328.75 499.58h1.5M322.91 484.91h1.5M331.78 473.72h1.5M331.77 492.55h1.5M325.14 484.55h1.5M325.56 484.72h1.5M330.63 489.41h1.5M327.15 489.45h1.5M330.55 487.77h1.5M331.89 477.57h1.5M323.68 483.49h1.5M331.91 484.89h1.5M333.49 472.63h1.5M328.73 477h1.5M328.29 494.73h1.5M325.15 472.84h1.5M323.51 483.96h1.5M331.89 487.25h1.5M328.96 474.73h1.5M328.15 494.2h1.5M325.32 473.03h1.5M334.05 494.7h1.5M324.74 482.09h1.5M321.65 483.94h1.5M327.23 474h1.5M333.17 496.9h1.5M324.78 475.06h1.5M327.34 501.03h1.5M332.84 466.87h1.5M324.77 494.25h1.5M330.31 469.61h1.5M327.11 484.26h1.5M324.89 481.24h1.5M333.45 467.2h1.5M327.19 472h1.5M330.54 488.94h1.5M324.54 493.41h1.5M330.68 498.5h1.5M330.47 469.77h1.5M333.23 490.8h1.5M322.15 498.55h1.5M327.57 493.44h1.5M333.94 474.34h1.5M333.43 469.61h1.5M327.04 498.24h1.5M329.35 485.78h1.5M325.78 472.24h1.5M324.16 498.63h1.5M333.77 484.31h1.5M323.69 492.49h1.5M332.51 498.49h1.5M324.24 480.68h1.5M321.97 485.2h1.5M333 477.45h1.5M333.28 476.27h1.5M327.22 490.97h1.5M332.26 501.35h1.5M325.55 480.94h1.5M331.49 495.95h1.5M331.94 476.35h1.5M333.02 494.76h1.5M329.03 478.84h1.5M330.97 469h1.5M331.2 481.94h1.5M331.52 488.23h1.5M325.57 478.18h1.5M327.71 471.46h1.5M324.12 490.08h1.5M323.17 500.5h1.5M328.08 478.33h1.5M322.9 476.68h1.5M326.14 471.48h1.5M334.11 500.26h1.5M326.34 472.7h1.5M326.82 491.81h1.5M332.91 498.68h1.5M328.49 498.83h1.5M325.51 497.04h1.5M326.7 474.42h1.5M332.49 495.83h1.5M329.67 483.88h1.5M324.17 497.66h1.5M330.1 491.27h1.5M332.4 467.43h1.5M332.01 498.09h1.5M333.05 476.13h1.5M328.17 500.91h1.5M323.15 484.77h1.5M332.98 482.62h1.5M331.99 472.03h1.5M332.19 496.41h1.5M331.05 467.68h1.5M324.69 490.98h1.5M332.57 484.69h1.5M330.42 483.33h1.5M328.89 476.99h1.5M323.26 498.72h1.5M328.46 478.35h1.5M324.65 478.93h1.5M327.93 472.28h1.5M326.94 479.43h1.5M326 480h1.5M324.76 494.15h1.5M334.23 480.54h1.5M325.44 491.52h1.5M334.19 486.2h1.5M329.83 470.45h1.5M324.9 483.28h1.5M329.92 480.58h1.5M331.17 497.5h1.5M323.95 485.96h1.5M321.78 478.32h1.5M328.82 497.15h1.5M323.14 496.1h1.5M330.03 496.94h1.5M321.27 485.59h1.5M322.43 495.15h1.5M330.29 474.98h1.5M326.05 474.46h1.5M331.71 479h1.5M332.99 476.74h1.5M332.88 479.53h1.5M328.98 478.11h1.5M329.44 468.62h1.5M325.64 479.54h1.5M329.01 496.17h1.5M322.58 493.61h1.5M326.15 474.31h1.5M325.23 480.31h1.5M327.48 484.6h1.5M331.97 495.82h1.5M326.19 494.94h1.5M329.09 467.71h1.5M332.5 499.22h1.5M329.73 485.21h1.5M328.88 468.47h1.5M327.91 473.95h1.5M327.18 488.75h1.5M327.59 491.66h1.5M328.03 496.68h1.5M325.25 483.08h1.5M328.82 474.53h1.5M334.15 494.9h1.5M327.7 485.75h1.5M329.98 500.77h1.5M327.81 481.62h1.5M324.19 472.8h1.5M333.27 490.36h1.5M327.61 478.38h1.5M330.3 479.12h1.5M332.65 497.79h1.5M323.75 485.61h1.5M323.59 501.35h1.5M329.44 493.63h1.5M327.51 492.57h1.5M326.62 485.91h1.5M329.89 495.88h1.5M334.17 490.1h1.5M332.46 472.43h1.5M323.3 500.26h1.5M321.26 483.46h1.5M323.88 486.64h1.5M324.76 500h1.5M321.81 497.04h1.5M332.17 489.31h1.5M323.62 485.71h1.5M322.16 477.89h1.5M333.35 485.31h1.5M333.05 483.48h1.5M324.83 484.56h1.5M323.53 485.28h1.5M326.02 470.93h1.5M329.29 499.14h1.5M328.35 478.98h1.5M327.65 475.56h1.5M325.94 495.21h1.5M326.33 498.84h1.5M322.04 478.06h1.5M322.9 495.65h1.5M322.75 487.3h1.5M327.74 493.65h1.5M328.05 477.12h1.5M322.71 486.62h1.5M327.87 469.98h1.5" stroke="#ff0000" stroke-width="1.5" fill="none"/>
<path d="M352.14 479.84h1.5M351.5 476.09h1.5M352.22 495.96h1.5M350.55 500.58h1.5M349.46 480.5h1.5M352.55 495.11h1.5M349.64 482.98h1.5M350.44 497.88h1.5M347.01 469.38h1.5M350.22 489.13h1.5M349.19 481.94h1.5M348.69 476.3h1.5M353.79 489.35h1.5M350.74 469.72h1.5M347.9 477.28h1.5M347.96 472.78h1.5M353.47 491.51h1.5M349.76 475.48h1.5M354.22 479.2h1.5M352.32 490.22h1.5M349.52 476.07h1.5M347.88 467.81h1.5M349.83 501h1.5M352.25 479.36h1.5M348.54 496.29h1.5M353.05 478.07h1.5M348.08 476.23h1.5M352.97 484.2h1.5M351.77 491.6h1.5M352.85 486.57h1.5M348.01 498.17h1.5M350.98 491.99h1.5M351.87 498.06h1.5M353.01 500.51h1.5M353.08 475.91h1.5M352.39 479.54h1.5M352.45 487.15h1.5M350.9 469.96h1.5M347.49 471.24h1.5M346.76 498.67h1.5M353.81 479.47h1.5M349.86 487.76h1.5M346.9 493.28h1.5M348.77 490.19h1.5M350.76 484.31h1.5M350.41 496.69h1.5M349.43 494.87h1.5M351.02 499.29h1.5M346.83 477.48h1.5M350.63 483.4h1.5M347.5 472.25h1.5M347.65 499.52h1.5M350.78 481.95h1.5M350.85 482.56h1.5M350.18 469.21h1.5M354.46 488.18h1.5M352.2 499.85h1.5M346.78 468.72h1.5M347.85 472.81h1.5M347.6 481.06h1.5M353.12 488.45h1.5M352.17 484.98h1.5M347.03 491.49h1.5M350.7 481.19h1.5M346.68 476.57h1.5M346.7 469.08h1.5M352.67 485.18h1.5M349.1 492.84h1.5M348.68 500.39h1.5M347.92 473.85h1.5M351.97 483.5h1.5M347.88 488.58h1.5M347.85 486h1.5M352.38 482.12h1.5M347.49 474.28h1.5M346.56 477.7h1.5M346.96 484.32h1.5M348.15 500.84h1.5M352.83 479.66h1.5M350.57 469.64h1.5M346.44 496.86h1.5M346.67 480.13h1.5M347.97 474.29h1.5M347.79 474.66h1.5M351.56 475.38h1.5M350.34 501.53h1.5M352.21 499.74h1.5M350.45 469.42h1.5M346.57 497.64h1.5M354.25 482.01h1.5M348.64 494.64h1.5M352.67 491.28h1.5M347.92 468.43h1.5M348.79 476.46h1.5M350.45 479.59h1.5M349.39 478.14h1.5M347.1 476.86h1.5M351.7 476.91h1.5M349.9 477.47h1.5M351.59 499.44h1.5M353 474.32h1.5M347.76 468.3h1.5M349.32 494.91h1.5M348.44 493.26h1.5M348.39 496.66h1.5M348.51 495.92h1.5M351.85 482.07h1.5M347.06 472.74h1.5M348.94 484.74h1.5M351.58 498.71h1.5M351.92 487.09h1.5M350.5 489.21h1.5M350.63 482.44h1.5M353.43 475.11h1.5M348.93 475.83h1.5M351.59 496.24h1.5M346.78 480.79h1.5M351.82 493.88h1.5M352.59 472.59h1.5M352.17 483.21h1.5M353.2 500.44h1.5M351.19 472.78h1.5M348.92 480.15h1.5M349.51 480.18h1.5M350.53 493.49h1.5M346.62 484.76h1.5M351.53 495.63h1.5M352.21 472.51h1.5M347.6 489.86h1.5M351.51 480.96h1.5M351.82 483.24h1.5M348.63 478.12h1.5M349.63 470.51h1.5M352.11 472.75h1.5M350.94 500.87h1.5M352.97 496.81h1.5M347.52 496.34h1.5M348.3 491.63h1.5M350.24 477.13h1.5M353.78 477.62h1.5M347.46 497.11h1.5M352.24 495.71h1.5M353.54 483.32h1.5M349.64 495.87h1.5M350.2 475.53h1.5M351.24 482.72h1.5M352.53 498.8h1.5M350.71 483.06h1.5M347.76 473.08h1.5M353.43 476.45h1.5M351.87 491.09h1.5M347.79 497.02h1.5M349.29 477.67h1.5M352.08 495.15h1.5M351.9 501.27h1.5M353.38 483.61h1.5M354.21 486.62h1.5M350.81 487.83h1.5M347.53 481.01h1.5M350.28 495.66h1.5M350.78 479.32h1.5M347.44 479.42h1.5M354.42 483.81h1.5M349.39 497.01h1.5M347.92 496.16h1.5M346.57 488.51h1.5M354.07 488.87h1.5M348.02 474.39h1.5M352.91 476.35h1.5M353.99 482.42h1.5M346.78 493.52h1.5M352.33 491.34h1.5M350.17 500.4h1.5M346.73 482.47h1.5M348.96 489.69h1.5M349.84 478.31h1.5M350.11 486.65h1.5M348.1 476.77h1.5M349.01 476.72h1.5M349.09 491.86h1.5" stroke="#ff0000" stroke-width="1.5" fill="none"/>
<path d="M323.99 465.82h1.6M315.32 477.19h1.6M308.02 461.88h1.6M325.04 458.12h1.6M329.98 477.07h1.6M315.33 457.08h1.6M316.46 468.8h1.6M309.05 459.46h1.6M329.4 464.78h1.6M321.61 465.89h1.6M309.61 453.57h1.6M320.74 451.85h1.6M332.2 500.15h1.6M331.29 468.05h1.6M328.48 478.71h1.6M321.12 488.36h1.6M318.15 451.63h1.6M316.49 483.68h1.6M321.58 485.34h1.6M329.1 488.21h1.6M312.59 473.48h1.6M321.99 478.46h1.6M329.58 482.83h1.6M328.67 467.71h1.6M320.35 474.9h1.6M323.19 455.62h1.6M315.74 460.15h1.6M327.29 475.53h1.6M317.54 460.94h1.6M325.2 462.12h1.6M321.65 464.21h1.6M327.37 466.33h1.6M325.41 497.63h1.6M311.63 473.46h1.6M323.44 484h1.6M327.95 498.74h1.6M332.89 486.71h1.6M329.39 483.74h1.6M333.01 497.89h1.6M316.64 488.41h1.6M332.52 489.83h1.6M315 485.76h1.6M319.44 470.03h1.6M328.71 480.25h1.6M333.31 473.06h1.6M333.08 489.66h1.6M332.09 469.07h1.6M329.99 480.42h1.6M323.18 498.46h1.6M317.97 459.15h1.6M333.38 493.8h1.6M333.92 499.26h1.6M324.09 498.16h1.6M319.27 479.51h1.6M330.29 489.33h1.6M320.21 485.19h1.6M328.83 501.65h1.6M316.52 458.16h1.6M323.2 470.21h1.6M325.85 477.82h1.6M332.87 496.96h1.6M321.01 477.91h1.6M328.34 461.34h1.6M318.91 478.74h1.6M327.5 484.38h1.6M332.44 470.49h1.6M333.74 493.49h1.6M329.55 459.2h1.6M325.71 471.2h1.6M316.52 485.53h1.6M314.14 453.59h1.6M332.72 476.1h1.6M319.68 480.13h1.6M320.31 457.57h1.6M328.9 461.9h1.6M322.98 468.68h1.6M333.5 489.56h1.6M329.83 501.22h1.6M326.24 457.36h1.6M319.4 459.35h1.6M320.41 493.6h1.6M330.79 478.99h1.6M322.84 470.16h1.6M326.28 485.71h1.6M331.01 494.87h1.6M322.92 490.02h1.6M323.05 492.09h1.6M321.3 455.78h1.6M324.95 498.91h1.6M318.36 473.73h1.6M325.55 479.61h1.6M325.05 490.66h1.6M316.77 474.43h1.6M332.34 488.84h1.6M318.57 481.87h1.6M329.99 485.19h1.6M330 466.03h1.6M319.12 493.2h1.6M314.49 459.13h1.6M329.3 484.53h1.6M332.76 496.51h1.6M315.32 483.75h1.6M319.99 466.09h1.6M319.34 479.26h1.6M326.54 482.69h1.6M331.44 488h1.6M315.49 467.27h1.6M332.91 500.31h1.6M318.11 492.94h1.6M330.02 466.89h1.6M327.57 498.99h1.6M331.84 478.06h1.6M317.07 454.24h1.6M318.96 484.5h1.6M310.26 474.15h1.6M312.92 457.09h1.6M328.77 499.71h1.6M308.61 464.93h1.6M332.21 481.43h1.6M322.72 475.97h1.6M320 460.76h1.6M322.75 496.75h1.6M331.74 466.82h1.6M326.25 464.58h1.6M319.99 495.54h1.6M315.96 474.23h1.6M331.65 490.64h1.6M331.85 486.4h1.6M317.45 460.49h1.6M319.42 465.77h1.6M326.49 486.89h1.6M315.31 459.88h1.6M326.2 497.93h1.6M318.64 481.7h1.6M316.17 477.39h1.6M314.57 457.01h1.6M322.5 471.19h1.6M317.93 455.72h1.6M323.36 478.57h1.6M329.63 487.45h1.6M322.45 465.79h1.6M319.47 482.09h1.6M326.04 463.73h1.6M330.62 477.14h1.6M313.87 471.46h1.6M321.85 487.05h1.6M329.97 480.3h1.6M327.22 484.84h1.6M325.09 490.55h1.6M323.76 489.53h1.6M327.24 469.63h1.6M327.73 489.06h1.6M324.08 489.1h1.6M313.24 468.26h1.6M323.84 478.53h1.6M330.09 485.42h1.6M332.45 499.53h1.6M325.73 494.32h1.6M325.6 455.98h1.6M325.61 476.98h1.6M323.15 455.36h1.6M320.47 459.13h1.6M333.51 480.89h1.6M316.28 472.43h1.6M326.71 468.61h1.6M332.2 497.01h1.6M324.85 485.53h1.6M314.19 459.55h1.6M326.08 472.96h1.6M332.2 495.5h1.6M332.09 478.14h1.6M327.96 494.51h1.6M326.18 454.71h1.6M333.8 476.13h1.6M328.85 466.9h1.6M330.39 481.6h1.6M316.04 476.18h1.6M322.56 484.47h1.6M309.86 463.23h1.6M321.99 495.36h1.6M329.34 495.07h1.6M330.17 463.09h1.6M330.34 475.59h1.6M333.6 489.29h1.6M323.85 454.36h1.6M328.33 493.83h1.6M333.57 484.27h1.6M328.13 464.12h1.6M312.57 468.19h1.6M322.15 478.25h1.6M331.27 481.84h1.6M332.34 479.99h1.6M322.51 490.68h1.6M332.17 475.52h1.6M333.43 471.18h1.6M325.69 468.81h1.6M330.41 480.06h1.6M330 468.78h1.6M332.25 466.27h1.6M329.77 471.11h1.6M327.58 493.49h1.6M316.24 458.26h1.6M314.89 473.82h1.6M318.18 488.22h1.6M322.98 479.22h1.6M332.47 483.78h1.6M329.57 460.18h1.6M312.91 477.64h1.6M333.9 471.1h1.6M324.84 500.84h1.6M327.33 464.67h1.6M318.83 491.62h1.6M332.89 488.01h1.6M321.41 483.82h1.6M330.96 475.31h1.6M327.85 461.18h1.6M325.98 476.96h1.6M325.2 478.15h1.6M317.81 467.66h1.6M330.3 464.97h1.6M322.16 481.06h1.6M321.24 465.35h1.6M320.49 495.59h1.6M322.71 467.62h1.6M315.7 472.96h1.6M327.77 484.74h1.6M322.05 455.41h1.6M327.96 480.24h1.6M317.96 466.48h1.6M312.81 458.03h1.6M330.27 481.64h1.6M330.07 494.61h1.6M320.31 472.81h1.6M332.39 470.41h1.6M321.98 469.44h1.6M332.57 484.57h1.6M325.93 466.69h1.6M325.83 489.13h1.6M319.8 488.31h1.6M332.13 480.75h1.6M333.52 476.04h1.6M331.9 483.14h1.6M322.05 478.48h1.6M328.94 501.61h1.6M333.47 471.5h1.6M321.52 483.38h1.6M332.73 483.11h1.6M325.56 490.98h1.6M320.53 491.63h1.6M331.04 494.62h1.6M312.04 450.31h1.6M328.93 475.42h1.6M324.56 471.75h1.6M311.71 477.47h1.6M331.98 497.86h1.6M312.25 456.25h1.6M331.93 480.15h1.6M332.87 490.94h1.6M327.87 498.97h1.6M328.52 501.06h1.6M314.65 473.89h1.6M326.57 471.64h1.6M306.65 464.21h1.6M324.86 456.27h1.6M316.51 466.61h1.6M317.97 474.48h1.6M323.98 474.9h1.6M319.17 490.95h1.6M319.99 471.84h1.6M332 478.45h1.6M309.26 465.31h1.6M317.16 469.55h1.6M331.4 471.63h1.6M316.12 455.07h1.6M334.01 489.61h1.6M318.1 459.39h1.6M331.51 473.37h1.6M327.61 472.64h1.6M323.53 500.85h1.6M323.31 474.76h1.6M323.19 478.57h1.6M332.87 469.65h1.6M325.37 474.92h1.6M328.6 500.4h1.6M333.6 500.21h1.6M332.84 468.6h1.6M328.33 471.29h1.6M322.25 475.19h1.6M318.54 465.1h1.6M319.73 465.84h1.6M322.03 467.33h1.6M326.17 490.29h1.6M314.36 466.79h1.6M333.36 500.7h1.6M327.78 482.3h1.6M319.89 496.62h1.6M331.51 501.16h1.6M331.73 487.45h1.6M319.45 485.57h1.6M330.93 468.91h1.6M331.03 500.08h1.6M321.72 460.48h1.6M325.12 458.19h1.6M333.2 480.87h1.6M327.94 476.47h1.6M310.64 453.78h1.6M330.24 474.21h1.6M331.69 478.15h1.6M321.32 481.7h1.6M320.37 460.63h1.6M313.94 469.02h1.6M331.39 467.73h1.6M328.93 489.64h1.6M331.79 477.97h1.6M330.5 463.17h1.6M327.79 489.43h1.6M328.38 488.36h1.6M322.63 460.06h1.6M332.52 483.6h1.6M322.79 463.78h1.6M326.28 489.83h1.6M333.04 496.2h1.6M316.18 456.7h1.6M331.03 498.89h1.6M332.38 497.67h1.6M326.57 500.19h1.6M330.76 475.35h1.6M329.98 491.47h1.6M317.64 457.14h1.6M331.29 497.76h1.6M321.83 457.87h1.6M330.61 493.54h1.6M324.23 468.03h1.6M328.3 495.57h1.6M321.9 459.06h1.6M327.86 477.04h1.6M314.03 451.77h1.6M332.93 485.37h1.6M317.6 456.15h1.6M328.51 494.91h1.6M329.66 484.86h1.6M329.63 467h1.6M324.15 468.3h1.6M328.13 497.49h1.6M328.79 460.22h1.6M327.57 463.07h1.6M332.4 484.26h1.6M320.23 456.29h1.6M310.05 464.59h1.6M324.53 490.39h1.6M328.74 491.79h1.6M305.77 456.01h1.6M327.3 482.69h1.6M329.07 487.11h1.6M322.58 452.83h1.6M331.46 466.49h1.6M310.89 467.93h1.6M332 494.61h1.6M326.98 484.46h1.6M307.03 456.85h1.6M318.37 457.99h1.6M315.71 452.1h1.6M328.72 481.07h1.6M327.33 480.38h1.6M331.14 483.81h1.6M315.36 454.46h1.6M331.45 474.04h1.6M331.19 475.18h1.6M331.83 487.89h1.6M319.77 479.55h1.6M321.96 481.22h1.6M324.08 496.28h1.6M330.27 461.27h1.6M330.75 478.66h1.6M326.33 471.64h1.6M324.86 461.91h1.6M319.68 493.67h1.6M327.32 477.65h1.6M323.71 458.32h1.6M328.49 468.23h1.6M332.53 499.9h1.6M330.9 475.57h1.6M320.94 458.29h1.6M331.86 471.62h1.6M323.04 452.93h1.6M334.18 496.56h1.6M327.12 471.37h1.6M324.8 472.51h1.6M326.8 474.35h1.6M329.16 486.49h1.6M327.75 487.74h1.6M327.72 460.78h1.6M332.15 479.15h1.6M316.3 476.1h1.6M332.58 475.06h1.6M333.28 468.55h1.6M316.53 456.08h1.6M326.3 467.97h1.6M317.02 485.65h1.6M331.24 473.1h1.6M326.76 483.06h1.6M319.21 481.91h1.6M333.69 468.38h1.6M329.58 481.82h1.6M324.71 480.7h1.6M328.37 489.6h1.6M332.99 487.59h1.6M324.34 455.38h1.6M314.89 469.42h1.6M319.57 482.08h1.6M332.13 474.9h1.6M320.55 481.51h1.6M316.66 480.95h1.6M333.73 484.53h1.6M326.77 489.18h1.6M325.28 472.01h1.6M327.58 474.77h1.6M333.73 491.1h1.6M330.98 490.88h1.6M320.39 466.11h1.6M322.4 477.24h1.6M320.11 497.05h1.6M329.52 491.74h1.6M323.8 483.56h1.6M318 452h1.6M333.22 473.83h1.6M332.34 485.98h1.6M332.29 466.67h1.6M318.57 454.99h1.6M326.87 496.84h1.6M326.61 494.82h1.6M332.29 486.69h1.6M329.83 475.38h1.6M321.4 477.61h1.6M315.37 484.93h1.6M333.35 479.14h1.6M312.36 461.51h1.6M324.39 465.87h1.6M307.52 451.53h1.6M329.62 473.68h1.6M307.75 459.3h1.6M327.55 482.29h1.6M326.49 476.59h1.6M329.22 483.99h1.6M313.51 464.83h1.6M317.05 478.97h1.6M332.71 493.52h1.6M317.95 487.57h1.6M326.54 491.63h1.6M315.48 454.71h1.6M328.05 474.93h1.6M333.89 486.12h1.6M328.83 495.7h1.6M330.22 485.21h1.6M333 488.06h1.6M324.22 473.16h1.6M331.37 470.78h1.6M320.1 454.79h1.6M327.32 468.43h1.6M320.77 483.02h1.6M318.91 457.42h1.6M326.73 497.92h1.6M331.06 491.32h1.6M326.98 485.11h1.6M316.88 476.44h1.6M309.36 471.18h1.6M314.58 476.76h1.6M331.49 497.54h1.6M331.14 467.3h1.6M323.37 457.59h1.6M322.86 481.27h1.6M321.55 466.48h1.6M332.47 472.98h1.6M333.54 480.83h1.6M329.14 470.72h1.6M333.62 480.26h1.6M327.89 479.89h1.6M333.2 476.01h1.6M313.9 450.03h1.6M327.01 496.08h1.6M321.38 495.61h1.6M311.95 478h1.6M319.88 493.75h1.6M332.41 500.99h1.6M322.76 497.36h1.6M327.66 492.29h1.6M329.54 464.81h1.6M326.91 477.79h1.6M327.64 468.48h1.6M324.58 481.13h1.6M331.59 488.58h1.6M326.03 467.8h1.6M331.53 480.53h1.6M334.01 481.22h1.6M319.98 466.71h1.6M320.81 481.73h1.6M327.74 488.65h1.6M329.11 461.24h1.6M333.76 472.29h1.6M324.7 455.48h1.6M321.61 495.46h1.6M332.05 467.02h1.6M319.93 495.43h1.6M330.5 490.51h1.6M327.9 474.71h1.6M322.85 453.52h1.6M312.72 468h1.6M318.35 470.31h1.6M322.97 480.03h1.6M313.52 456.26h1.6M332.91 489.47h1.6M323.48 465.99h1.6M328.15 456.61h1.6M329.85 492.76h1.6M320.52 484.4h1.6M327.29 488.5h1.6M332.66 499.81h1.6M332.94 497.88h1.6M315.98 455.43h1.6M329.21 474.61h1.6M330.24 488.66h1.6M330.57 501.14h1.6M318.93 488.76h1.6M326.24 457h1.6M330.92 500.31h1.6M320.45 470.96h1.6M326.39 481.61h1.6M326.25 488.37h1.6M320.79 454.92h1.6M322.88 487.71h1.6M327.21 456.1h1.6M325.83 473.96h1.6M314.64 480.69h1.6M331.48 470.02h1.6M326.35 487.47h1.6M320.3 466.29h1.6M326.85 456.67h1.6M322.56 496.91h1.6M334.02 496.85h1.6M309.51 462.12h1.6M325.86 476.51h1.6M332.53 496.21h1.6M325.33 454.44h1.6M333.98 487.68h1.6M326.09 460.84h1.6M317.24 466.44h1.6M326.33 463.6h1.6M333.19 473.65h1.6M328.55 483.73h1.6M324.97 467.84h1.6M332.47 501.22h1.6M325.43 460.46h1.6M323.18 454.44h1.6M330.47 501.65h1.6M307.08 457.49h1.6M324.54 488.39h1.6M325.11 474.15h1.6M332.64 477.54h1.6M319.39 495.35h1.6M325.23 475.69h1.6M328.81 461.12h1.6M324.76 498.68h1.6M322.18 499.94h1.6M333.9 498.6h1.6M314.44 475h1.6M316.9 468.37h1.6M332.35 480.83h1.6M333.46 492.47h1.6M320.71 472.61h1.6M331.36 469.27h1.6M333.15 501.29h1.6M330.8 464.77h1.6M332.43 497.15h1.6M329.18 479.82h1.6M333.77 488.09h1.6M324.04 456.11h1.6M325.64 480.49h1.6M329.63 468.26h1.6M329.99 475.64h1.6M328.56 472.13h1.6M332.78 482.31h1.6M323.9 481.46h1.6M331.7 466h1.6M316.29 459.96h1.6M327.43 479.23h1.6M320.97 457.61h1.6M321.62 473.27h1.6M330.73 496.74h1.6M330.52 485.89h1.6M327.15 462.91h1.6M326.42 485.84h1.6M333.81 482.82h1.6M315.86 467.35h1.6M328.15 496.43h1.6M328.83 469.62h1.6M329.04 488.14h1.6M318.08 481.54h1.6M322.25 488.63h1.6M313.27 450.83h1.6M330.41 496.4h1.6M323.46 460.5h1.6M329.44 482.6h1.6M331.46 492.32h1.6M328.55 467.77h1.6M327.59 480.62h1.6M327.86 487.7h1.6M333.95 486.8h1.6M319.42 458h1.6M328.24 495.87h1.6M329.42 480.92h1.6M333.8 500.13h1.6M329.54 477.64h1.6M333.14 466.25h1.6M318.02 464.39h1.6M324.42 474.26h1.6M331.12 477.24h1.6M317.54 484.55h1.6M320.28 484.43h1.6M333.29 501.41h1.6M323.23 457.08h1.6M315.34 468.24h1.6M327.12 469.32h1.6M328.56 487.25h1.6M330.61 470.79h1.6M329.06 497.86h1.6M320.87 480.45h1.6M320.6 465.32h1.6M323.77 487.59h1.6M329.54 496.42h1.6M319.44 465.23h1.6M311.34 475.73h1.6M332.56 476.99h1.6M325.88 476.44h1.6M330.47 464.66h1.6M332.73 471.88h1.6M323.5 453.16h1.6M317.69 487.29h1.6M331.8 474.71h1.6M329.47 490.74h1.6M331.61 480.16h1.6M323.42 484.95h1.6M318.94 489.44h1.6M324.57 460.88h1.6M331.61 487.06h1.6M328.8 469.41h1.6M316.73 461.55h1.6M324.13 479.2h1.6M308.53 454.36h1.6M322.67 491.25h1.6M312.27 466.32h1.6M329.07 485.55h1.6M325.31 500.79h1.6M327.17 467.65h1.6M324.64 466.62h1.6M327.66 458.45h1.6M333.45 480.54h1.6M308.84 452.75h1.6M325.38 456.48h1.6M324.17 501.49h1.6M324.36 453.63h1.6M329.75 489.73h1.6M328.97 491.33h1.6M334.08 486.31h1.6M325.89 484.59h1.6M333.04 478.32h1.6M311.79 470.5h1.6M321.28 490.37h1.6M325.13 497.63h1.6" stroke="#ff0000" stroke-width="1.6" fill="none"/>
<path d="M350.89 482.68h1.6M355.65 492.67h1.6M346.31 478.15h1.6M361.51 463.02h1.6M364.75 468.07h1.6M348.15 464.53h1.6M354.79 489.57h1.6M356.62 462.31h1.6M352.22 480.79h1.6M352.66 493.5h1.6M369.56 461.33h1.6M357.12 490.91h1.6M351.73 499.76h1.6M362.29 477.7h1.6M351.6 500.1h1.6M348.28 490.97h1.6M352.49 478.11h1.6M349.86 491.17h1.6M357.64 491.6h1.6M346.96 498.61h1.6M356.4 453.63h1.6M351.31 496.36h1.6M347.57 477.6h1.6M347.76 496.36h1.6M360.89 456.47h1.6M348.95 472.15h1.6M353.11 485.92h1.6M357.06 459.63h1.6M348.74 485.31h1.6M359.15 476.35h1.6M353.09 480.53h1.6M358.42 489.11h1.6M350.09 465.91h1.6M350.46 463.35h1.6M355.45 481.29h1.6M351.79 495.98h1.6M346.46 489.08h1.6M354.19 464.71h1.6M347.99 500.6h1.6M348.56 469.37h1.6M366.4 460.57h1.6M357.07 490.06h1.6M348.46 494.9h1.6M348.03 481.43h1.6M357.57 455.18h1.6M360.73 463.95h1.6M357.96 456.32h1.6M359.83 484.06h1.6M355.55 494.4h1.6M348.04 467.63h1.6M354.57 453.59h1.6M353.02 487.69h1.6M352.85 485.97h1.6M355.61 491.45h1.6M351.6 459.78h1.6M351.85 458.9h1.6M360.07 451.31h1.6M349.43 473.09h1.6M356.13 467.73h1.6M349.15 470.93h1.6M360.52 484.51h1.6M362.94 470.22h1.6M362.04 466.11h1.6M347.88 496.8h1.6M350.91 458.61h1.6M350.33 490.71h1.6M348.19 493.01h1.6M356.35 470.52h1.6M358.4 474.38h1.6M351.23 480.02h1.6M351.6 461.25h1.6M346.89 487.13h1.6M363.03 469.09h1.6M351.64 487.49h1.6M357.54 491.71h1.6M348.99 495.25h1.6M363.03 482.07h1.6M353.71 466.75h1.6M366.04 455.88h1.6M365.25 465.01h1.6M350.34 481.27h1.6M356.84 482.91h1.6M357.11 456.23h1.6M365.82 450.4h1.6M346.87 468.41h1.6M355.32 461.27h1.6M355.73 459.17h1.6M352.43 475.23h1.6M359.73 489.51h1.6M354.41 458.84h1.6M351.86 482.58h1.6M348.35 477.39h1.6M350.79 483.78h1.6M349.91 472.69h1.6M360.78 454.85h1.6M350.48 461.27h1.6M356.14 469.18h1.6M354.79 496.19h1.6M357.96 484.3h1.6M362.91 461.3h1.6M362.59 468.04h1.6M348.91 467.86h1.6M353.72 473.58h1.6M361.4 481.68h1.6M360.03 485.92h1.6M355.62 469.12h1.6M351.27 492.1h1.6M348.74 477.23h1.6M352.5 467.99h1.6M360.99 463.12h1.6M353.88 473.17h1.6M360.12 461.79h1.6M349.24 471.25h1.6M367.82 473.44h1.6M346.49 482.19h1.6M350.54 468.96h1.6M347.51 467.56h1.6M349.82 477.02h1.6M363.12 476.31h1.6M352.1 478.39h1.6M350.26 476.4h1.6M349.25 467.48h1.6M347.04 493.4h1.6M350.11 488.64h1.6M351.44 491.47h1.6M353.18 472.4h1.6M349.86 499.07h1.6M350.19 471.63h1.6M362.21 486.22h1.6M360.05 480.06h1.6M347.88 475.8h1.6M359.58 456.39h1.6M361.07 467.75h1.6M353.04 468.6h1.6M357.77 484.38h1.6M360.71 474.13h1.6M352.76 490.08h1.6M366.09 451.11h1.6M346.98 476.71h1.6M362.98 483.59h1.6M356.89 470.99h1.6M363.31 477.76h1.6M351.34 495.22h1.6M348.55 479.77h1.6M361.09 485.18h1.6M368.58 453.31h1.6M350.61 467.5h1.6M364.02 482.66h1.6M355.8 480.02h1.6M351.75 491.6h1.6M355.37 474.04h1.6M351.02 499.48h1.6M357.19 484.6h1.6M361.25 474.61h1.6M362.17 457.3h1.6M348.25 483.54h1.6M351.74 497.44h1.6M354.81 469.22h1.6M358.45 472.52h1.6M355.8 468.04h1.6M349.01 463.42h1.6M357.4 451.22h1.6M357.62 466.52h1.6M351.04 472.29h1.6M368 460.66h1.6M352.29 474.86h1.6M351.29 474.17h1.6M351.06 494.88h1.6M352.17 498.74h1.6M355.69 463.97h1.6M349.41 489.06h1.6M353.28 491.58h1.6M362.23 456.8h1.6M367.59 470.88h1.6M349.07 490.1h1.6M356.62 482.36h1.6M346.4 482.66h1.6M350.82 484.08h1.6M348.54 476.44h1.6M358.49 459.93h1.6M353.79 487.63h1.6M349.22 462.43h1.6M346.9 494.83h1.6M360.82 456.84h1.6M356.07 480.17h1.6M346.42 482.65h1.6M352.82 495.41h1.6M355.38 476.68h1.6M350.11 461.04h1.6M352.37 478.81h1.6M353.42 483.83h1.6M363.27 467.45h1.6M348.97 463.22h1.6M356.04 469.57h1.6M366.65 459.65h1.6M346.39 483.33h1.6M349.66 477.56h1.6M352.53 478.27h1.6M358.4 453.21h1.6M347.02 483.08h1.6M346.84 487.12h1.6M347.99 467.17h1.6M364.66 474.32h1.6M348.83 485.88h1.6M351.68 496.29h1.6M350.17 468.98h1.6M357.8 474.94h1.6M363.78 471.37h1.6M348.22 464.53h1.6M359.63 469.1h1.6M346.95 487.48h1.6M363.97 449.42h1.6M358.98 463h1.6M368.32 466.78h1.6M350.99 462.76h1.6M346.92 476.72h1.6M361.71 466.5h1.6M352.82 462.48h1.6M349.2 465.34h1.6M353 459.44h1.6M358.72 478.02h1.6M346.92 480.48h1.6M355.83 486.88h1.6M349.46 498.62h1.6M358.21 450.89h1.6M355.24 473.65h1.6M349.85 481.26h1.6M367.41 453.47h1.6M363.37 473.36h1.6M359.57 466.95h1.6M349.02 462.71h1.6M347.84 472.09h1.6M359.53 468.79h1.6M352.47 469.42h1.6M364.83 467.54h1.6M349.57 487.58h1.6M367.79 470.32h1.6M358.68 465.11h1.6M348.75 498.71h1.6M363.77 469.22h1.6M361.57 455.02h1.6M349.98 497.13h1.6M360.29 467.93h1.6M348.07 494.22h1.6M366.97 476.25h1.6M351.83 490.09h1.6M347.53 498.92h1.6M362.21 476.43h1.6M356.41 489.58h1.6M350.21 490.9h1.6M352.42 475.85h1.6M349.8 486.21h1.6M359.27 480.24h1.6M350.57 477.58h1.6M353.77 453.16h1.6M346.91 468.01h1.6M357.49 475.99h1.6M351.41 494.82h1.6M361.96 456.11h1.6M350.71 479.56h1.6M363.09 463.82h1.6M349.77 463.53h1.6M351.42 491.27h1.6M359.4 459.5h1.6M363.01 465.55h1.6M360.28 469.67h1.6M355.73 454.19h1.6M368.28 470.82h1.6M363.45 453.07h1.6M358.43 474.18h1.6M360.7 472.19h1.6M355.37 472.86h1.6M353.44 478.84h1.6M347.73 500.16h1.6M359.3 485.41h1.6M350.56 489.67h1.6M354.78 458.98h1.6M366.03 472.25h1.6M364.42 473.98h1.6M352.89 474.59h1.6M349.3 478.08h1.6M361.93 473.69h1.6M359.41 478.07h1.6M360.8 467.07h1.6M347.69 474.68h1.6M352.37 480h1.6M349.77 483.92h1.6M363.42 474.24h1.6M349.36 483.73h1.6M351.48 499.19h1.6M347.7 498.63h1.6M360.37 470.7h1.6M349.35 478.31h1.6M351.22 494.43h1.6M356.77 458.84h1.6M352.54 496.63h1.6M347.48 496.9h1.6M360.33 475.11h1.6M352.41 490.82h1.6M346.46 473.44h1.6M360.73 471.94h1.6M364.36 473.54h1.6M353.17 463h1.6M358.17 478.76h1.6M347.21 477.13h1.6M353.67 487.69h1.6M358.42 477.58h1.6M355.12 464.56h1.6M361.63 449.8h1.6M356.18 490.41h1.6M346.95 476.16h1.6M358.3 463.39h1.6M346.35 473.9h1.6M370.18 460.26h1.6M357.91 488.52h1.6M350.3 472.45h1.6M346.31 489.72h1.6M351.75 481.9h1.6M351.49 493.41h1.6M364.69 472.65h1.6M351.52 477.79h1.6M351.38 486.84h1.6M349.33 495.29h1.6M355.02 482.33h1.6M353.61 492.89h1.6M346.61 497.05h1.6M355.15 485.54h1.6M348.62 468.65h1.6M366.29 460.84h1.6M355.3 496.8h1.6M357.09 486.81h1.6M348.69 492.02h1.6M346.96 477.52h1.6M365.94 460.13h1.6M353.84 469.66h1.6M359.27 469.94h1.6M357.28 480.31h1.6M354.39 483.34h1.6M361.93 473.06h1.6M350.58 479.68h1.6M355.39 488.18h1.6M352.33 457.43h1.6M348.92 467.54h1.6M358.54 461.89h1.6M351.46 478.47h1.6M348.98 464.58h1.6M354.03 477.26h1.6M367.19 457.75h1.6M349.26 490.79h1.6M356.15 458.51h1.6M352.4 460.62h1.6M354.33 487.54h1.6M354.14 497.76h1.6M352.09 482.89h1.6M350.43 501.21h1.6M346.75 478.09h1.6M354.28 476.19h1.6M354.73 483.11h1.6M355.9 484.87h1.6M349.02 468.49h1.6M347.2 474.79h1.6M356.42 479h1.6M350.59 489.58h1.6M354.7 492.58h1.6M359.29 466.5h1.6M346.4 488.7h1.6M355.98 460.65h1.6M348.87 480.37h1.6M359.25 491.58h1.6M346.75 496.48h1.6M353.62 498.91h1.6M361.41 483.3h1.6M365.78 455.15h1.6M358.17 483.09h1.6M361.05 455.96h1.6M354.62 494.73h1.6M352.29 455.8h1.6M352.23 461.42h1.6M370.56 458.87h1.6M357.59 466.85h1.6M358.92 457.65h1.6M348.62 500.09h1.6M346.92 483.02h1.6M348.82 469.12h1.6M352.13 462.38h1.6M362.75 470.21h1.6M362.3 464.4h1.6M358.95 475.08h1.6M359.27 459.79h1.6M350.64 475.9h1.6M357.79 472.06h1.6M353.86 486.3h1.6M360.56 459.19h1.6M360.83 475.55h1.6M349.97 488.82h1.6M354.37 470.95h1.6M350.25 499.19h1.6M352.89 476.49h1.6M356.43 480.86h1.6M358.43 485.14h1.6M348.03 470.15h1.6M352.47 493.87h1.6M357.49 494.95h1.6M365.23 456.88h1.6M366.82 460.03h1.6M348.98 481.57h1.6M346.88 489.08h1.6M353.08 487.12h1.6M350.01 479.65h1.6M349.49 466.43h1.6M365.29 459.07h1.6M350.07 475.44h1.6M358.78 454.18h1.6M351.81 479.13h1.6M352.95 458.8h1.6M346.82 501.2h1.6M358.31 479.67h1.6M347.98 486.03h1.6M346.82 498.75h1.6M356.97 462.53h1.6M357.66 470.05h1.6M346.89 479.64h1.6M357.38 452.55h1.6M368.46 459.38h1.6M362.37 459.18h1.6M350.6 495.04h1.6M358.22 474.69h1.6M357.66 464.29h1.6M347.94 475.29h1.6M357.17 474.27h1.6M348.14 482.19h1.6M350.95 494.5h1.6M365.05 458.51h1.6M361.46 450.95h1.6M354.65 490.06h1.6M348.94 484.55h1.6M355.27 458.99h1.6M348.6 483.75h1.6M350.31 497.88h1.6M366.53 476.31h1.6M364.62 449.99h1.6M357.43 464.47h1.6M366.26 458.48h1.6M350.96 465.99h1.6M350.62 494.67h1.6M355.94 473.67h1.6M360.24 455.28h1.6M346.34 482.49h1.6M357.21 471.33h1.6M352.89 455.81h1.6M356.6 475.47h1.6M361.06 465.08h1.6M359.23 465.61h1.6M360.37 472.83h1.6M350.94 492.93h1.6M358.14 481.71h1.6M353.68 457.81h1.6M362.98 460.92h1.6M362.77 481.55h1.6M346.95 478.28h1.6M360.39 483.32h1.6M358.22 492.22h1.6M355.46 474.26h1.6M359.42 486.21h1.6M348.08 497.15h1.6M347.09 488.6h1.6M352.72 464.38h1.6M350.65 487.14h1.6M355.96 463.57h1.6M358.69 472.77h1.6M350.55 472.94h1.6M355.72 479.06h1.6M351.62 494.76h1.6M347.06 499.54h1.6M347.74 490.99h1.6M347.65 474.85h1.6M348.61 482.2h1.6M355.13 461.84h1.6M357.07 456.44h1.6M356.85 452.4h1.6M368.02 464.74h1.6M348.15 495.8h1.6M354.35 471.65h1.6M352.31 466.35h1.6M363.75 482.38h1.6M350.87 468.25h1.6M351.23 498.3h1.6M352.11 497.28h1.6M353.92 494.2h1.6M352.86 461.93h1.6M348.66 483.15h1.6M359.03 463.39h1.6M352.13 477.98h1.6M347.28 479.01h1.6M351.92 462.48h1.6M355.12 477.49h1.6M349.06 495.07h1.6M354.64 469.69h1.6M351.83 466.58h1.6M358.83 488.05h1.6M356.59 485.99h1.6M349.09 486.09h1.6M348.26 471.29h1.6M353.79 458.33h1.6M356.4 458.96h1.6M349.88 494.67h1.6M348.87 464.57h1.6M367.01 469.92h1.6M348.83 480.67h1.6M360.67 489.78h1.6M349.55 496.71h1.6M354.06 463.84h1.6M346.31 487.07h1.6M348.02 485.17h1.6M358.31 479.9h1.6M355.71 494.46h1.6M348.23 497.51h1.6M361.26 457.14h1.6M365.03 456.83h1.6M355.88 471.86h1.6M348.23 489.87h1.6M361.99 482.03h1.6M363.47 468.22h1.6M350.16 461.41h1.6M353.14 470.01h1.6M350.54 487.71h1.6M357.3 476.32h1.6M349.41 464.71h1.6M350.66 478.41h1.6M353.7 453.33h1.6M349.7 483.73h1.6M361.02 465.04h1.6M355.47 472.22h1.6M353.95 469.85h1.6M352.59 485.66h1.6M350.57 478.97h1.6M346.49 471.79h1.6M353.21 498.71h1.6M356.22 481.16h1.6M353.07 488.82h1.6M347.23 476.36h1.6M350.08 472.12h1.6M351.2 490.55h1.6M357.88 478.86h1.6M350.16 490.27h1.6M351.35 499.17h1.6M355.5 491.25h1.6M349.77 495.65h1.6M357.56 491.37h1.6M348.24 485.6h1.6M369.34 468.05h1.6M350.34 493.67h1.6M355.63 484.02h1.6M348.46 482.05h1.6M363.43 480.45h1.6M349.59 474.53h1.6M359.56 484.88h1.6M349 483.92h1.6M348.58 464.32h1.6M352.15 470.57h1.6M357.84 470.18h1.6M349.46 472.97h1.6M351.79 491.58h1.6M354.04 497.17h1.6M363.66 461.53h1.6M352.24 485.2h1.6M348.45 501.48h1.6M347.35 481.51h1.6M364.46 460.28h1.6M348.15 468.74h1.6M357.21 489.69h1.6M350.12 481.23h1.6M353.73 487.26h1.6M356.25 474.56h1.6M367.09 469.11h1.6M351.34 492.34h1.6M359.34 488.35h1.6M358.02 473.88h1.6M357.42 468.56h1.6M369.1 452.59h1.6M359.77 476.53h1.6M358.65 486.89h1.6M351.44 459.39h1.6M360.21 485.3h1.6M360.47 474.04h1.6M353.52 480.47h1.6M350.09 462.71h1.6M353.97 482.99h1.6M369.17 467.9h1.6M355.65 452.42h1.6M363.6 464.45h1.6M350.85 463.02h1.6M352.82 497.13h1.6M347.8 490.3h1.6M350.73 475.8h1.6M346.93 479.73h1.6M358.52 488.51h1.6M358.23 487.68h1.6M358.99 477.87h1.6M365.17 456.19h1.6M347.81 493.91h1.6M360.14 451.77h1.6M350.17 500.38h1.6M352.87 454.16h1.6M352.45 483.19h1.6M349.69 497.7h1.6M347.14 486.75h1.6M349.76 499.07h1.6M351.71 489.65h1.6M359.1 474.07h1.6M348.16 487.31h1.6M353.78 494.39h1.6M349.2 495.61h1.6M352.48 461.55h1.6M364.68 476.76h1.6M349.65 488.79h1.6M362.34 473.33h1.6M351.6 496.7h1.6M361.83 472.27h1.6M349.9 488.44h1.6M362.23 480.35h1.6M355.5 460.02h1.6M357.65 469.03h1.6M351.82 488.83h1.6M349.17 463.95h1.6M365.23 481.31h1.6M350.33 493.43h1.6M353.43 476.9h1.6M357.33 489.89h1.6M355.42 458.49h1.6M362.71 461.66h1.6M349.05 470.74h1.6M348.7 488.33h1.6M360.69 454.82h1.6M354.99 475.36h1.6M361.36 452.48h1.6M350.72 469.96h1.6M350.2 486.53h1.6M367.26 472.64h1.6M350.18 487.12h1.6M349.1 489.66h1.6M347.34 499.69h1.6M359.72 471.71h1.6M350.06 472.66h1.6M361.5 475.62h1.6M351.95 468.21h1.6M347.26 480.63h1.6M365.13 451.39h1.6M358.15 463.72h1.6M348.36 483.47h1.6M352.13 463.94h1.6M346.31 487.32h1.6M357.91 455.51h1.6M347.63 473.22h1.6M349.34 483.85h1.6M351.11 470.48h1.6M354 470.37h1.6M355.09 457.15h1.6M360.22 464.37h1.6M351.9 477.15h1.6M346.45 488.1h1.6M348.16 487.65h1.6M355.71 480.67h1.6M362.59 461.86h1.6M347.88 469.32h1.6M349.33 475.79h1.6M358.68 457.65h1.6M364.81 478.43h1.6M364.96 466.37h1.6M347.74 473.7h1.6M351.34 482.12h1.6M348.11 496.28h1.6M352.02 492.63h1.6M347.81 497.32h1.6M350.67 481.8h1.6M348.99 465.72h1.6M356.14 485.11h1.6M353.36 491.78h1.6M347.94 499.31h1.6M358.89 456.37h1.6M346.47 468.77h1.6M357.14 466.64h1.6M347.8 477.46h1.6M357.17 453.12h1.6M353.2 497.83h1.6" stroke="#ff0000" stroke-width="1.6" fill="none"/>
<path d="M302.24 447.46h1.6M309.51 445.04h1.6M317.59 444.55h1.6M303.05 457.16h1.6M306.28 466.85h1.6M301.43 475.73h1.6M303.85 470.08h1.6M310.32 473.31h1.6M312.74 480.58h1.6M314.36 489.47h1.6M316.78 496.74h1.6M318.39 500.77h1.6M307.89 453.12h1.6M305.47 462h1.6M364.44 444.23h1.6M370.09 445.85h1.6M378.98 445.04h1.6M372.51 458.77h1.6M375.74 457.16h1.6M371.71 473.31h1.6M374.13 481.39h1.6M369.28 484.62h1.6M366.05 489.47h1.6M361.2 494.31h1.6M370.9 466.85h1.6M367.67 449.89h1.6M373.32 462.81h1.6M370.09 478.16h1.6" stroke="#ff0000" stroke-width="1.6" fill="none"/>
<rect x="299.2" y="441.6" width="83" height="67.6" fill="none" stroke="#111" stroke-width="1.15"/>
<path d="M296.4 506.9L299.2 506.9" stroke="#000" stroke-width="0.9"/>
<text x="295" y="509.2" font-size="6.6" fill="#333" color="#333" text-anchor="end">0</text>
<path d="M296.4 488.6L299.2 488.6" stroke="#000" stroke-width="0.9"/>
<text x="295" y="490.9" font-size="6.6" fill="#333" color="#333" text-anchor="end">5</text>
<path d="M296.4 470.3L299.2 470.3" stroke="#000" stroke-width="0.9"/>
<text x="295" y="472.6" font-size="6.6" fill="#333" color="#333" text-anchor="end">10</text>
<path d="M296.4 452L299.2 452" stroke="#000" stroke-width="0.9"/>
<text x="295" y="454.3" font-size="6.6" fill="#333" color="#333" text-anchor="end">15</text>
<path d="M307 509.2L307 512.2" stroke="#000" stroke-width="0.9"/>
<text x="307" y="521.4" font-size="6.6" fill="#333" color="#333" text-anchor="middle">-6</text>
<path d="M318.3 509.2L318.3 512.2" stroke="#000" stroke-width="0.9"/>
<text x="318.3" y="521.4" font-size="6.6" fill="#333" color="#333" text-anchor="middle">-4</text>
<path d="M329.6 509.2L329.6 512.2" stroke="#000" stroke-width="0.9"/>
<text x="329.6" y="521.4" font-size="6.6" fill="#333" color="#333" text-anchor="middle">-2</text>
<path d="M340.9 509.2L340.9 512.2" stroke="#000" stroke-width="0.9"/>
<text x="340.9" y="521.4" font-size="6.6" fill="#333" color="#333" text-anchor="middle">0</text>
<path d="M352.2 509.2L352.2 512.2" stroke="#000" stroke-width="0.9"/>
<text x="352.2" y="521.4" font-size="6.6" fill="#333" color="#333" text-anchor="middle">2</text>
<path d="M363.5 509.2L363.5 512.2" stroke="#000" stroke-width="0.9"/>
<text x="363.5" y="521.4" font-size="6.6" fill="#333" color="#333" text-anchor="middle">4</text>
<path d="M374.8 509.2L374.8 512.2" stroke="#000" stroke-width="0.9"/>
<text x="374.8" y="521.4" font-size="6.6" fill="#333" color="#333" text-anchor="middle">6</text>
<text x="340.55" y="437.5" font-size="6.6" fill="#222" color="#222" style="stroke-width:0.14px" text-anchor="middle" textLength="72.7" lengthAdjust="spacingAndGlyphs"><tspan>CD19</tspan><tspan font-size="4.0" dy="-2.7">-</tspan><tspan dy="2.7"> ASC vs CD19</tspan><tspan font-size="4.0" dy="-2.7">+</tspan><tspan dy="2.7">/CD20</tspan><tspan font-size="4.0" dy="-2.7">+</tspan></text>
<text x="340.5" y="533.5" font-size="8.6" fill="#222" color="#222" text-anchor="middle" textLength="65" lengthAdjust="spacingAndGlyphs" style="stroke-width:0.3px">log2 (fold change)</text>
<text x="282" y="476" font-size="5.4" fill="#222" color="#222" text-anchor="middle" textLength="44" lengthAdjust="spacingAndGlyphs" transform="rotate(-90 282 476)" style="stroke-width:0.12px">-log10 (adj.P.Val)</text>
<path d="M95.66 615.82h1M93.17 615.13h1M95.37 618.65h1M95.27 619.05h1M111.18 614.88h1M93.1 616.95h1M112.46 616.28h1M100.08 614h1M93.18 619.03h1M90.96 617.63h1M86.81 616.28h1M87.62 617.48h1M101.26 613.78h1M92.74 613.27h1M115.77 616.29h1M92.4 617.28h1M92.56 612h1M109.96 612.07h1M89.97 617.07h1M102.2 619.82h1M100.7 612.25h1M104.42 620.2h1M97.21 614.52h1M101.39 617.62h1M91.9 615.32h1M92.7 618.37h1M97.44 614.57h1M96.12 614.65h1M100.47 612.16h1M103.36 613.86h1M110.56 618.87h1M112.04 616.55h1M91.88 613.52h1M106.15 617.35h1M96.31 613.41h1M92.1 617.71h1M89.71 615.58h1M109.15 618.24h1M107.41 612.1h1M96.75 615.43h1M105.34 612.72h1M104.2 620.3h1M115.5 615.73h1M99.22 613.73h1M100.62 618.24h1M98.13 614.95h1M107.49 618.53h1M102.91 618.93h1M108.8 618.49h1M101.88 613.93h1M110.16 613.83h1M114.98 618.25h1M95.7 616.56h1M102.27 615.19h1M109.57 618.05h1M109.47 614.88h1M96.49 617.24h1M100.96 612.79h1M109.46 618.88h1M104.93 613.62h1M110.88 617.93h1M111.67 616.43h1" stroke="#bdbdbd" stroke-width="1" fill="none"/>
<path d="M95.1 578.3L98 578.3L98.8 584L99.9 594L101 604.6L101.7 613L102.1 615.5L95.1 615.5Z" fill="#bdbdbd"/>
<path d="M108.6 581L106.1 581L105.6 586L104.6 595L103.5 605L102.6 613L102.1 615.5L108.6 615.5Z" fill="#bdbdbd"/>
<path d="M90.4 617.5L92.5 614.8L111 614.8L112.5 617.5L111.1 619.8L92 619.8Z" fill="#bdbdbd"/>
<path d="M90.19 567L95.1 578.7L95.1 614.6L88.26 614.6L83.49 605L82.77 601.8L81.06 592.5L81.06 583L83.67 573.7L87.09 567.2L91.41 566.5Z" fill="#ff0000"/>
<path d="M110.91 573.5L108.6 581.2L108.6 614.6L112.29 614.6L115.26 601.8L117.78 592.5L118.59 583L116.97 575.6L113.46 573Z" fill="#ff0000"/>
<path d="M87.4 588.91h1.5M90.06 581.57h1.5M82.34 588.99h1.5M92.51 600.42h1.5M93.51 600.61h1.5M88.56 573.96h1.5M92.48 575.26h1.5M91.83 604.71h1.5M84.84 585.46h1.5M83.81 572.75h1.5M88.56 583.98h1.5M92.41 580.88h1.5M93.37 599.02h1.5M91.71 595.72h1.5M87.5 565.79h1.5M91.82 589.6h1.5M92.22 603.38h1.5M92.45 579.12h1.5M81.01 589.27h1.5M88.86 612.37h1.5M88.01 576.07h1.5M89.79 613.75h1.5M87.27 610.15h1.5M89.28 585.77h1.5M85.6 567.33h1.5M90.35 598.47h1.5M79.73 586.89h1.5M84.64 595.96h1.5M89.94 603.75h1.5M92.63 587.34h1.5M80.5 594.69h1.5M88.95 604.12h1.5M88.38 592.08h1.5M82.81 573.94h1.5M81.3 582.55h1.5M86.57 596.12h1.5M86.59 574.88h1.5M93.23 584.94h1.5M83.4 591.88h1.5M88.97 592.55h1.5M84.47 604.34h1.5M89.35 606.87h1.5M82.35 591.21h1.5M88.55 595.79h1.5M83.02 600.82h1.5M83.02 575.65h1.5M81.79 599.49h1.5M86.13 592.98h1.5M90.25 572.77h1.5M89.59 570.13h1.5M90.44 609.79h1.5M82.32 595.41h1.5M81.87 602.64h1.5M86.19 574.18h1.5M84.97 601.64h1.5M92.3 579.58h1.5M90.23 584.54h1.5M89.64 591.46h1.5M82.95 572.49h1.5M83.73 599.88h1.5M93.18 584.88h1.5M91.68 576.62h1.5M89.98 596.12h1.5M87.91 607.39h1.5M81.19 585h1.5M90.81 600.51h1.5M81.42 584.17h1.5M80.2 590.48h1.5M89.45 609.22h1.5M81.06 586.15h1.5M82.1 585.24h1.5M88.71 608.17h1.5M92.05 608.3h1.5M88.78 612.58h1.5M83.66 582.82h1.5M88.94 582.61h1.5M89.93 570.12h1.5M82.74 592.95h1.5M83.39 582.84h1.5M93.5 602.55h1.5M93.95 612.92h1.5M84.39 573.29h1.5M88.57 606.53h1.5M82.41 584.1h1.5M84.36 587.92h1.5M86.45 582h1.5M90 593.44h1.5M94.2 582.45h1.5M90.49 586.03h1.5M89.92 588.39h1.5M86.82 588.78h1.5M92.8 590.8h1.5M85.39 585.02h1.5M91.85 593.03h1.5M85.93 577.18h1.5M86.87 595.34h1.5M85.8 585.37h1.5M87.7 589.9h1.5M90.65 579.37h1.5M85.28 577.94h1.5M85.36 569.9h1.5M93.61 577.54h1.5M81.79 597.8h1.5M93.83 588.64h1.5M85.12 604.69h1.5M85.22 607.19h1.5M92.17 577.99h1.5M92.96 581.54h1.5M88.27 591.16h1.5M83.47 591.5h1.5M83.22 579.95h1.5M90.96 580.81h1.5M87.4 594.21h1.5M80.94 599.21h1.5M87.21 602.51h1.5M81.08 577.95h1.5M82.3 580.5h1.5M93.23 606.6h1.5M83.47 580.81h1.5M91.9 582.38h1.5M84.82 581.66h1.5M82.49 587.5h1.5M92.11 611.8h1.5M84.71 592.5h1.5M91.12 609.26h1.5M83.93 607.79h1.5M90.79 609.51h1.5M82.73 593h1.5M86.01 602.9h1.5M93.73 580.09h1.5M89.15 589.09h1.5M93.63 577h1.5M89.44 598.57h1.5M92.17 605.58h1.5M88.26 576.42h1.5M86.92 569.25h1.5M92.59 580.27h1.5M89.03 600.94h1.5M91.48 594.59h1.5M81.66 579.81h1.5M93.42 596.83h1.5M89.36 568.22h1.5M92.36 612.4h1.5M82.26 592.28h1.5M84.65 605.19h1.5M84.07 601.64h1.5M93.11 587.44h1.5M92.43 578.82h1.5M81.44 588.12h1.5M91.25 607.08h1.5M93.52 607.64h1.5M92.02 612.24h1.5M86.47 605.75h1.5M85.54 572.35h1.5M82.96 596.39h1.5M79.88 591.12h1.5M84.86 598.29h1.5M86.22 573.08h1.5M80.68 584.51h1.5M89.06 601.96h1.5M93.71 599.33h1.5M87.08 601.56h1.5M86.3 583.65h1.5M80.11 584.75h1.5M89.26 594.43h1.5M80.5 583.41h1.5M91.51 604.8h1.5M81.71 594.5h1.5M93.94 594.62h1.5M94.05 602.96h1.5M86.11 610.81h1.5M86.31 589.62h1.5M81.05 590.11h1.5M84.91 605.33h1.5M90.26 610.4h1.5M84.06 589.37h1.5M89.39 588.5h1.5M82.45 578.39h1.5M85.01 578.15h1.5M91.58 602.11h1.5M81.65 593.18h1.5M88.38 581.81h1.5M90.58 602.65h1.5M86.12 570.71h1.5M86.76 614.45h1.5M88.5 590.56h1.5M88.34 570.18h1.5M90.35 579.6h1.5M87.86 587.31h1.5M90.79 594.97h1.5M82.78 572.77h1.5M88.8 594.19h1.5M89.26 606.56h1.5M92.63 589.39h1.5M83.17 580.62h1.5M93.37 590.78h1.5M86.58 591.3h1.5M86 596.64h1.5M85.36 577.54h1.5M82.67 581.86h1.5M91.79 589.38h1.5M81.29 600.57h1.5M87.21 600.38h1.5M83.5 583.73h1.5M82.64 592.02h1.5M90.72 607.23h1.5M87.51 570.07h1.5M83.79 591.98h1.5M91.42 606.97h1.5M84.73 578.21h1.5M94.21 579.74h1.5M90.72 582.32h1.5M81.82 597.41h1.5M87.4 565.24h1.5M85.24 604.66h1.5M86.91 595.55h1.5M90.83 580.86h1.5M84.91 608.74h1.5M81.84 579.29h1.5M89.45 594.92h1.5M90.53 608.84h1.5M84.11 574.38h1.5M82.44 574.16h1.5M91.14 590.45h1.5M88.74 569.19h1.5M87.49 568.75h1.5M92.44 609.42h1.5M92.31 588.95h1.5M89.44 582.23h1.5M84.61 605.17h1.5M83.57 606.03h1.5M82.69 587.25h1.5M83.96 574.38h1.5M88.61 568.68h1.5M94.03 611.31h1.5M91.04 598.76h1.5M91.43 573.36h1.5M92.45 590.22h1.5M87.34 590.7h1.5M88.21 593.06h1.5M87.17 606.85h1.5M89.28 575.17h1.5M79.84 592.6h1.5M87.94 612.59h1.5M93.43 588.33h1.5M83.63 598.63h1.5M84.06 582.21h1.5M89.89 609.64h1.5M85.3 591.96h1.5M94.31 597.69h1.5M87.88 609.61h1.5M86.87 608.36h1.5M85.54 611.1h1.5M92.64 579.74h1.5M82.53 606.42h1.5M81.53 594.7h1.5M82.6 591.87h1.5M85.13 577.84h1.5M92.33 601.96h1.5M83.84 598.15h1.5M90.33 590.2h1.5M85.19 577.45h1.5M88.7 613.06h1.5M89.36 568.4h1.5M84.32 582.62h1.5M90.85 603.42h1.5M81.7 591.14h1.5M81.95 604.54h1.5M90.83 581.43h1.5M84.5 585.74h1.5M92.09 600.2h1.5M91.62 603.62h1.5M87.21 598.6h1.5M83.92 577.45h1.5M82.16 576.17h1.5M82.17 596.72h1.5M87.11 595.04h1.5M82.39 587.41h1.5M89.28 603.46h1.5M85.28 596.29h1.5M80.62 580.59h1.5M83.09 587.84h1.5M84.11 608.51h1.5M91.19 595.82h1.5M89.6 587.34h1.5M91.24 589.67h1.5M89.71 572.34h1.5M89.73 581.27h1.5M86.07 594.34h1.5M82.53 604.83h1.5M88.63 572.51h1.5M85.79 568.3h1.5M86.89 570.65h1.5M90.96 579.62h1.5M91.69 579.45h1.5M84.08 578.38h1.5M81.5 577.39h1.5M90.3 612.86h1.5M89.04 613.27h1.5M83.43 596.9h1.5M89.04 578.83h1.5M83.52 579.93h1.5M94.06 596.95h1.5M89.94 569.6h1.5M87.48 571.11h1.5M90.27 592.75h1.5M88 578.57h1.5M87.53 601.78h1.5M93.25 613.67h1.5M90.28 598.8h1.5M83.84 584.92h1.5M88.01 568.75h1.5M85.22 582.81h1.5M91.79 601.53h1.5M83.28 594.38h1.5M88.8 587.69h1.5M94.2 579.62h1.5M89.55 614.1h1.5M81.63 592.21h1.5M86 587.99h1.5M92.2 590.05h1.5M87.68 566.36h1.5M87.36 592.28h1.5M88.93 599.75h1.5M91.06 594.64h1.5M94.05 580.83h1.5M84.92 591.58h1.5M89.61 593.27h1.5M84.66 583.55h1.5M85.61 586.82h1.5M89.86 593.44h1.5M85.52 587.57h1.5M89.69 606.34h1.5M84.14 570.22h1.5M86.46 571.38h1.5M94.12 609.75h1.5M84.21 598.09h1.5M86.08 569.58h1.5M81.97 602.02h1.5M82.81 579.26h1.5M86.95 590.84h1.5M86.65 609.75h1.5M84.11 583.68h1.5M89.35 580.56h1.5M85.42 567.49h1.5M82.87 596.68h1.5M86.08 611.63h1.5M84.81 610.77h1.5M80.42 591.73h1.5M87.36 584.74h1.5M81.31 590.62h1.5M86.01 606.43h1.5M93.88 594.11h1.5M87.91 573.29h1.5M86.85 596.89h1.5M89.11 608.57h1.5M86.95 611.87h1.5M91.75 582.07h1.5M92.96 580.29h1.5M86.05 575.9h1.5M86.66 565.53h1.5M88.23 574.23h1.5M88.44 592.21h1.5M85.93 577.3h1.5M85.92 612.83h1.5M82.98 582.24h1.5M84.39 569.41h1.5M90.38 569.54h1.5M86.06 570.07h1.5M92.58 582.16h1.5M81.62 602.38h1.5M83.09 579.14h1.5M85.56 578.94h1.5M87.14 572.07h1.5M84.02 595.58h1.5M86.58 569.81h1.5M89.14 599.33h1.5M89.45 586.6h1.5M87.96 581.57h1.5M93.55 588.53h1.5M90.77 600.76h1.5M86.5 572.6h1.5M85.76 602.31h1.5M85.41 571.99h1.5M86.55 602.35h1.5M82.48 577.16h1.5M90 579.06h1.5M84.85 609.69h1.5M91.48 592.78h1.5M83.14 583.66h1.5M84 594.33h1.5M85.57 590.64h1.5M94 588.73h1.5M80.13 587.83h1.5M88.54 586.86h1.5M87.77 576.37h1.5M82.76 579.03h1.5M93.78 581.06h1.5M91.75 611.11h1.5M89.91 590.08h1.5M92.22 613.58h1.5M89.92 601.63h1.5" stroke="#ff0000" stroke-width="1.5" fill="none"/>
<path d="M111.25 606.18h1.5M112.46 594.27h1.5M110.26 608.21h1.5M115.68 574.12h1.5M110.42 590.19h1.5M112.19 606.98h1.5M108.91 580.25h1.5M110.81 606.95h1.5M108.34 613.2h1.5M108.37 580.44h1.5M110.44 580.9h1.5M109.14 601.47h1.5M111.99 604.52h1.5M116.39 574.17h1.5M111.44 575.93h1.5M109.74 601.65h1.5M112.57 596.64h1.5M116.17 590.57h1.5M108.76 601.48h1.5M114.91 579.95h1.5M112.69 576.66h1.5M116.33 588.69h1.5M115.06 595.67h1.5M114.66 573.22h1.5M115.58 596.89h1.5M115.81 578.93h1.5M112.77 579.72h1.5M116.02 580.05h1.5M109.03 580.5h1.5M112.4 582.64h1.5M111.39 612.56h1.5M111.01 572.12h1.5M108.79 613.34h1.5M108.03 598.51h1.5M110.31 587.39h1.5M113.92 573.22h1.5M111.03 572.3h1.5M108.39 587.3h1.5M108.79 592.21h1.5M114.76 576.53h1.5M113.52 572.41h1.5M109.78 575.63h1.5M114.56 596.09h1.5M114.13 598.28h1.5M109.64 596.34h1.5M108.27 600.62h1.5M117.01 588.22h1.5M112.22 579.4h1.5M109.54 589.65h1.5M113.84 598.61h1.5M109.74 594.47h1.5M112.25 611.83h1.5M108.76 609.01h1.5M112.29 600.61h1.5M112.62 604.93h1.5M108.97 595.06h1.5M113.84 576.28h1.5M112.8 605.75h1.5M115.42 573.85h1.5M108.81 611.89h1.5M110.83 585.14h1.5M110.3 608.23h1.5M111.33 587.32h1.5M114.74 597.83h1.5M109.04 588.2h1.5M115 592.24h1.5M115.25 577.52h1.5M115.53 591.06h1.5M113.24 575.51h1.5M116.1 580.25h1.5M111.57 595.14h1.5M108.06 604.33h1.5M111 610.79h1.5M111.2 607.87h1.5M108.46 605.55h1.5M108.61 584.41h1.5M111.01 598.15h1.5M116.46 576.92h1.5M110.13 591.02h1.5M110.05 590.4h1.5M112.85 579.08h1.5M112.89 607.85h1.5M111.36 573.38h1.5M113.92 581.59h1.5M114.35 585.99h1.5M107.92 594.34h1.5M108.6 580.08h1.5M114.18 582.11h1.5M108.23 609.64h1.5M112.16 593.25h1.5M111.62 603.18h1.5M111.96 603.2h1.5M116.15 574.24h1.5M117.97 583.66h1.5M112.66 582.99h1.5M108.32 604.55h1.5M113.96 599.28h1.5M111.62 578.71h1.5M115.71 575.61h1.5M110.18 610.01h1.5M113.62 587.78h1.5M109.55 581.27h1.5M116.87 586.29h1.5M111.8 613.18h1.5M116.4 583.98h1.5M109.68 576.32h1.5M112.97 595.82h1.5M111.1 573.12h1.5M110.28 575.4h1.5M112.61 603.43h1.5M113.78 595.96h1.5M116.9 576.33h1.5M111.85 605.95h1.5M116.98 593.1h1.5M110.49 610.33h1.5M111.74 609.73h1.5M113.68 595.21h1.5M113.92 575.25h1.5M117.59 583.3h1.5M113.26 595.27h1.5M108.41 611.59h1.5M108.1 590.38h1.5M113.42 598.53h1.5M109.6 593.05h1.5M110.04 582.8h1.5M111.42 601.45h1.5M113.42 601.46h1.5M109.78 584.14h1.5M113.64 584.37h1.5M113.09 587.64h1.5M111.74 613.06h1.5M109.12 587.98h1.5M109.73 597.07h1.5M114.43 601.8h1.5M116.79 590.26h1.5M115.17 588.24h1.5M110.36 607.23h1.5M109.78 586.62h1.5M113.33 598.94h1.5M117.52 582.53h1.5M107.88 600.22h1.5M113.62 572.23h1.5M112.7 592.01h1.5M113.35 584.21h1.5M113.68 594.37h1.5M109.89 587.88h1.5M109.83 583.71h1.5M110.12 600.52h1.5M110.56 590.78h1.5M111.63 604.14h1.5M107.96 591.5h1.5M114.18 582.59h1.5M112.74 583.21h1.5M110.66 601.96h1.5M110.98 611.3h1.5M116.85 578.82h1.5M114.51 573.05h1.5M114.45 584.78h1.5M107.97 606.21h1.5M117.76 580.79h1.5M117.81 584.46h1.5M115.21 581.87h1.5M116.09 594.91h1.5M116.08 590.65h1.5M112.18 580.83h1.5M108 580.92h1.5M114.77 583.93h1.5M113.99 579.92h1.5M112.48 591h1.5M108.19 589.68h1.5M112.05 594.56h1.5M110.71 606.62h1.5M108.58 580.86h1.5M108.03 595.73h1.5M109.07 602.51h1.5M111.19 613.33h1.5M110.26 598.17h1.5M111.65 594.92h1.5M111.82 603.85h1.5M110.95 572.94h1.5M111.54 572.26h1.5M110.7 608.32h1.5M115.41 584.81h1.5M111.85 589.67h1.5M109.35 600.45h1.5M117.53 587.27h1.5M108.22 610.79h1.5M109 582.97h1.5M112.05 572.77h1.5M110.46 572.72h1.5M109.36 607.91h1.5M111.79 583.57h1.5M114.51 580.53h1.5M108.82 592.58h1.5M115.42 575.39h1.5M115.47 584.6h1.5M109.12 578.11h1.5M110.62 578.36h1.5M115.75 595.4h1.5M111.63 589.3h1.5M115.49 594.9h1.5M117.05 586.12h1.5M113.44 573.1h1.5M109.69 577.9h1.5M111 612.82h1.5M110.91 603.15h1.5M113.97 589h1.5M113.29 597.48h1.5M108.03 607.86h1.5M114.13 597.75h1.5M109.53 608.93h1.5M109.69 597.04h1.5M112.3 573.46h1.5M109.26 602.95h1.5M114.29 589.65h1.5M111.52 588.98h1.5M116.33 588.58h1.5M108.9 592.39h1.5M110.13 599.32h1.5M110.21 584.86h1.5M114.69 577.02h1.5M115.1 595.81h1.5M111.62 578.86h1.5M115.89 589.96h1.5M109.3 609.23h1.5M116.43 579.48h1.5M114.6 578.5h1.5M109.43 586.64h1.5M116.4 583.03h1.5M112.44 603.81h1.5M108.56 586.62h1.5M110.21 579.69h1.5M114.13 600.02h1.5M110.56 574.46h1.5M114.42 586.93h1.5M107.86 602.83h1.5M111.4 609.26h1.5M108.71 602.92h1.5" stroke="#ff0000" stroke-width="1.5" fill="none"/>
<path d="M80.16 604.98h1.6M90.33 604.49h1.6M91.01 610.4h1.6M78.75 594.25h1.6M85.65 578.11h1.6M85.82 602.06h1.6M82.74 569.25h1.6M87.81 575.25h1.6M81.34 605.92h1.6M84.29 591.11h1.6M87.66 601.8h1.6M73.17 590.13h1.6M87.71 576.7h1.6M88.09 608.65h1.6M74.25 578.37h1.6M75.91 599.34h1.6M70.94 582.57h1.6M74.54 586.59h1.6M86.82 601.72h1.6M88.03 586.65h1.6M74.8 588.88h1.6M86 595.92h1.6M90.15 606.05h1.6M86.5 567.97h1.6M70.85 586.88h1.6M79.86 606.93h1.6M89.59 581.71h1.6M89.31 605.21h1.6M92.82 602.89h1.6M88.66 577.72h1.6M80.29 567.03h1.6M90.3 599.54h1.6M74.34 571.53h1.6M92.02 608.63h1.6M86.53 586.02h1.6M92.94 593.61h1.6M91.71 588.06h1.6M92.82 608.16h1.6M90.97 574.85h1.6M88.09 569.07h1.6M90.7 583.51h1.6M84.86 569.18h1.6M89.58 596.34h1.6M85.85 588.96h1.6M83.42 584.12h1.6M94.01 585.73h1.6M93.79 611.83h1.6M88 597.19h1.6M91.12 609.16h1.6M89.94 613.32h1.6M81.03 590.51h1.6M84.2 596.13h1.6M92.18 607.58h1.6M87.47 585.6h1.6M93.61 583.63h1.6M82.33 594.02h1.6M78.47 596.42h1.6M76.11 593.63h1.6M82.74 580.81h1.6M84.27 564.81h1.6M78.25 578.02h1.6M93.78 596.08h1.6M82.67 611.56h1.6M72.76 566.04h1.6M80.57 602.7h1.6M87.41 609.94h1.6M85.76 587.57h1.6M87.21 589.66h1.6M82.77 603.54h1.6M75.58 577.01h1.6M87.1 571.49h1.6M66.66 579.16h1.6M91.12 591.42h1.6M89.17 579.68h1.6M90.75 593.35h1.6M72.58 582.05h1.6M73.18 564.37h1.6M74.62 600.08h1.6M72.15 570.96h1.6M76.83 598.11h1.6M84.74 568.74h1.6M73.69 575.43h1.6M83.38 603.96h1.6M86.41 601.52h1.6M92.47 602.31h1.6M88.33 569.65h1.6M91.27 585.88h1.6M80.18 602.34h1.6M86.07 574.52h1.6M71.41 585.41h1.6M84.38 579.31h1.6M83.45 609.05h1.6M89.77 597.29h1.6M92.71 580.89h1.6M87.04 610.16h1.6M90.6 574.73h1.6M76.54 567.09h1.6M92.59 580.19h1.6M83.1 586.03h1.6M77.03 595.73h1.6M78.39 590.54h1.6M86.49 589.6h1.6M87.6 610.75h1.6M91.22 601.1h1.6M86.06 578.56h1.6M82.91 604.04h1.6M87.28 594.91h1.6M93.92 600.97h1.6M78.18 584.65h1.6M84.17 598.41h1.6M91.64 587.93h1.6M74 599.07h1.6M80.89 574.4h1.6M78.24 596.37h1.6M89.31 577.08h1.6M70.28 574.34h1.6M91.23 613.54h1.6M93.33 592.21h1.6M90.01 596.47h1.6M94.29 584.64h1.6M93.92 598.01h1.6M91.09 600.16h1.6M83.93 610.43h1.6M76.13 588.7h1.6M63.68 574.17h1.6M86.96 592.75h1.6M82.34 591.89h1.6M79.25 593.85h1.6M79.08 590h1.6M85.27 564.21h1.6M88.63 600.1h1.6M85.6 613.83h1.6M94.22 601.56h1.6M89.72 598.07h1.6M85.56 594.62h1.6M88.65 583.68h1.6M93.29 594.19h1.6M83.31 564.73h1.6M85.64 606.26h1.6M80.17 584.74h1.6M84.63 602.77h1.6M88.26 610.58h1.6M78.76 574.64h1.6M90.45 572.05h1.6M75.48 565.71h1.6M84.26 593.25h1.6M89.42 588.67h1.6M91.27 574.14h1.6M73.5 586.79h1.6M85.78 607.77h1.6M87.29 566.74h1.6M85.79 596.42h1.6M69.42 575.13h1.6M73.93 564.29h1.6M82.71 604.35h1.6M77.04 577.8h1.6M73.89 564.3h1.6M76.61 581.63h1.6M88.56 603.33h1.6M83.81 565.41h1.6M76.65 595.93h1.6M66.62 577.22h1.6M74.59 598.01h1.6M81.79 594.78h1.6M93.78 594.14h1.6M88.7 568.42h1.6M75.4 595.64h1.6M91.76 608.53h1.6M82.31 568.28h1.6M84.39 592.09h1.6M70.19 574.82h1.6M81.75 566.86h1.6M82.31 609.77h1.6M87.83 576.41h1.6M93.44 602.71h1.6M77.85 580.87h1.6M82 571.33h1.6M92.63 582.06h1.6M79.4 597.98h1.6M78.85 584.71h1.6M94.09 606.86h1.6M80.48 568.58h1.6M69.53 577.94h1.6M78.66 602.99h1.6M83.69 583.52h1.6M91.55 613.26h1.6M64.2 569.32h1.6M92.7 598.87h1.6M75.62 578.66h1.6M88.77 591.52h1.6M73.75 592.39h1.6M88.18 583.79h1.6M81.64 608.86h1.6M84.48 571.33h1.6M87.33 579.6h1.6M93.03 592.86h1.6M92.9 614.55h1.6M76 584.09h1.6M84.91 589.14h1.6M80.25 584.96h1.6M94.24 593.57h1.6M73.88 569.5h1.6M62.15 573.34h1.6M75.37 568.05h1.6M89.91 581.73h1.6M91.53 588.78h1.6M85.74 603.6h1.6M88.06 568.24h1.6M89.27 573.79h1.6M90.52 588.74h1.6M85.8 607.52h1.6M91.37 609.6h1.6M88.45 595.45h1.6M75.68 588.78h1.6M86.81 595.23h1.6M86.94 566.03h1.6M88.93 579.06h1.6M88.05 590.5h1.6M92.45 600.75h1.6M88.75 569.91h1.6M82.57 576.15h1.6M78.17 592.11h1.6M67.62 576.34h1.6M86.37 569.43h1.6M88.98 571.75h1.6M66.96 582.67h1.6M80.15 572.58h1.6M93.27 588.92h1.6M91.26 582.12h1.6M91.39 602.87h1.6M78.54 569.43h1.6M75.02 565.09h1.6M80.05 606.68h1.6M80.95 564.79h1.6M77.65 594.05h1.6M76.02 574.49h1.6M82.83 605h1.6M89.31 609.45h1.6M74.95 565.63h1.6M86.21 586.49h1.6M84.58 586.49h1.6M79.17 591.01h1.6M93.13 607.86h1.6M70.82 594.57h1.6M88.58 591.79h1.6M89.66 610.85h1.6M92.88 589.91h1.6M83.99 568.58h1.6M91.22 607.96h1.6M79.12 583.36h1.6M88.17 564.89h1.6M91.79 590.09h1.6M90.8 613.86h1.6M93.88 597.68h1.6M94.05 578.97h1.6M79.55 595.97h1.6M87.12 589.56h1.6M92.14 590.54h1.6M90.69 578.11h1.6M66.99 567.47h1.6M92.65 587.42h1.6M91.51 580.51h1.6M88.72 603.35h1.6M83.72 600.19h1.6M85.62 614.58h1.6M92.91 592.39h1.6M72.67 578.19h1.6M88.26 605.06h1.6M90.97 593.66h1.6M71.05 587.88h1.6M92.08 606.95h1.6M92.24 577.66h1.6M77.98 585.19h1.6M83.99 598.9h1.6M71.12 594.77h1.6M79.88 575.98h1.6M93.02 592.49h1.6M93.15 579.61h1.6M75.36 576.54h1.6M89.87 587.2h1.6M72.97 581.09h1.6M83.07 599.64h1.6M86.02 579.81h1.6M86.03 583.01h1.6M64.13 570.75h1.6M71.23 567.37h1.6M89.05 606.89h1.6M92.29 613.26h1.6M84.54 608.73h1.6M86.14 602.03h1.6M92.14 587.96h1.6M85.37 572.12h1.6M82.37 611.52h1.6M90.25 577.31h1.6M66.53 574.87h1.6M90.53 604.61h1.6M87.97 596.54h1.6M78.34 597.11h1.6M90.55 590.04h1.6M80.37 588.47h1.6M76 599.33h1.6M93.59 598.46h1.6M91.54 608.81h1.6M76.96 587.58h1.6M84.79 612.39h1.6M93.9 592.94h1.6M75.53 578.63h1.6M71.1 584.28h1.6M80.06 587.65h1.6M87.82 581.17h1.6M72.82 585.13h1.6M80.5 599.15h1.6M83.98 570.85h1.6M84.81 601.21h1.6M85.81 570.9h1.6M92.2 611.19h1.6M74.92 585.62h1.6M93.75 593.13h1.6M74.48 582.93h1.6M86.71 611.02h1.6M93.13 582.86h1.6M68.55 578.07h1.6M85.63 595.68h1.6M63.99 581.95h1.6M92.78 590.35h1.6M79.78 577.76h1.6M83.65 601.75h1.6M81.22 564.43h1.6M89.23 606.99h1.6M80.39 575.2h1.6M79.5 594.31h1.6M76.3 570.29h1.6M86.41 607.31h1.6M82.81 569.27h1.6M72.79 580.88h1.6M94.29 605.85h1.6M83.78 609.4h1.6M80.39 574.18h1.6M93.2 600.02h1.6M80.16 606.39h1.6M90.85 588.85h1.6M80.72 564.65h1.6M63.21 577.14h1.6M93.68 598.07h1.6M69.3 571.46h1.6M88.47 592.02h1.6M66.67 569.91h1.6M85.91 609.84h1.6M83.81 587.74h1.6M92.45 601.53h1.6M78.44 572.35h1.6M88.09 612.14h1.6M77.01 586.18h1.6M64.95 572.26h1.6M73.22 596.04h1.6M80.9 569.82h1.6M79.33 585.06h1.6M89.51 596.48h1.6M74.91 599.77h1.6M90.13 576.19h1.6M89.82 579.81h1.6M89.21 610.83h1.6M84.29 566.99h1.6M81.11 566.51h1.6M89.55 570.92h1.6M91.32 571.86h1.6M70.97 585.16h1.6M78.8 590.37h1.6M89.87 597.38h1.6M89.62 597.43h1.6M84.69 575.47h1.6M77.29 585.88h1.6M88.26 605.74h1.6M90.54 570.28h1.6M62.9 570.5h1.6M79.75 587.89h1.6M93.31 608.67h1.6M77.13 590.5h1.6M85.28 609.18h1.6M69.41 582.31h1.6M93.79 589.68h1.6M89.04 608.15h1.6M84.76 588.36h1.6M84.62 609.17h1.6M81.2 582.12h1.6M91.53 579.74h1.6M87.05 573.79h1.6M92.13 597.61h1.6M82.38 579.19h1.6M91.63 612.47h1.6M73.79 570.97h1.6M92.71 578.16h1.6M88.24 610.29h1.6M90.09 598.82h1.6M78.7 601.98h1.6M79.96 586.3h1.6M91.77 611.93h1.6M84.68 606.46h1.6M89.07 573.04h1.6M89.64 589.49h1.6M87.49 582.66h1.6M80.8 572.91h1.6M94.15 606.47h1.6M70.37 578.7h1.6M81.14 587.01h1.6M91.39 602.96h1.6M91.15 607.52h1.6M92.12 577.2h1.6M94.16 582.24h1.6M89.13 573.16h1.6M91.73 591.21h1.6M94.21 596.19h1.6M77.07 602.69h1.6M85.25 572.58h1.6M87.41 580.87h1.6M84.86 590.92h1.6M82.37 612.67h1.6M84.21 605.01h1.6M70.65 592.34h1.6M69.32 593.17h1.6M91.95 580.62h1.6M74.58 597.56h1.6M79.81 571.15h1.6M87.48 597.28h1.6M86.04 602.71h1.6M88.58 602.32h1.6M93.13 608.65h1.6M63.3 582.56h1.6M84.85 614.52h1.6M68.46 570.81h1.6M87.32 595.83h1.6M92.89 587.36h1.6M70.03 589.45h1.6M68.05 589.87h1.6M85.97 592.45h1.6M90.11 614.47h1.6M89.84 602.54h1.6M89.65 575.89h1.6M77.87 564.09h1.6M92.96 593.08h1.6M80.56 606.23h1.6M92.11 613.64h1.6M63.06 575.77h1.6M77.5 602.5h1.6M90.72 573.88h1.6M80.11 586.32h1.6M86.28 597.2h1.6M76.16 575.27h1.6M89.5 571.2h1.6M68.87 575.72h1.6M81.45 608.3h1.6M83.73 580.25h1.6M86.83 592.74h1.6M88.65 597.54h1.6M85.29 575.19h1.6M78.07 589.53h1.6M70.83 583.31h1.6M77.11 588.41h1.6M91.8 576.33h1.6M85.64 579.62h1.6M93.67 582.28h1.6M68.21 577.48h1.6M91.93 575.1h1.6M77.9 590.35h1.6M82.13 586.15h1.6M90.14 571.98h1.6M91.53 577.06h1.6M92.93 578.99h1.6M82.97 595.12h1.6M63.96 581.75h1.6M73.54 573.56h1.6M92.46 581.96h1.6M82.26 580.29h1.6M88.24 592.33h1.6M85.02 609.08h1.6M86.79 599.55h1.6M77.51 575.86h1.6M84.19 590.05h1.6M83.09 588.4h1.6M91.37 584.08h1.6M88.94 589.54h1.6M86.77 604.31h1.6M86.04 614.58h1.6M71.11 590.45h1.6M82.39 590.48h1.6M66.59 588.09h1.6M72.83 578.58h1.6M72.1 586.19h1.6M77.27 601.12h1.6M77.52 574.4h1.6M90.66 589.96h1.6M82.18 564.59h1.6M75.25 572.64h1.6M62.24 576.07h1.6M90.15 603.38h1.6M84.63 604.66h1.6M77.11 576.4h1.6M87.33 588.21h1.6M90.82 599.9h1.6M72.54 565.33h1.6M86.77 583.09h1.6M90.11 578.71h1.6M89.53 608.8h1.6M78.6 580.65h1.6M80.72 592.59h1.6M64.28 569.34h1.6M72.02 580.03h1.6M83.2 584.25h1.6M71.41 571.64h1.6M90.33 613.91h1.6M91.35 581.22h1.6M75.38 600.37h1.6M87.53 575.34h1.6M87.64 591.02h1.6M85.35 567.67h1.6M88.13 590.65h1.6M79.51 593.24h1.6M90.44 609.21h1.6M75.66 574.75h1.6M86.55 607.64h1.6M82.17 585.86h1.6M84.82 566.54h1.6M91.1 577.32h1.6M82.93 609.27h1.6M83.13 592.38h1.6M87.77 578.47h1.6M84.39 566.63h1.6M72.86 596.99h1.6M90.63 597.17h1.6M90.22 592.29h1.6M72.58 589.02h1.6M76.9 575.49h1.6M81.13 595.56h1.6M79.75 568.76h1.6M90.29 606.22h1.6M92.08 614.18h1.6M85.27 595.2h1.6M73.96 570.76h1.6M77.15 566.94h1.6M73.14 578.49h1.6M85.46 563.63h1.6M81.27 567.76h1.6M91.75 580.1h1.6M89.15 591.99h1.6M90.03 571.77h1.6M85.67 599.17h1.6M74.66 583.33h1.6M87.93 571.27h1.6M78.58 594.31h1.6M91.49 588.66h1.6M67.99 588.55h1.6M72.32 567.08h1.6M89.49 567.38h1.6M93.37 602.27h1.6M94.05 614.05h1.6M73.36 580.51h1.6M65.98 567.5h1.6M83.26 565.98h1.6M83.64 597.02h1.6M89.44 606.05h1.6M85.65 578.13h1.6M89.51 601.63h1.6M86.52 588.38h1.6M86.49 575.16h1.6M88.88 568.98h1.6M76.42 587.37h1.6M91.89 573.87h1.6M80 577.02h1.6M86.6 613.34h1.6M75.01 570.38h1.6M86.54 605.32h1.6M72.85 573.14h1.6M86.84 581.93h1.6M87.88 574.62h1.6M62.57 573.59h1.6M80.66 569.29h1.6M87.04 604.59h1.6M93.42 579.58h1.6M81.62 601.91h1.6M81.4 593.35h1.6M84.02 604.58h1.6M76.5 597.72h1.6M74.22 575.25h1.6M81.4 601.52h1.6M75.41 583.77h1.6M90.7 607.01h1.6M85.66 568.47h1.6M84.34 563.4h1.6M77.31 569.16h1.6M89.09 598.83h1.6M69.93 595.54h1.6M87.91 582.73h1.6M89.72 608.91h1.6M89.89 590.51h1.6M82.88 603.38h1.6M72.43 595.85h1.6M85.67 578.17h1.6M82.89 571.8h1.6M89.52 575.52h1.6M86.31 589.93h1.6M75.4 594.23h1.6M92.41 604.07h1.6M79.55 602.26h1.6M70.24 572.13h1.6M75.32 586h1.6M83.71 605.58h1.6M91.37 586.08h1.6M80.87 595.46h1.6M81.76 589.11h1.6M89.96 606.94h1.6M88.36 581.41h1.6M86.86 583.05h1.6M73.36 581.27h1.6M69.84 577.12h1.6M69.66 588.89h1.6M89.97 582.47h1.6M82.17 573.17h1.6M80.72 569.7h1.6M67.32 589.74h1.6M84.16 610.55h1.6M79.09 593.11h1.6M92.85 575.32h1.6M83.33 610.42h1.6M89.72 582.18h1.6M86.41 586.51h1.6M94.03 584.29h1.6M77.62 596.23h1.6M66.31 572.57h1.6M93.37 589.58h1.6M89.2 579.42h1.6M80.15 602.62h1.6M76.41 586.76h1.6M86.71 579.55h1.6M89.58 600.14h1.6M88.56 566.86h1.6M93.81 592.75h1.6M85.24 598.98h1.6M67.09 568.05h1.6M73.29 579.35h1.6M86.52 609.45h1.6M90.89 609.39h1.6M81.82 609.99h1.6M86.96 584.82h1.6M92.71 576.77h1.6M79.15 577.62h1.6M82.36 605.22h1.6M89.92 574.5h1.6M88.33 607.45h1.6M92.97 577.45h1.6M80.38 602.18h1.6M83.97 596.62h1.6M81.63 563.98h1.6M77.13 579.49h1.6M88.71 588.03h1.6M93.07 599.67h1.6M92.04 607.21h1.6M86.97 582.32h1.6M86.16 576.69h1.6M92.11 575.64h1.6M80.17 586.08h1.6M92.11 581.27h1.6M80.38 576.82h1.6M86.76 595.12h1.6M86.75 585.4h1.6M92.07 588.52h1.6M85.04 596.59h1.6M85.47 583.42h1.6M64.94 575.19h1.6M78.35 574.08h1.6M73.35 578.79h1.6M92.35 610.69h1.6M80.02 566.09h1.6M83.65 573.48h1.6M92.49 598.26h1.6M74.78 588.97h1.6M85.12 563.57h1.6M79.57 606.92h1.6M78.6 566.15h1.6M91.61 612.24h1.6M86.18 588.34h1.6M71.83 573.24h1.6M84.28 579.9h1.6M72.77 569.38h1.6M80.97 609.76h1.6M93.47 582.92h1.6M85.4 611.36h1.6M80.45 578.91h1.6M94.29 610.96h1.6M94.01 610.02h1.6M89.7 610.61h1.6M79.71 586.78h1.6M82.67 594.8h1.6M88.47 611.7h1.6M90.38 597.17h1.6M82.79 563.64h1.6M87.08 582.01h1.6M94.25 588.33h1.6M85.14 604.18h1.6M92.03 603.37h1.6M79.94 564.49h1.6M81.02 585h1.6M76.8 595.83h1.6M85.05 569.48h1.6M88.43 578.91h1.6M83.35 579.57h1.6M93.74 608.24h1.6M86.75 601.46h1.6M77.95 569.78h1.6M83.88 605.23h1.6M85.79 609.01h1.6M81.02 565.87h1.6M89.44 602.85h1.6M82.02 594.38h1.6M82.26 603.49h1.6M92.07 573.66h1.6M74.22 583.64h1.6M92.07 587.1h1.6M94.05 585.2h1.6M90.62 596.15h1.6M83.86 578.02h1.6M90.82 589.26h1.6M88.63 582.16h1.6M67.06 582.17h1.6M84.34 573.42h1.6M93.03 602.16h1.6M92.2 601h1.6M91.3 603.07h1.6M82.35 597.88h1.6M84.75 582.31h1.6M84.89 567.47h1.6M84.84 596.31h1.6M83.19 613.04h1.6M80.78 591.19h1.6M79.24 593.37h1.6M85 570.45h1.6M82.82 587.67h1.6M90.19 588.33h1.6M81.72 610.19h1.6M89.47 600.64h1.6M87.88 587.71h1.6M79.12 570.74h1.6M85.53 569.47h1.6M85.75 571.86h1.6M92.33 575.2h1.6M93.86 600.26h1.6M88.27 578.31h1.6M75.73 576.76h1.6M92.37 594.47h1.6M67.74 583.57h1.6M80.64 603.71h1.6M93.91 586.95h1.6M93.96 582.51h1.6M75.05 565.45h1.6M79.48 590.11h1.6M75.97 591.73h1.6M90.02 599.45h1.6M80.6 602.53h1.6M84.29 612.77h1.6M78.78 565.4h1.6M84.37 577h1.6M77.59 582.16h1.6M91.67 595.19h1.6M87.41 569.88h1.6M92.78 606.16h1.6M82.15 595.93h1.6M91.34 601.23h1.6M77.63 588.46h1.6M83.19 598.23h1.6M81.02 609.41h1.6M78.11 579.48h1.6M87.33 600.76h1.6M88.49 573.63h1.6M75 590.34h1.6M74.57 572.4h1.6M92.73 583.64h1.6M75.97 596.36h1.6M85.57 571.12h1.6M90.02 598.41h1.6M78.05 594.9h1.6M85.38 608.43h1.6M75.87 600.6h1.6M83.57 595.52h1.6M81.9 609.93h1.6M86.61 565.23h1.6M81.4 610.37h1.6M84.04 571.84h1.6" stroke="#ff0000" stroke-width="1.6" fill="none"/>
<path d="M123.9 598.94h1.6M114.05 601.56h1.6M114.46 602.98h1.6M123.96 598.72h1.6M110.5 607.29h1.6M109.58 613.17h1.6M110.76 572.5h1.6M117.34 569.11h1.6M128.27 584.8h1.6M122.83 576.58h1.6M127.27 566.71h1.6M122.14 573.37h1.6M115.08 591.58h1.6M116.94 572.86h1.6M114.32 567.54h1.6M112.95 593.21h1.6M118.2 580h1.6M113.24 579.4h1.6M115.75 594.72h1.6M116.09 586.18h1.6M117.68 574.65h1.6M117.81 565.23h1.6M124.31 600.71h1.6M114.98 567.41h1.6M112.43 598.04h1.6M108.67 611.16h1.6M109.33 591.82h1.6M114.37 598.76h1.6M119.56 599.7h1.6M114.65 596.15h1.6M107.91 606.56h1.6M109.99 605.49h1.6M119.44 588.41h1.6M111.6 594.54h1.6M114.27 596.91h1.6M120.04 601.26h1.6M117.46 592.02h1.6M119.89 576.46h1.6M116.72 606.35h1.6M129.65 583.87h1.6M108.14 592.46h1.6M113.06 592.89h1.6M108.37 611.28h1.6M126.72 592.72h1.6M128.27 584.93h1.6M113.2 584.68h1.6M125.11 569.38h1.6M113.63 594.65h1.6M117.07 591.4h1.6M114.48 595.74h1.6M117.23 591.37h1.6M112.14 604.34h1.6M108.79 612.76h1.6M108.21 606.01h1.6M119.91 584.67h1.6M111.8 597.34h1.6M118.04 600.02h1.6M130.4 574.87h1.6M112.63 570.72h1.6M121.38 590.92h1.6M115.65 609.52h1.6M119.08 578.63h1.6M127.45 573.67h1.6M121.4 573.19h1.6M117.71 568.34h1.6M109.23 597.32h1.6M129.98 576.56h1.6M126.22 575.87h1.6M123.36 587.99h1.6M109.32 600.02h1.6M117.35 579.03h1.6M110.21 614.32h1.6M124.27 581.88h1.6M114.15 591.92h1.6M121.03 599.21h1.6M117.73 607.66h1.6M118.11 571.43h1.6M112.79 586.81h1.6M115.62 591.58h1.6M113.88 596.91h1.6M110.07 612.92h1.6M119.76 600.11h1.6M124.31 582.52h1.6M110.58 579.28h1.6M123.36 577.13h1.6M109.78 577.45h1.6M125.07 589.76h1.6M115.19 594.18h1.6M107.92 592.21h1.6M118.49 583.24h1.6M107.82 587.96h1.6M122.39 571.83h1.6M114.19 573.42h1.6M126.61 584.37h1.6M117.74 591.97h1.6M128.98 587.8h1.6M128.72 584.43h1.6M113.53 578.97h1.6M111.12 585.06h1.6M118.27 567.26h1.6M131.2 576.65h1.6M111.87 596.62h1.6M110.2 592.11h1.6M116.26 600.59h1.6M123.04 597.08h1.6M110.89 578.49h1.6M111.8 582.85h1.6M109.54 583.57h1.6M123.07 592.05h1.6M110.96 612.98h1.6M117.63 607.81h1.6M111.74 610.06h1.6M115.68 596.16h1.6M112.42 601.01h1.6M125.51 580.78h1.6M116.96 606.48h1.6M110.05 582.8h1.6M129.77 576.96h1.6M123.54 595.99h1.6M109.1 588.58h1.6M116.07 584.07h1.6M115.96 570h1.6M121.42 595.35h1.6M117.16 580.96h1.6M113.91 573.45h1.6M127.26 572.47h1.6M114.72 582.32h1.6M110.23 609.63h1.6M108.16 593.57h1.6M125.53 573.39h1.6M127.37 595.89h1.6M127.73 583.34h1.6M122.24 593.43h1.6M124.44 573.75h1.6M125.34 589.36h1.6M131.33 583.99h1.6M110.42 603.02h1.6M113.78 581.23h1.6M110.38 589.01h1.6M113 594.56h1.6M121.91 600.54h1.6M123.93 583.1h1.6M111.26 604.26h1.6M116.66 583.09h1.6M123.74 570.9h1.6M114.45 564.32h1.6M112.55 602.98h1.6M112.94 591.62h1.6M107.82 589.34h1.6M113.45 577.36h1.6M112.89 602.49h1.6M108.01 580.85h1.6M130.53 589.2h1.6M109.78 613.23h1.6M110.39 577.85h1.6M111.08 589.5h1.6M108.51 601.75h1.6M127.66 582.13h1.6M113.94 574.03h1.6M129.11 569.88h1.6M108.93 601.81h1.6M112.25 580.62h1.6M125.38 594.78h1.6M125.33 588.02h1.6M111.11 593.45h1.6M115 609.26h1.6M117.38 562.99h1.6M109.51 589.16h1.6M123.67 578.07h1.6M109.71 609.29h1.6M109.54 581.53h1.6M127.43 594.62h1.6M112.1 580.3h1.6M114.23 565.49h1.6M112.29 613.45h1.6M125.67 584.35h1.6M113.23 573h1.6M113.65 599.42h1.6M120.36 592.79h1.6M128.27 578.5h1.6M109.41 581.31h1.6M115.21 588.63h1.6M109.95 598.78h1.6M117.25 579.19h1.6M116.54 607.82h1.6M109.05 594.03h1.6M125.69 583.92h1.6M126.79 584.44h1.6M127.74 595.53h1.6M111.8 611.36h1.6M108.45 609.49h1.6M123.88 570.21h1.6M113.25 594.52h1.6M110.06 587.97h1.6M116.7 598.08h1.6M128.87 571.65h1.6M132.26 586.97h1.6M116.76 606.73h1.6M115.95 583.62h1.6M117.92 577.45h1.6M118.11 568.26h1.6M108.83 589.38h1.6M110.29 597.66h1.6M123.39 597.33h1.6M115.01 580.94h1.6M123.6 571.02h1.6M109.77 612.54h1.6M114.63 608.5h1.6M130.11 571.86h1.6M112.12 595.92h1.6M119.55 603.85h1.6M110.45 610.58h1.6M114.47 588.26h1.6M113.33 593.51h1.6M119.59 566.67h1.6M108.42 591.6h1.6M112.11 571.46h1.6M123.67 600.27h1.6M128.21 582.88h1.6M117.1 582.5h1.6M113.14 583.88h1.6M120.01 600.42h1.6M109.23 591.25h1.6M119.02 592.58h1.6M121.66 601.12h1.6M113.45 573.38h1.6M113.24 582.3h1.6M111.92 588.77h1.6M113.7 589.35h1.6M120.69 582.6h1.6M116.86 586.53h1.6M117.71 562.81h1.6M118.05 598.6h1.6M110.94 610.17h1.6M112.4 585.95h1.6M123.01 584.37h1.6M113.81 575.41h1.6M116.1 563.87h1.6M108.37 582.23h1.6M109.76 577.19h1.6M122.06 595.51h1.6M113.49 603.21h1.6M114.48 576.41h1.6M113.55 579.51h1.6M112.04 580.69h1.6M115.05 599.46h1.6M127.61 569.86h1.6M122.19 601.15h1.6M121.97 570.98h1.6M116.86 595.29h1.6M115.9 584.3h1.6M124.41 585.77h1.6M116.25 579.06h1.6M116.4 592.3h1.6M114.05 573.02h1.6M114.47 609.52h1.6M125.11 579.01h1.6M108.9 588.99h1.6M111.47 605.99h1.6M127.9 595.67h1.6M115.42 594.45h1.6M111.32 601.97h1.6M108.18 580.3h1.6M119.28 581.15h1.6M114.42 578.47h1.6M114.29 576.27h1.6M110.48 603.93h1.6M109.08 581.38h1.6M113.35 611.38h1.6M108.96 612.69h1.6M128.04 587.88h1.6M108.74 581.47h1.6M120.12 580.47h1.6M126.14 588.69h1.6M126.24 572h1.6M120.34 596.55h1.6M114.74 577.3h1.6M120.84 603.41h1.6M115.21 603.68h1.6M118.1 597.21h1.6M118.86 587.14h1.6M113.4 605.03h1.6M122.22 564.33h1.6M127.85 595.73h1.6M115.26 572.67h1.6M118.79 570.63h1.6M118.34 579.03h1.6M107.95 594.11h1.6M129.33 581.35h1.6M111.5 578.53h1.6M121.65 582.29h1.6M113.5 589.04h1.6M112.4 607.95h1.6M113.74 579.24h1.6M119.21 564.1h1.6M108.15 588.95h1.6M110.48 598.77h1.6M131.34 571.36h1.6M131.99 573.25h1.6M117.32 607.55h1.6M111.71 577.26h1.6M116.56 604.57h1.6M117.87 587.99h1.6M124.08 565.04h1.6M126.69 574.09h1.6M110.25 595.56h1.6M112.81 603.87h1.6M122 581.75h1.6M112.3 567.81h1.6M129.46 574.58h1.6M111.57 584.7h1.6M120.28 572.13h1.6M127.67 588.18h1.6M111.57 588.05h1.6M117.14 608.06h1.6M118.15 567.39h1.6M129.51 585.73h1.6M122.91 578.52h1.6M117.59 577.34h1.6M131.9 581.77h1.6M111.25 591.22h1.6M116.67 608.28h1.6M114.75 603.4h1.6M112.46 610.54h1.6M111.2 609.31h1.6M112.15 592.33h1.6M127.21 574.23h1.6M125.29 569.02h1.6M117.41 571.36h1.6M126.59 596.41h1.6M119.68 582.71h1.6M107.83 593.11h1.6M129.05 587.37h1.6M115.27 604.78h1.6M124.5 578.5h1.6M111.06 602.8h1.6M131.4 583.6h1.6M127.4 581.94h1.6M112.03 582.76h1.6M116.02 598.35h1.6M108.2 586.36h1.6M127.22 594.77h1.6M116.39 579.8h1.6M108.34 597.62h1.6M117.96 563.18h1.6M116.21 567.24h1.6M110.93 586.83h1.6M128.79 584.65h1.6M121.11 565.38h1.6M113.07 603.27h1.6M126.26 579.65h1.6M112.54 578.29h1.6M116.31 607.31h1.6M112.98 613.52h1.6M110.26 598.72h1.6M113.13 590.53h1.6M120.79 576.66h1.6M119.25 566.43h1.6M109.15 596.63h1.6M113.57 607.95h1.6M113.22 592.34h1.6M126.49 568.36h1.6M108.56 580.98h1.6M118.47 566.74h1.6M110.84 605.8h1.6M113.94 607.65h1.6M109.2 604.75h1.6M124.65 573.84h1.6M125.47 570.79h1.6M110.6 597.97h1.6M132.87 577.95h1.6M112.2 608.51h1.6M112.8 593.68h1.6M111.24 598.27h1.6M111 585.35h1.6M117.36 585.69h1.6M121.68 579.79h1.6M111.17 585.08h1.6M114.74 586.39h1.6M109.46 610.77h1.6M113.7 576.37h1.6M111.21 573.82h1.6M114.43 596.34h1.6M108.22 591h1.6M122.07 585.75h1.6M107.8 602.07h1.6M120.27 569.48h1.6M112.18 600.09h1.6M127.78 567.8h1.6M112.22 594.53h1.6M125.54 568.51h1.6M129.35 570.59h1.6M118.01 601.56h1.6M111.06 594.9h1.6M128.32 592.97h1.6M110.04 601.01h1.6M127.05 579.47h1.6M107.94 596.32h1.6M113.43 586.96h1.6M116.31 580.58h1.6M116.69 571.77h1.6M118.2 587.04h1.6M120.74 574.4h1.6M119.94 590.65h1.6M123.22 599.36h1.6M115.62 603.66h1.6M114.52 573.42h1.6M109.35 604.95h1.6M119.52 568.01h1.6M115.51 587.07h1.6M111.88 584.45h1.6M108.97 590.62h1.6M119.27 594.6h1.6M132.24 575.22h1.6M113.95 579.82h1.6M115.05 586.9h1.6M113.67 613.25h1.6M112.99 571.49h1.6M112.48 581h1.6M108.65 595.02h1.6M114.55 581.07h1.6M124.59 584.5h1.6M113.1 570.18h1.6M119.08 572.6h1.6M109.89 591.69h1.6M133.14 579.4h1.6M123.91 599.31h1.6M125.42 570.74h1.6M111.9 578.7h1.6M118 566.07h1.6M124.86 592.13h1.6M116.5 578.24h1.6M118.22 566.31h1.6M112.18 581.36h1.6M131.27 573.57h1.6M115.78 606.08h1.6M114.29 567.84h1.6M115.46 584.23h1.6M109.1 598.6h1.6M115.61 587.82h1.6M119.81 586.57h1.6M120.5 590.22h1.6M124.41 591.82h1.6M112.26 583.77h1.6M112.33 589.6h1.6M122.95 578.88h1.6M118.55 591.35h1.6M108.8 611.28h1.6M112 602.65h1.6M117.55 569.59h1.6M113.28 590.38h1.6M109.05 595.54h1.6M116.7 603.86h1.6M112.85 578.84h1.6M113.97 574.53h1.6M108.01 606.75h1.6M121.13 593.77h1.6M118.43 564.46h1.6M110.65 579.62h1.6M124.78 565.63h1.6M116.88 593.75h1.6M119.88 589.1h1.6M116.23 569.75h1.6M110.21 586.75h1.6M123.13 599.12h1.6M125.76 569.22h1.6M112.16 582.79h1.6M115.18 575h1.6M113.39 593.46h1.6M125.84 575.31h1.6M108.84 583.85h1.6M116.21 572.26h1.6M112.23 613.09h1.6M126.03 596.53h1.6M118.8 570.43h1.6M108.53 597.79h1.6M128.81 586.7h1.6M114.35 589.09h1.6M120.3 584.82h1.6M109.11 590h1.6M115.91 569.9h1.6M111.5 597.72h1.6M125.56 574.39h1.6M116.78 569.8h1.6M110.71 603.07h1.6M131.06 585.41h1.6M125.43 578.98h1.6M111.01 597.66h1.6M119.68 569.92h1.6M120.17 598.42h1.6M116.6 583.76h1.6M116.9 588.89h1.6M119.48 578.47h1.6M116.12 571.65h1.6M110.67 613.14h1.6M117.64 601.13h1.6M112.39 608.52h1.6M112.3 586.64h1.6M116.16 569.01h1.6M127.33 582.64h1.6M116.66 589.58h1.6M121.48 565.86h1.6M112.59 604.3h1.6M111.76 572.47h1.6M111.72 611.9h1.6M110.76 587.36h1.6M112.44 603.66h1.6M124.23 573.49h1.6M108.62 585.21h1.6M112.42 610.91h1.6M119.03 564.68h1.6M112.76 593.42h1.6M115.58 568.29h1.6M121.31 601.33h1.6M124.04 592.67h1.6M117.18 576.14h1.6M110.49 607.54h1.6M121.47 577.33h1.6M109.47 612.57h1.6M115.13 598.53h1.6M126.82 593.84h1.6M111.17 588.28h1.6M108.48 599.37h1.6M127.21 566.82h1.6M113.38 579.94h1.6M131.2 589.67h1.6M124.77 576.56h1.6M112.81 581.43h1.6M119.59 591.98h1.6M112.22 577.11h1.6M127.29 577.11h1.6M127.75 567.61h1.6M110.11 610.88h1.6M131.25 588.88h1.6M111.34 584.9h1.6M118.25 597.32h1.6M113.32 595.32h1.6M111.31 595.11h1.6M110.03 599.37h1.6M121.76 567.74h1.6M109.44 595.81h1.6M124.57 570.52h1.6M124.35 593.42h1.6M113.46 611.61h1.6M124.42 579.65h1.6M113.85 575.49h1.6M127.14 573.09h1.6M112.78 565.59h1.6M107.84 608.88h1.6M109.05 578.14h1.6M109.91 603.03h1.6M111.2 613h1.6M117.1 602.01h1.6M108.53 595.94h1.6M126.54 587.79h1.6M128.64 578.23h1.6M109.57 585.48h1.6M108.24 606.79h1.6M112.4 609.92h1.6M108.21 606.12h1.6M110.92 578.28h1.6M116.73 579.79h1.6M120.27 593.36h1.6M126.79 573.34h1.6M123.07 589.7h1.6M115.58 584.86h1.6M108.77 594.28h1.6M111.57 603.14h1.6M115.24 602.31h1.6M109.64 583.66h1.6M111.36 595.03h1.6M114.2 571.8h1.6M111.62 607.83h1.6M110.68 611.19h1.6M108.61 600.58h1.6M110.61 603.88h1.6M125.99 588.39h1.6M113.25 568.56h1.6M113.1 609.84h1.6M109.27 613.97h1.6M116.28 567.47h1.6M124.96 584.78h1.6M114.87 565.91h1.6M109.28 594.95h1.6M124.4 565.14h1.6M115.49 583.22h1.6M126.7 595.63h1.6M125.56 595.84h1.6M108.01 602.5h1.6M109.13 606.82h1.6M110.48 600.06h1.6M111.96 578.09h1.6M110.1 578.23h1.6M114.98 610.12h1.6M120.23 584.85h1.6M110.44 596.95h1.6M128.31 579.6h1.6M109.73 577.75h1.6M122.14 581.69h1.6M126.36 583.39h1.6M121.9 572.89h1.6M123.52 585.32h1.6M125.66 598.47h1.6M117 597.99h1.6M110.62 574.72h1.6M119.62 566.06h1.6M113.45 572.29h1.6M121.8 578.94h1.6M122.53 572.74h1.6M121.63 591.65h1.6M110.33 602.81h1.6M114.97 586.9h1.6M114.58 590.58h1.6M132.09 583.7h1.6M124.57 568.76h1.6M130.61 573.85h1.6M108.02 603.21h1.6M129.36 584.89h1.6M111.81 580.31h1.6M124.48 589.81h1.6M110.55 583.69h1.6M115.93 601.77h1.6M108.73 602.72h1.6M107.94 595.24h1.6M124.48 587.37h1.6M131.76 585.98h1.6M123.29 565.16h1.6M118.36 580.38h1.6M125.6 572.86h1.6M130.33 591.12h1.6M113.79 600.28h1.6M117.68 594.2h1.6M111.35 575.43h1.6M119.87 599.38h1.6M126.98 572.78h1.6M113.48 596.16h1.6M108.89 605.12h1.6M113.36 573.06h1.6M111.35 585.51h1.6M115.2 567.56h1.6M110.97 577.57h1.6M127.53 591.85h1.6M125.81 574.75h1.6M119.62 581.58h1.6M108.51 594.35h1.6M122.19 599.08h1.6M114.34 590.74h1.6M121.48 572.25h1.6M120.7 596.2h1.6M129.39 579.3h1.6M113 576.72h1.6M114.05 568.16h1.6M108.73 604.36h1.6M121.79 571.46h1.6M115.34 610.37h1.6M115.04 563.75h1.6M122.73 583.53h1.6M127.7 574.26h1.6M118.27 588.31h1.6M124.21 580.54h1.6M113.58 608.94h1.6M121.44 569.21h1.6M109.93 604.55h1.6M108.17 614.3h1.6M126.88 580.09h1.6M115.92 574.8h1.6M108.48 601.01h1.6M111.78 595.79h1.6M125.79 591.58h1.6M113.69 593.84h1.6M108.45 605.92h1.6M110.28 607.72h1.6M108.39 600.49h1.6M112.67 601.57h1.6M117.96 606.17h1.6M123.11 574.06h1.6M117.41 599.07h1.6M112.06 585.88h1.6M110.87 583.31h1.6M117.15 595.62h1.6M112.31 569.58h1.6M120.95 583.95h1.6M121.94 587.08h1.6M121.49 574.63h1.6M124.65 593.11h1.6M130.08 582.34h1.6M109.64 596.41h1.6M119.38 575.23h1.6M114.57 596.59h1.6" stroke="#ff0000" stroke-width="1.6" fill="none"/>
<path d="M60.5 557.3h1.6M68.9 556.9h1.6M71.3 558.6h1.6M74.1 557.3h1.6M76.4 557.3h1.6M81.1 557.8h1.6M61.4 562h1.6M59.5 563.9h1.6M65.6 563.4h1.6M68.4 563.9h1.6M77.3 561.6h1.6M84.8 560.6h1.6M82 562h1.6M87.2 563h1.6M63.3 569.1h1.6M61.4 573.7h1.6M63.3 577.5h1.6M61.9 582.2h1.6M60.9 585.4h1.6M66.6 586.9h1.6M65.6 590.1h1.6M68.4 592.5h1.6M71.3 594.8h1.6M81.1 608.4h1.6M82 612.1h1.6M124.4 557.6h1.6M130.6 559.2h1.6M136.3 559.9h1.6M114.7 561.7h1.6M120.3 561.7h1.6M128.3 562.5h1.6M134.9 563.4h1.6M132.5 567.2h1.6M134.9 573.7h1.6M134.4 585.9h1.6M132.5 588.7h1.6M127.8 599.5h1.6M125.5 600.4h1.6M123.6 606.1h1.6" stroke="#ff0000" stroke-width="1.6" fill="none"/>
<rect x="57.2" y="554.2" width="83.5" height="68" fill="none" stroke="#111" stroke-width="1.15"/>
<path d="M54.4 619.9L57.2 619.9" stroke="#000" stroke-width="0.9"/>
<text x="53" y="622.2" font-size="6.6" fill="#333" color="#333" text-anchor="end">0</text>
<path d="M54.4 602L57.2 602" stroke="#000" stroke-width="0.9"/>
<text x="53" y="604.3" font-size="6.6" fill="#333" color="#333" text-anchor="end">5</text>
<path d="M54.4 584.1L57.2 584.1" stroke="#000" stroke-width="0.9"/>
<text x="53" y="586.4" font-size="6.6" fill="#333" color="#333" text-anchor="end">10</text>
<path d="M54.4 566.2L57.2 566.2" stroke="#000" stroke-width="0.9"/>
<text x="53" y="568.5" font-size="6.6" fill="#333" color="#333" text-anchor="end">15</text>
<path d="M62.9 622.2L62.9 625.2" stroke="#000" stroke-width="0.9"/>
<text x="62.9" y="634.2" font-size="6.6" fill="#333" color="#333" text-anchor="middle">-6</text>
<path d="M76 622.2L76 625.2" stroke="#000" stroke-width="0.9"/>
<text x="76" y="634.2" font-size="6.6" fill="#333" color="#333" text-anchor="middle">-4</text>
<path d="M89.1 622.2L89.1 625.2" stroke="#000" stroke-width="0.9"/>
<text x="89.1" y="634.2" font-size="6.6" fill="#333" color="#333" text-anchor="middle">-2</text>
<path d="M102.2 622.2L102.2 625.2" stroke="#000" stroke-width="0.9"/>
<text x="102.2" y="634.2" font-size="6.6" fill="#333" color="#333" text-anchor="middle">0</text>
<path d="M115.3 622.2L115.3 625.2" stroke="#000" stroke-width="0.9"/>
<text x="115.3" y="634.2" font-size="6.6" fill="#333" color="#333" text-anchor="middle">2</text>
<path d="M128.4 622.2L128.4 625.2" stroke="#000" stroke-width="0.9"/>
<text x="128.4" y="634.2" font-size="6.6" fill="#333" color="#333" text-anchor="middle">4</text>
<text x="98.8" y="550.2" font-size="6.6" fill="#222" color="#222" style="stroke-width:0.14px" text-anchor="middle" textLength="73.9" lengthAdjust="spacingAndGlyphs"><tspan>CD19</tspan><tspan font-size="4.0" dy="-2.7">+</tspan><tspan dy="2.7"> ASC vs CD19</tspan><tspan font-size="4.0" dy="-2.7">+</tspan><tspan dy="2.7">/CD20</tspan><tspan font-size="4.0" dy="-2.7">-</tspan></text>
<text x="98.75" y="645.8" font-size="8.6" fill="#222" color="#222" text-anchor="middle" textLength="65" lengthAdjust="spacingAndGlyphs" style="stroke-width:0.3px">log2 (fold change)</text>
<text x="39.7" y="588.8" font-size="5.4" fill="#222" color="#222" text-anchor="middle" textLength="44" lengthAdjust="spacingAndGlyphs" transform="rotate(-90 39.7 588.8)" style="stroke-width:0.12px">-log10 (adj.P.Val)</text>
<path d="M224.55 613.73h1M227.26 617.08h1M233.03 617.54h1M228.21 614.66h1M216.17 615.6h1M238.03 614.9h1M222.77 613.96h1M225.42 616.02h1M229.75 617.17h1M227.48 618.46h1M236.7 615.37h1M228.75 618.3h1M237.38 617.74h1M223.5 616.97h1M216.03 619.24h1M229.28 614.48h1M234.16 613.29h1M218.69 613.49h1M211.08 620.03h1M222.21 617.71h1M237.89 616.36h1M219.35 615.73h1M232.68 614.32h1M216.09 619.2h1M209.03 614.76h1M229.09 614.57h1M220.64 612.72h1M210.3 615.19h1M227.98 619.67h1M222.09 614.16h1M223.42 615.95h1M214.65 615.83h1M231.78 617.04h1M213.27 615.91h1M237.53 617.49h1M227.38 613.07h1M228.77 618.54h1M220.91 619.26h1M230.56 619.05h1M214.66 619.55h1M237.66 617.1h1M208.29 615.67h1M221.6 612.91h1M214.58 617.04h1M218.1 615.72h1M236.99 615.48h1M227.73 616.92h1M235.1 620.23h1M215.22 616.32h1M230.1 615.45h1M226.36 617.75h1M234.96 618.64h1M223.72 619.64h1M217.96 619.39h1M211.12 619.41h1M234.01 616.34h1M225.95 616.93h1M219.66 619.01h1M231.41 620.43h1M232.06 613.36h1M238.19 615.25h1M223.64 619.63h1M221.27 618.49h1M219.68 619.32h1M215.57 613.94h1M225.24 619.38h1M216.1 614.63h1M234.82 618.04h1M221.25 615.11h1" stroke="#bdbdbd" stroke-width="1" fill="none"/>
<path d="M217.5 583.9L219.1 583.9L220.3 593.2L222.2 604.8L223.4 614.1L223.8 615.5L217.5 615.5Z" fill="#bdbdbd"/>
<path d="M230 585.5L228.4 585.5L227.6 593.2L225.7 604.8L224.2 614.1L223.8 615.5L230 615.5Z" fill="#bdbdbd"/>
<path d="M211.5 617L213.5 614.7L233 614.7L235 617L233.5 619.8L213 619.8Z" fill="#bdbdbd"/>
<path d="M214.06 573L217.5 581.6L217.5 614.7L211.35 614.7L207.41 601.8L205.94 592.5L206.68 583L208.89 576L212.17 573Z" fill="#ff0000"/>
<path d="M231.12 580L230 583.2L230 614.7L234.92 614.7L237.3 601.8L239.59 592.5L239.59 585L236.56 580.5L233.28 579Z" fill="#ff0000"/>
<path d="M208.19 604.65h1.5M211.64 583.13h1.5M208.93 600.61h1.5M214.96 599.18h1.5M208.75 578.57h1.5M207.12 603.16h1.5M216.11 592.26h1.5M209.62 593.75h1.5M205.27 590.41h1.5M213.01 573.54h1.5M214.33 587.47h1.5M213.36 588.68h1.5M212.97 613.23h1.5M209.77 594.68h1.5M215.84 599.68h1.5M214.48 581.11h1.5M212.35 572.36h1.5M206.36 593.3h1.5M214.88 609.84h1.5M207.4 604.38h1.5M211.96 613.07h1.5M207.78 585.08h1.5M213.15 574.46h1.5M207.64 591.06h1.5M212.39 594.84h1.5M208.48 606.43h1.5M211.1 602.04h1.5M211.5 577.96h1.5M210.98 574h1.5M212.67 573.42h1.5M212.61 604.39h1.5M213.08 581.59h1.5M211.21 576.73h1.5M212.44 600.76h1.5M210.12 575.03h1.5M210.63 592.02h1.5M205.65 595.88h1.5M214.51 603.89h1.5M212.21 596.77h1.5M216.08 585.73h1.5M206.67 582.75h1.5M209.77 613.93h1.5M210.34 614.24h1.5M209.1 608.31h1.5M211.38 589.14h1.5M212.66 611.29h1.5M208.19 582.02h1.5M208.28 599.68h1.5M214.3 592.71h1.5M210.68 595.57h1.5M213.39 597.99h1.5M206.4 601.62h1.5M208.96 577.21h1.5M215.27 584.28h1.5M209.28 579.1h1.5M212.75 592.08h1.5M214.73 583.85h1.5M216 584.99h1.5M212.3 587.59h1.5M208.97 574.08h1.5M206.55 587.34h1.5M215.52 611.57h1.5M213.71 574.03h1.5M209.45 599.56h1.5M213.46 604.76h1.5M215.43 599.07h1.5M212.83 572.39h1.5M209.21 585.98h1.5M212.42 610.38h1.5M210.13 594.93h1.5M214.66 604.83h1.5M207.67 598.48h1.5M209.24 586.76h1.5M213.74 614.48h1.5M212.68 597.9h1.5M206.65 592.74h1.5M212.8 590.07h1.5M215.47 594.65h1.5M212.95 592.59h1.5M211.84 574.74h1.5M211.64 580.08h1.5M213.11 610.64h1.5M216.5 605.39h1.5M209.58 596.37h1.5M211.52 598.97h1.5M215.25 581.94h1.5M209.99 594.24h1.5M213.31 603.86h1.5M212.78 599.26h1.5M212.35 596.24h1.5M207.53 589.04h1.5M215.21 609.07h1.5M209.55 578.19h1.5M205.54 590.91h1.5M210.79 590.82h1.5M212.62 598.21h1.5M207.25 600.37h1.5M215.26 595.98h1.5M208.79 592.48h1.5M216.1 601.01h1.5M213.86 580.19h1.5M215.69 609.82h1.5M214.15 612.68h1.5M209.55 590.19h1.5M210.3 586.9h1.5M209.92 593.43h1.5M213.65 596.55h1.5M214.03 575.97h1.5M212.31 574.22h1.5M213.74 601.97h1.5M215.2 609.28h1.5M213.27 611.2h1.5M206.59 581.36h1.5M211.01 593.29h1.5M215.63 605.46h1.5M208.38 585.56h1.5M214.32 579.63h1.5M206.46 603.11h1.5M210.33 594.4h1.5M207.84 591.36h1.5M209.62 610.1h1.5M207.61 590.46h1.5M205.73 598.79h1.5M212.16 584.53h1.5M209.96 596.41h1.5M206.42 590h1.5M211.76 574.15h1.5M207.3 580.94h1.5M209.95 585.1h1.5M212.4 608.62h1.5M214.49 590.53h1.5M212.49 603.62h1.5M212.07 597.08h1.5M206.67 583.29h1.5M212.11 588.95h1.5M213.82 588.53h1.5M214.39 612.9h1.5M210.14 608.36h1.5M209.81 596.38h1.5M205.38 590.24h1.5M210.26 598.88h1.5M214.53 602.14h1.5M205.77 591.25h1.5M208.52 607.07h1.5M214.58 587.94h1.5M209.83 589.81h1.5M210.31 601.1h1.5M216.38 590.4h1.5M207.11 593.48h1.5M205.46 586.08h1.5M207.24 582.58h1.5M207.76 601.95h1.5M214.98 609.46h1.5M211.77 582.57h1.5M215.64 594.37h1.5M216.15 600.31h1.5M209.48 581.57h1.5M208.23 595.34h1.5M212.67 602.06h1.5M207.3 580.07h1.5M212.01 579.21h1.5M214.25 601.54h1.5M205.83 597h1.5M206.22 589.86h1.5M213.06 595.87h1.5M210.34 602.01h1.5M210.53 586.57h1.5M209.9 573.19h1.5M213.12 612.28h1.5M211.3 607.86h1.5M208.74 607.32h1.5M205.76 585.76h1.5M209.09 599.24h1.5M216.36 608.91h1.5M215.63 585.27h1.5M213.07 587.29h1.5M206.47 588.73h1.5M209.96 596.18h1.5M214.57 613.68h1.5M216.08 584.29h1.5M212.7 611.31h1.5M206.62 603.21h1.5M212.03 601.21h1.5M211.68 594.72h1.5M212.28 589.68h1.5M211.53 590.13h1.5M212.33 609.36h1.5M214.94 578.4h1.5M211.17 599.18h1.5M215.86 599.78h1.5M206.29 601.35h1.5M209.02 599.1h1.5M212.26 604.02h1.5M208.73 604.92h1.5M210.16 589.82h1.5M214.02 577.34h1.5M207.97 600.05h1.5M209.18 582.78h1.5M215.14 611.56h1.5M211.05 583.62h1.5M209.89 614.1h1.5M214.11 584.86h1.5M214.08 601.67h1.5M213.65 605.02h1.5M213 579.94h1.5M214.51 612.8h1.5M216.07 580.06h1.5M213.88 575.66h1.5M206.06 583.19h1.5M206.79 596.85h1.5M205.39 588.1h1.5M210.89 579.35h1.5M208.39 595.01h1.5M211.68 607.86h1.5M211.12 605.51h1.5M208.5 597.18h1.5M207.86 588.53h1.5M213.78 576.94h1.5M207.46 577.66h1.5M208.26 608.31h1.5M210.95 586.48h1.5M216.24 594.66h1.5M211.14 610.76h1.5M210.18 581.86h1.5M206.68 578.73h1.5M206.56 587.73h1.5M208.75 588.72h1.5M205.73 587.14h1.5M212.24 600.5h1.5M211.3 572.67h1.5M213.99 596.93h1.5M209.98 578.17h1.5M208.17 598.48h1.5M208.82 606.6h1.5M207.75 576.69h1.5M206.76 579.8h1.5M205.91 591.38h1.5M204.83 591.61h1.5M213.87 598.66h1.5M213.69 578.86h1.5M208.05 604.7h1.5M212.92 603.47h1.5M206.22 594.5h1.5M210.41 590.36h1.5M214.54 598.83h1.5M206.25 594.25h1.5M211.98 604.15h1.5M214.65 591.28h1.5M215.42 601.37h1.5M210.61 584.6h1.5M215.46 581.32h1.5M212.74 612.05h1.5M206.28 588.76h1.5M205.64 598.1h1.5M214.24 597.55h1.5M214.29 583.11h1.5M212.29 584.73h1.5M209.77 601.18h1.5M206.84 594.82h1.5M208.72 593.26h1.5M212.83 603.72h1.5M213.89 590.81h1.5M206.84 578.01h1.5M213.98 583.11h1.5M205.45 593.95h1.5M211.93 593.83h1.5M215.12 587.74h1.5M212.85 610.92h1.5M211.37 589.96h1.5M214.9 602.68h1.5M207.12 584.71h1.5M216.23 601.1h1.5M205.1 589.38h1.5M207.37 603.15h1.5M216.06 607.22h1.5M206.31 601.66h1.5M210.07 598.6h1.5M215.76 584.63h1.5M208.06 594.65h1.5M206.45 585.2h1.5" stroke="#ff0000" stroke-width="1.5" fill="none"/>
<path d="M239.02 587.2h1.5M236.39 580.63h1.5M237.2 594.53h1.5M238.5 587.31h1.5M235.77 599.6h1.5M236.46 580.96h1.5M231.16 602.41h1.5M230.39 613.59h1.5M234.72 593.14h1.5M231.06 606.14h1.5M232.41 610.38h1.5M230.05 608.04h1.5M236.36 591.07h1.5M238.45 586.29h1.5M232.64 582.91h1.5M233.91 592.14h1.5M233.57 601.95h1.5M231.29 598.24h1.5M234.78 580.46h1.5M230.17 591.28h1.5M235.19 606.26h1.5M238.42 591.29h1.5M229.48 605.02h1.5M235.34 583.18h1.5M230.2 590.07h1.5M235.82 596.02h1.5M236.25 584.66h1.5M232.92 587.18h1.5M230.41 606.21h1.5M230.5 581.11h1.5M233.95 608.38h1.5M229.9 610.06h1.5M237.27 583.52h1.5M238.67 592.65h1.5M238.49 589h1.5M231.95 581.54h1.5M238.26 588.01h1.5M230.78 609.89h1.5M238.26 587.28h1.5M236.35 591.34h1.5M231.46 593.95h1.5M234.57 585.51h1.5M234.7 611.01h1.5M232.21 592.18h1.5M233.18 601.07h1.5M230.15 584.01h1.5M236.68 601.45h1.5M232.38 596.43h1.5M232.25 590.26h1.5M237.22 595.06h1.5M236.91 588.51h1.5M231.38 613.9h1.5M231.96 607.66h1.5M231.08 584.99h1.5M230.51 605.69h1.5M232.5 604.07h1.5M233.12 601.89h1.5M230.93 593.63h1.5M230.88 593.29h1.5M232.17 603.86h1.5M238.18 596.85h1.5M230.77 602.19h1.5M231.49 579.5h1.5M234.82 599.16h1.5M236.67 593.83h1.5M238.41 584.73h1.5M233.74 599.88h1.5M237.04 600.38h1.5M233.05 581.9h1.5M232.05 578.07h1.5M239.15 590.62h1.5M237.73 593.15h1.5M232.43 581.09h1.5M230.22 581.39h1.5M235.08 599.06h1.5M232.5 611.76h1.5M229.92 608.78h1.5M234.81 611.48h1.5M232.79 595.63h1.5M229.76 598.04h1.5M233.75 604.4h1.5M238.45 586.56h1.5M231.25 610.36h1.5M235.17 587.53h1.5M232.65 606.56h1.5M234.17 595.43h1.5M237.94 595.31h1.5M233.3 601.79h1.5M231.83 583.62h1.5M238.68 592.12h1.5M231.69 605.49h1.5M238.89 593.09h1.5M231.12 599.57h1.5M232.19 593.89h1.5M237.85 594.19h1.5M231.45 595.98h1.5M230.49 609.37h1.5M235.45 596.17h1.5M234.9 609.72h1.5M232.7 592.94h1.5M229.44 607.27h1.5M237.26 599.91h1.5M230.95 603.14h1.5M230.73 613.07h1.5M231.36 608.65h1.5M231.69 591.59h1.5M236.51 586.91h1.5M237.98 591.43h1.5M230.54 610.29h1.5M230.7 591.47h1.5M233.26 609.3h1.5M237 585.91h1.5M230.8 601.89h1.5M237.43 583h1.5M237.62 582.28h1.5M237.39 594.39h1.5M234.53 612.54h1.5M232.8 591.87h1.5M231 580.45h1.5M238.89 586.76h1.5M239.1 588.94h1.5M231.36 587.2h1.5M234.91 595.36h1.5M235.1 610.17h1.5M235.33 593.15h1.5M233.8 588.43h1.5M236.93 581.5h1.5M232.25 580.52h1.5M237.43 598.31h1.5M232.09 605.19h1.5M236.73 583.03h1.5M233.47 611.3h1.5M234.82 590.14h1.5M231.39 579.75h1.5M230.76 606.99h1.5M231.35 590.52h1.5M234.05 609.5h1.5M235.38 598.77h1.5M231.66 585.11h1.5M230.27 603.86h1.5M236.35 603.83h1.5M237.21 592.24h1.5M233.03 606.74h1.5M233.43 609.42h1.5M234.34 594.02h1.5M230.62 590.6h1.5M231.44 596.74h1.5M230.11 590.42h1.5M231.96 599.28h1.5M236.15 599.06h1.5M229.48 613.83h1.5M232.64 587.71h1.5M235.33 581.17h1.5M231.98 583.64h1.5M233.68 605.51h1.5M230.06 585.56h1.5M236.69 592.72h1.5M232.68 591.19h1.5M234.81 592.69h1.5M237.5 586.26h1.5M234.8 596.52h1.5M236.35 584.68h1.5M233.1 585.28h1.5M239.29 590.23h1.5M236.06 589.37h1.5M236.49 593.85h1.5M229.4 605.61h1.5M229.42 591.26h1.5M231.17 597.26h1.5M231.83 594.26h1.5M230.11 581.09h1.5M231.52 602.59h1.5M238.07 590.46h1.5M237.57 589.04h1.5M237.21 588.25h1.5M235.47 587.11h1.5M231.29 589.94h1.5M235.8 602.92h1.5M234.76 606.05h1.5M233.17 582h1.5M234.88 589.16h1.5M234.35 613.76h1.5M234.08 613.78h1.5M232.46 589.55h1.5M236.12 604h1.5M234.47 582.09h1.5M234.47 584.63h1.5M230.36 597.44h1.5M231.42 590.06h1.5M231.19 606.05h1.5M230.81 606.13h1.5M233.66 604.71h1.5M232.44 611.77h1.5M234.88 588.54h1.5M230.81 600.81h1.5M233.4 591.35h1.5M231.39 590h1.5M230.42 587.99h1.5M237.22 588.06h1.5M231.11 612.71h1.5M238.5 593.51h1.5M233.28 595.42h1.5M232.88 589.33h1.5M235.33 599.78h1.5M236.05 581.61h1.5M235.61 596.49h1.5M232.99 582.13h1.5M237.88 582.49h1.5" stroke="#ff0000" stroke-width="1.5" fill="none"/>
<path d="M201.87 598.77h1.6M213.48 579.48h1.6M208.89 598.66h1.6M205.59 603.8h1.6M216.08 584.25h1.6M216.68 604.41h1.6M215.6 598.32h1.6M211.93 596.53h1.6M198.51 595.9h1.6M204.78 580.07h1.6M215.21 582.09h1.6M216.17 608.99h1.6M204.45 599.7h1.6M204.13 584.06h1.6M203.95 578.62h1.6M199.14 575.99h1.6M200.78 591.74h1.6M207.53 569.69h1.6M209.2 610.81h1.6M216.33 586.49h1.6M195.71 580.15h1.6M206.49 582.95h1.6M216.43 585.48h1.6M212.37 580.22h1.6M213.82 608.31h1.6M214.81 608.24h1.6M216.54 607.28h1.6M214.71 606.95h1.6M214.43 587.61h1.6M204.05 577.97h1.6M208.14 571.78h1.6M201.72 579.55h1.6M216.1 610.84h1.6M198.92 571.25h1.6M209.77 597.98h1.6M196.2 598.51h1.6M207.11 586.96h1.6M208.63 578.94h1.6M208.25 585h1.6M209.46 583.63h1.6M213.47 612.89h1.6M207.6 593.86h1.6M206.39 609.58h1.6M199.43 588.43h1.6M201.89 607.43h1.6M211.38 583.88h1.6M210.69 582.82h1.6M207.63 583.22h1.6M212.68 572.53h1.6M214.04 579.75h1.6M210.72 594.64h1.6M216.45 610.27h1.6M207.05 600.88h1.6M202.52 574.54h1.6M201.32 586.43h1.6M210.09 610.05h1.6M209.91 611.06h1.6M215.73 584.44h1.6M208.26 583.34h1.6M196.47 583.17h1.6M201.09 601.71h1.6M209.26 574.21h1.6M202.91 602.25h1.6M216.55 581.95h1.6M207.49 576.31h1.6M209.41 600.68h1.6M216.02 603.54h1.6M209.19 603.86h1.6M194.29 594.03h1.6M205.2 571.63h1.6M200.4 578.9h1.6M200.59 591.67h1.6M214.2 609.28h1.6M199.54 590.51h1.6M206.97 600.9h1.6M207.87 590.74h1.6M209.82 586.45h1.6M213.7 594.43h1.6M215.03 592.76h1.6M202.55 606.56h1.6M204.68 592.64h1.6M204.71 577.9h1.6M201.01 589.67h1.6M213.65 574.3h1.6M213.52 598.5h1.6M212.18 605.84h1.6M211.29 607.06h1.6M214.88 593.77h1.6M201.42 585.48h1.6M211.55 580.25h1.6M196.29 586.35h1.6M204.05 591.61h1.6M202.36 588.53h1.6M208.45 582.79h1.6M211.59 585.52h1.6M203.61 607.86h1.6M215 608.56h1.6M215.67 581.16h1.6M203.37 606.79h1.6M201.76 591.47h1.6M213.67 610.17h1.6M212.22 613.69h1.6M213.62 601.02h1.6M215.65 613.93h1.6M216.44 597.51h1.6M211.53 600.46h1.6M209.02 612.06h1.6M203.36 609.21h1.6M202.46 610.97h1.6M205.3 600.72h1.6M215.23 609.37h1.6M211.1 594.52h1.6M216.67 608.63h1.6M209.23 609.32h1.6M211.05 607.98h1.6M204.47 607.91h1.6M207.81 597.08h1.6M200.28 572.64h1.6M211.89 578.51h1.6M216.17 589.72h1.6M212.91 572.56h1.6M215.54 612.13h1.6M197.83 591.04h1.6M200.36 606.31h1.6M204.02 570.39h1.6M202.78 610.6h1.6M211.11 598.57h1.6M213.18 601.52h1.6M198.09 591.18h1.6M211.97 590.61h1.6M194.46 583.92h1.6M197.13 579.09h1.6M204.39 597.71h1.6M202.82 589.55h1.6M211.43 612.24h1.6M207.03 573.88h1.6M212.57 578.6h1.6M205.35 602.27h1.6M210.95 612.76h1.6M214.35 591.4h1.6M211.79 570.71h1.6M196.24 592.46h1.6M204.95 601.19h1.6M214.6 585.06h1.6M195.74 590.75h1.6M213.86 613.58h1.6M205.78 576.81h1.6M198.96 606.58h1.6M216.08 594.16h1.6M215.58 587.25h1.6M207.14 588.32h1.6M213.87 578.32h1.6M210.07 580.66h1.6M206.47 606.93h1.6M209.8 570.62h1.6M194.94 573.1h1.6M205.72 600.85h1.6M216.06 580.32h1.6M198.04 575.37h1.6M211.58 589.48h1.6M215.4 586.37h1.6M202.2 611.64h1.6M209.63 593.7h1.6M212.46 590.34h1.6M213.56 575.39h1.6M215.77 605.83h1.6M210.61 610.8h1.6M210.06 602.11h1.6M214.83 594.7h1.6M208.77 587.35h1.6M212.07 583.23h1.6M204.78 589.31h1.6M210.53 575.13h1.6M214.5 611.65h1.6M195.46 579.31h1.6M207.06 575.58h1.6M202.37 590.22h1.6M208.07 613.48h1.6M206.12 579.07h1.6M215.82 604.36h1.6M215.42 578.64h1.6M209.69 596.97h1.6M193.91 581.03h1.6M197.35 577.58h1.6M211.54 599.34h1.6M200.57 582.18h1.6M210.59 577.3h1.6M213.57 590.77h1.6M213.42 608.99h1.6M215.66 597.21h1.6M198.94 574.55h1.6M204.45 603.08h1.6M212.53 605.65h1.6M208.11 579.58h1.6M194.47 576.18h1.6M202.71 570.48h1.6M210.38 580.68h1.6M216.11 590.93h1.6M213.32 604.01h1.6M212.24 597.52h1.6M207.52 581.72h1.6M214.21 594.27h1.6M214.34 583.83h1.6M205.94 570.62h1.6M201.64 575.85h1.6M194.26 590.15h1.6M212.38 594.85h1.6M213.55 585.57h1.6M215.04 608.72h1.6M197.71 575.51h1.6M216.59 614.35h1.6M215.98 587.93h1.6M212.07 606.1h1.6M213.49 584.19h1.6M209.14 604.5h1.6M215.48 605.28h1.6M207.5 606.62h1.6M213.65 574.42h1.6M215.49 587.74h1.6M214.59 589.15h1.6M213.57 586.12h1.6M207.73 612.83h1.6M209.74 601.67h1.6M211.57 575.21h1.6M213.14 594.09h1.6M213.19 587.52h1.6M198.57 603.67h1.6M207.28 612.18h1.6M211.08 595.41h1.6M194.81 573.54h1.6M215.25 598.65h1.6M193.05 576.33h1.6M197.06 588.5h1.6M215.65 596.34h1.6M197.74 590.6h1.6M205.57 594.14h1.6M211.44 608.94h1.6M216.44 586.82h1.6M213.96 583.29h1.6M205.78 598.27h1.6M193.81 583.89h1.6M210.13 574.19h1.6M211.7 596.67h1.6M216.3 611.47h1.6M192.17 580.19h1.6M198.28 595.45h1.6M196.31 584.12h1.6M210.78 578.36h1.6M196.5 590.77h1.6M215.8 582.75h1.6M208.66 608.57h1.6M203.66 582.11h1.6M212.45 591.11h1.6M203.96 571.85h1.6M199.28 586.34h1.6M215.45 580.58h1.6M212.75 584.44h1.6M209.54 594.21h1.6M211.98 587.23h1.6M216.14 612.7h1.6M214.42 597.96h1.6M213.06 591.6h1.6M204.59 578.9h1.6M195.4 579.57h1.6M209.06 572.82h1.6M214.45 582.56h1.6M210.32 601.64h1.6M214.76 586.64h1.6M204.77 608.69h1.6M212.59 606.53h1.6M202.68 599.56h1.6M205.55 587.46h1.6M214.37 594.07h1.6M198.55 583.78h1.6M208.26 607.81h1.6M216.11 581.51h1.6M205.26 610.02h1.6M205.86 603.74h1.6M212.52 611.94h1.6M203.78 588.36h1.6M205.27 610.93h1.6M216.58 586.17h1.6M208.82 576.35h1.6M205.51 582.07h1.6M209.49 603.12h1.6M208.87 609.82h1.6M210.48 576.54h1.6M195.53 572.06h1.6M210.14 585.07h1.6M205.88 592.05h1.6M211.06 594.87h1.6M209.18 598.34h1.6M206.99 585.58h1.6M206.27 604.81h1.6M213.02 595.75h1.6M207.96 576.46h1.6M213.74 612.05h1.6M204.44 587.85h1.6M215.58 606.62h1.6M204.22 599.92h1.6M203.11 605.95h1.6M210.75 608.46h1.6M215.96 610.59h1.6M200.47 609.85h1.6M208.3 603.15h1.6M213.51 584.42h1.6M202.58 586.78h1.6M202.6 599.04h1.6M194.98 576.94h1.6M214.16 609.1h1.6M204.98 606.49h1.6M192.47 587.15h1.6M215.73 592h1.6M209.29 614.41h1.6M215.48 607.11h1.6M216.24 605.29h1.6M208.73 572.87h1.6M201.4 580.14h1.6M200.1 588.45h1.6M214.81 603.18h1.6M212.11 588.75h1.6M196.63 596.04h1.6M200.54 579.58h1.6M205.6 575.57h1.6M213.89 604.79h1.6M208.93 592.43h1.6M205.88 569.54h1.6M211.12 610.98h1.6M192.4 584.79h1.6M216.22 609.42h1.6M215.98 597.91h1.6M208.97 586.52h1.6M204.91 588.2h1.6M210.88 576.95h1.6M205.26 596.42h1.6M204.65 587.75h1.6M206.49 583.49h1.6M213.63 595.43h1.6M206.26 582.78h1.6M215.65 611.19h1.6M205.51 598.7h1.6M204.7 589.77h1.6M211.16 572.09h1.6M211.1 594.89h1.6M208 585.92h1.6M208.1 590.86h1.6M209.46 574.77h1.6M201.85 592.44h1.6M215.61 590.47h1.6M207.97 601.69h1.6M206.03 574.63h1.6M199.68 576.57h1.6M213.68 591.97h1.6M212.46 611.26h1.6M194.54 588.94h1.6M213.98 607.46h1.6M211.18 578.32h1.6M206.49 604.1h1.6M204.23 569.54h1.6M210.29 583.1h1.6M215.92 592.56h1.6M215.22 590.58h1.6M201.38 602.64h1.6M210.94 572.03h1.6M204.35 570.5h1.6M207.27 593.82h1.6M207.63 592.97h1.6M216.21 603.49h1.6M201.89 574.35h1.6M213.13 602.68h1.6M205.63 570.44h1.6M205.59 603.31h1.6M199.49 595.21h1.6M206.99 575.77h1.6M214.93 591.84h1.6M212.09 603.68h1.6M201.91 572.3h1.6M199.02 579.94h1.6M206.62 591.09h1.6M213.17 596.85h1.6M210.58 590.73h1.6M213.89 604.74h1.6M210.47 592.62h1.6M210.16 577.7h1.6M209.84 598.9h1.6M216.05 598.37h1.6M200.42 581.83h1.6M211.54 595.52h1.6M208.33 605.57h1.6M203.34 580.07h1.6M205.84 614.41h1.6M207.77 597.47h1.6M215.9 605h1.6M206.02 587.09h1.6M208.27 574.94h1.6M201.59 595.45h1.6M207.18 605.92h1.6M215.34 599.97h1.6M197.23 595.06h1.6M213.25 595.65h1.6M215.33 586.7h1.6M208.32 573.18h1.6M215.82 601.5h1.6M208.54 600.43h1.6M214.39 581.14h1.6M206.21 589.21h1.6M206.52 598.2h1.6M196.04 580.17h1.6M209.99 572.71h1.6M195.72 585.17h1.6M201.74 588.96h1.6M214.32 582.5h1.6M216.57 606.84h1.6M216.11 604.3h1.6M193.61 577.38h1.6M193.26 592.24h1.6M206.58 585.57h1.6M206.79 585.13h1.6M214.23 590.19h1.6M209.77 584.82h1.6M194.97 596h1.6M214.42 585.99h1.6M209.81 611.79h1.6M209.24 580.99h1.6M202.93 600.56h1.6M215.44 583.89h1.6M212.4 611.68h1.6M208.39 594.86h1.6M204.46 607.32h1.6M206.3 601.63h1.6M197.3 600.3h1.6M216.58 610.01h1.6M213.07 578.84h1.6M215.55 579.33h1.6M211.45 576.68h1.6M210.49 610.53h1.6M206.01 580.2h1.6M202.66 590.57h1.6M215.14 595.01h1.6M210.69 611.13h1.6M213.08 601.28h1.6M210.14 597.9h1.6M211.57 577.38h1.6M212.44 611.47h1.6M215.21 584.46h1.6M208.37 601.09h1.6M211.54 584.16h1.6M206.42 574.12h1.6M215.67 593.92h1.6M208.92 573.7h1.6M205.3 610.55h1.6M213.86 614.32h1.6M200.02 574.08h1.6M205.02 600.24h1.6M208.14 603.38h1.6M210.49 579.04h1.6M215.89 588.52h1.6M206.21 588.25h1.6M200.12 574.9h1.6M208.73 576.37h1.6M211.05 611.81h1.6M208.32 609.07h1.6M213.54 576.66h1.6M208.6 600.81h1.6M215.67 591.19h1.6M209.28 603.68h1.6M195.42 582.67h1.6M205.01 587.63h1.6M207.86 585.39h1.6M207.87 584.14h1.6M199.16 590.31h1.6M215.03 590.19h1.6M201.95 600h1.6M215.91 588.66h1.6M216.51 602.41h1.6M195.82 587.4h1.6M203.71 599.82h1.6M203.14 591.24h1.6M216.61 596.65h1.6M210.05 591.58h1.6M215.62 606h1.6M214.86 587.08h1.6M209.74 588.46h1.6M206.24 581.39h1.6M204.67 582.79h1.6M199.1 596.21h1.6M212.95 585.05h1.6M216.48 594.71h1.6M212.18 570.78h1.6M198.56 588.98h1.6M208.63 588.67h1.6M210.83 593.24h1.6M212.84 610.2h1.6M206.42 577.5h1.6M193.21 578.58h1.6M207.42 594.05h1.6M205.1 572.66h1.6M204.5 589.43h1.6M212.9 583.64h1.6M198.98 593.85h1.6M208.88 608.25h1.6M196.14 590.91h1.6M196.36 586.17h1.6M212.34 590.67h1.6M215.44 585.59h1.6M212.03 609.42h1.6M215.97 594.19h1.6M206.86 597.64h1.6M213.92 606.75h1.6M204.69 609.34h1.6M194.76 586.02h1.6M212.15 601.39h1.6M204.62 590.82h1.6M213.08 602.7h1.6M206.78 605.63h1.6M212.35 584.83h1.6M208.71 593.74h1.6M212.45 595.73h1.6M209.12 599.89h1.6M213.94 609.1h1.6M215.34 589.95h1.6M201.52 587.37h1.6M203.46 569.9h1.6M214.82 587h1.6M208.52 611.89h1.6M214.56 595.31h1.6M201.42 584.63h1.6M210.59 576.78h1.6M212.76 599.74h1.6M216.24 600.83h1.6M193.39 583.47h1.6M205.14 588.39h1.6M203.05 588.57h1.6M215.57 604.76h1.6M201.37 587.63h1.6M214.2 612.75h1.6M208.4 570.73h1.6M212.97 580.16h1.6M211.17 581.74h1.6M206.48 581.53h1.6M202.59 588.99h1.6M212.36 601.84h1.6M205.54 577.02h1.6M197.63 590.54h1.6M214.91 608.16h1.6M214.97 612.63h1.6M213.48 573.79h1.6M208.2 575.21h1.6M214.98 596.25h1.6M208.78 594.56h1.6M212.3 589.46h1.6M213.03 574.05h1.6M211.51 581.32h1.6M211.61 577.97h1.6M204.41 611.02h1.6M196.91 594.27h1.6M213.2 602.2h1.6M202.79 589.98h1.6M203.64 590.24h1.6M195.55 594.22h1.6M215 586.1h1.6M212.43 607.96h1.6M212.81 613.91h1.6M207.74 577.55h1.6M200.17 582.23h1.6M216.62 599.73h1.6M205.98 584.9h1.6M215.13 600.86h1.6M215.8 589.43h1.6M214.82 614.18h1.6M205.02 589.75h1.6M197.74 593.75h1.6M198.57 590.28h1.6M214.09 601.39h1.6M211.07 609.61h1.6M214.44 577.78h1.6M215.67 590.34h1.6M205.72 570.95h1.6M216.23 594.51h1.6M208.63 583.42h1.6M212.73 604.55h1.6M207.39 606.56h1.6M212.96 605.35h1.6M208.94 578.62h1.6M196.73 589.55h1.6M211.51 602.09h1.6M204.81 600.11h1.6M204.76 579.94h1.6M210.49 574.89h1.6M211.67 611.08h1.6M207.95 569.71h1.6M215.18 602.12h1.6M212.42 575.95h1.6M209.67 595.43h1.6M199.41 575.17h1.6M201.29 595.33h1.6M212.43 608.47h1.6M215.07 598.35h1.6M213.5 587.85h1.6M208.57 583.74h1.6M206.76 585.33h1.6M214.21 578.39h1.6M208.79 573.54h1.6M207.17 585.14h1.6M212.63 582.6h1.6M214.15 581.68h1.6M209.99 597.72h1.6M198.53 594.64h1.6M206.83 595.25h1.6M214.62 608.17h1.6M199.71 589.33h1.6M205.9 579.08h1.6M201.39 591.29h1.6M209.88 593.75h1.6M209.27 574.13h1.6M212.43 604.49h1.6M213.44 601.95h1.6M209.03 586.35h1.6M216.19 606.38h1.6M192.15 587.52h1.6M210.13 600.1h1.6M201.95 572.38h1.6M212.64 596.65h1.6M209.13 591.46h1.6M208.35 597.8h1.6M206.64 606.19h1.6M198.69 596.75h1.6M207.83 580.35h1.6M206.82 581.12h1.6M210.46 603.91h1.6M205.76 580.89h1.6M215.67 600.53h1.6M214.18 613.12h1.6M199.71 581.07h1.6M215.04 594.18h1.6M201.09 587.1h1.6M199.53 594.37h1.6M214.17 592.34h1.6M216.17 582.89h1.6M215.65 593.09h1.6M216.58 598.37h1.6M212.6 607.85h1.6M204.68 611.98h1.6M215.2 599.89h1.6M202.07 591.95h1.6M206.23 590.69h1.6M208.32 602.97h1.6M209.96 603.27h1.6M208.21 571.73h1.6M216.37 583.63h1.6M214.68 582.11h1.6M198.09 596.18h1.6M215.62 593.9h1.6M201.93 608.96h1.6M195.66 576.59h1.6M205.24 594.18h1.6M212.96 596.54h1.6M210.55 574.85h1.6M216.09 605.28h1.6M216.57 600.45h1.6M212.1 600.06h1.6M196.45 574.4h1.6M212.26 611.35h1.6M216.59 604.01h1.6M212.2 598.42h1.6M204.41 608.88h1.6M210.89 581.3h1.6M212.01 589.78h1.6M213.24 599.93h1.6M213.17 586.83h1.6M213.51 613.06h1.6M204.16 608.11h1.6M207.76 600.25h1.6M207.33 573.59h1.6M205.96 581.75h1.6M202.7 603.06h1.6M202.1 605.23h1.6M212.22 579.87h1.6M197.26 598.45h1.6M200.15 571.28h1.6M196.8 585.43h1.6M201.79 595.51h1.6M209.65 606.94h1.6" stroke="#ff0000" stroke-width="1.6" fill="none"/>
<path d="M243.68 589.65h1.6M245.92 570.86h1.6M235.54 594.82h1.6M233.37 607.4h1.6M249.93 571.7h1.6M241.93 575.1h1.6M246.58 579.62h1.6M239.4 593.66h1.6M236.56 570.72h1.6M239.72 605.81h1.6M229.68 591.72h1.6M249.64 582.13h1.6M230.24 602.5h1.6M235.92 598.81h1.6M233.66 609.94h1.6M235.77 580.36h1.6M236.74 599.51h1.6M245.56 580.02h1.6M243.68 572.13h1.6M231.32 609.24h1.6M241.09 572.38h1.6M231.02 601.61h1.6M234.29 602.72h1.6M241.28 600.03h1.6M240.43 570.31h1.6M234.72 610.11h1.6M236.91 604.05h1.6M240.31 581.27h1.6M236.68 574.22h1.6M244.02 576.09h1.6M234.44 600.55h1.6M242.8 570.1h1.6M231.76 602.48h1.6M243.25 578.72h1.6M229.88 590.55h1.6M232.86 573.34h1.6M229.89 584.75h1.6M236.81 609.78h1.6M239.89 594.2h1.6M249.59 577.79h1.6M237.85 588.1h1.6M234.48 576.22h1.6M231.7 608.85h1.6M236.34 607.33h1.6M235.83 593.93h1.6M233.95 571.65h1.6M231.57 585.71h1.6M229.42 591.24h1.6M242.9 597.82h1.6M242.82 578.17h1.6M229.76 592.58h1.6M237 593.2h1.6M242.1 593.79h1.6M231.23 608.81h1.6M239.67 577.19h1.6M230.98 578.59h1.6M236.2 604.58h1.6M237.82 600.46h1.6M232.68 613.07h1.6M233.61 585.64h1.6M235.65 592.86h1.6M236.72 593.6h1.6M238.49 575.92h1.6M243.62 592.62h1.6M238.41 585.16h1.6M230.4 586.47h1.6M231.95 578.16h1.6M230.57 611.91h1.6M232.24 586.87h1.6M231.86 593.17h1.6M249.39 587.15h1.6M231.67 599.96h1.6M241.34 587.21h1.6M235.42 582.23h1.6M229.62 612.02h1.6M240.23 592.63h1.6M242.91 600.81h1.6M236.98 584.55h1.6M239.99 570.5h1.6M233.06 579.62h1.6M240.96 578.87h1.6M231.42 586.42h1.6M244.67 590.27h1.6M240.57 576.93h1.6M240.6 583.48h1.6M238.39 581.25h1.6M237.65 577.73h1.6M242.21 576.04h1.6M231.84 608.69h1.6M240.22 595.99h1.6M233.63 602.64h1.6M236.99 606.06h1.6M241.27 590.16h1.6M232.84 594.44h1.6M241.01 598.87h1.6M233.72 585.9h1.6M236.29 575.54h1.6M237.44 573.55h1.6M229.74 607.11h1.6M234.8 581.83h1.6M232.8 583.51h1.6M233.31 579.05h1.6M234.87 584.77h1.6M231.4 583.39h1.6M232.09 587.28h1.6M239.3 570.25h1.6M246.93 581.64h1.6M247.33 579.52h1.6M243.27 567.62h1.6M233.9 587.96h1.6M242.97 598.61h1.6M229.51 596.5h1.6M244.81 593.2h1.6M234.61 598.85h1.6M235.83 588.6h1.6M232.23 612.34h1.6M232.56 588.07h1.6M234.57 586.4h1.6M229.99 605.7h1.6M241.87 569.59h1.6M243.22 588.91h1.6M230.86 606.05h1.6M236.4 584.36h1.6M241.96 602.7h1.6M231.57 598.34h1.6M232.94 609.02h1.6M234.4 599.2h1.6M233.96 577.5h1.6M229.25 584.73h1.6M235.22 586.88h1.6M230.43 592.91h1.6M238.03 592.18h1.6M231.52 597.49h1.6M244.07 568.49h1.6M229.23 597.81h1.6M229.2 602.86h1.6M245.7 586.82h1.6M233.36 577.78h1.6M231.3 592.89h1.6M235.13 582.15h1.6M234.81 607.24h1.6M243.71 596.98h1.6M243.41 589.71h1.6M244.55 585.02h1.6M243.41 567.12h1.6M236.01 592.61h1.6M249.07 578.68h1.6M245.4 575.3h1.6M234.59 593.81h1.6M232.1 609.39h1.6M229.43 583.19h1.6M235.06 584.56h1.6M241.46 600.64h1.6M238.05 590.03h1.6M229.22 603.64h1.6M235.43 602.59h1.6M234.22 571.54h1.6M233.87 605.89h1.6M235.74 583h1.6M251.41 573.11h1.6M236.02 608.62h1.6M230.47 597.3h1.6M234.58 577.9h1.6M242.12 582.05h1.6M233.76 613.25h1.6M231.65 609.5h1.6M244.5 574.75h1.6M233.08 612.68h1.6M237.92 598.4h1.6M236.24 587.59h1.6M245.72 571.56h1.6M232.18 611.1h1.6M250.27 588.81h1.6M238.28 599.17h1.6M229.8 614.47h1.6M234.1 571.52h1.6M237.54 587.6h1.6M231.25 605.12h1.6M237.14 603.14h1.6M229.72 613.04h1.6M235.21 578.17h1.6M235.97 584.63h1.6M236.51 574.4h1.6M237.46 599.66h1.6M247.23 576.11h1.6M236.27 599.68h1.6M244.56 595.06h1.6M236.08 588.82h1.6M233.7 607.4h1.6M246.6 571.56h1.6M240.41 589.15h1.6M234.98 598.67h1.6M239.86 575.75h1.6M239.22 584.21h1.6M236.45 601.4h1.6M237.92 598.39h1.6M247.08 579.81h1.6M232.45 598.3h1.6M242.34 588.74h1.6M234.54 600.41h1.6M232.45 603.08h1.6M237.11 576.6h1.6M234.54 582.1h1.6M247.5 587.31h1.6M242.45 590.24h1.6M232.77 577.14h1.6M229.44 600.75h1.6M231.7 598.85h1.6M236.16 578.19h1.6M232.88 590.22h1.6M241.23 594.71h1.6M239.38 587.7h1.6M237.93 608.47h1.6M241.37 588.01h1.6M236.68 575.13h1.6M243.77 596.98h1.6M231.19 586.98h1.6M245.12 587.42h1.6M233.46 601h1.6M229.84 588.99h1.6M235.91 610.38h1.6M234.2 591.91h1.6M242.75 569.39h1.6M234.05 577.33h1.6M242.82 576.15h1.6M239.06 584.71h1.6M238.92 591.67h1.6M233.52 605.51h1.6M233.52 585.15h1.6M235.86 575.87h1.6M234.31 574.45h1.6M236.96 594.28h1.6M231 600.98h1.6M231.05 590h1.6M230.58 609.7h1.6M230.43 591.82h1.6M245.22 591.43h1.6M235.14 589.79h1.6M238.42 597.09h1.6M234.48 610h1.6M242.04 585h1.6M230.55 600.35h1.6M233.17 601.12h1.6M250.02 581.17h1.6M235.68 607.42h1.6M243.47 570.58h1.6M242.89 580.68h1.6M244.96 576.99h1.6M241.81 602.69h1.6M231.71 588.58h1.6M249.47 568.88h1.6M236.46 586.85h1.6M230.07 611.66h1.6M234.46 572.48h1.6M231.97 587.37h1.6M250.79 583.61h1.6M245.11 579.55h1.6M236.37 604.71h1.6M243.49 574.21h1.6M232.3 577.87h1.6M229.21 596.14h1.6M233.54 604.88h1.6M232.43 597.89h1.6M234.46 607.83h1.6M239.1 598.41h1.6M241.2 586.62h1.6M244.56 599.53h1.6M243.7 585.13h1.6M247.84 585.93h1.6M229.73 589.62h1.6M242.26 577.26h1.6M231.99 603.19h1.6M231.71 585.45h1.6M244.85 591.6h1.6M230.39 613.75h1.6M230.62 596.53h1.6M239.85 600.82h1.6M230.93 589.64h1.6M232.15 606.63h1.6M233.38 582.82h1.6M234.36 577.64h1.6M234.59 599.37h1.6M237.98 597.49h1.6M238.9 600.08h1.6M229.34 590.99h1.6M234.11 598.84h1.6M244.27 590.98h1.6M231.18 581.92h1.6M236.4 606.49h1.6M234.68 610.21h1.6M247.87 577.97h1.6M237.91 587.11h1.6M231.18 587.04h1.6M231.11 612.12h1.6M233.11 585.27h1.6M249.03 584.07h1.6M242.82 581.73h1.6M231.22 592.93h1.6M234.32 603.52h1.6M237.56 608.32h1.6M232.05 599.72h1.6M244.4 597.88h1.6M236.07 594.55h1.6M231.72 593.23h1.6M244.54 576.73h1.6M236.69 611.03h1.6M237.94 607.56h1.6M243.65 577.22h1.6M235.24 593.55h1.6M233.66 585.72h1.6M232.36 588.48h1.6M229.49 584.4h1.6M239.95 570.2h1.6M231.53 601.73h1.6M237.68 571.28h1.6M250.74 584.53h1.6M234.2 598.11h1.6M236.51 594.03h1.6M230.07 612.96h1.6M236.22 589.04h1.6M231.14 606.3h1.6M244.21 596.24h1.6M234.58 593.38h1.6M236.88 593.81h1.6M232.53 574.51h1.6M229.76 603.58h1.6M237.68 598.18h1.6M231.09 588.61h1.6M232.12 590.74h1.6M239.89 577.93h1.6M229.28 591.39h1.6M241.15 602.96h1.6M240.79 575.74h1.6M240.69 582.81h1.6M229.48 588.34h1.6M232.41 609.86h1.6M231.34 583.03h1.6M232.98 576.84h1.6M233.57 604.77h1.6M233.32 608.82h1.6M237.06 588.19h1.6M240.56 585.25h1.6M239.5 591h1.6M229.3 609.65h1.6M239.6 573.03h1.6M236.22 580.56h1.6M236.13 572.11h1.6M230.7 591.61h1.6M237.33 576.43h1.6M234.09 588.4h1.6M248.85 583.93h1.6M234.21 610.33h1.6M237.26 597.06h1.6M236.5 600.51h1.6M237.64 578.61h1.6M248.03 589.02h1.6M230.93 602.06h1.6M239.32 586.38h1.6M238.94 578.82h1.6M232.25 586.69h1.6M229.88 582.16h1.6M232.39 605.45h1.6M245.56 568.61h1.6M233.85 594.09h1.6M230.09 614.32h1.6M234.04 602.96h1.6M249.22 567.01h1.6M230.71 580.58h1.6M231.73 606.68h1.6M232.16 585.96h1.6M231.36 595.05h1.6M237.55 570.93h1.6M238.44 605.12h1.6M231.11 608.95h1.6M237.52 607.44h1.6M233.11 572.96h1.6M244.24 578.34h1.6M234.23 614.2h1.6M243.45 583.78h1.6M242.72 594.68h1.6M247.38 590.95h1.6M240.51 601.11h1.6M229.83 585.38h1.6M242.15 583.12h1.6M229.52 610.09h1.6M238.68 592.28h1.6M230.89 613.66h1.6M234.32 614.11h1.6M241.46 600.63h1.6M237.95 573.6h1.6M234.22 592.1h1.6M233.67 592.54h1.6M234.75 610.55h1.6M236.88 587.26h1.6M237.89 593.06h1.6M231.44 582.41h1.6M229.6 584.72h1.6M231.01 584.17h1.6M229.42 588.42h1.6M243.5 572.34h1.6M247.12 592.37h1.6M234.73 578.29h1.6M236.5 602.02h1.6M232.79 602.99h1.6M231.06 591.54h1.6M236.97 595.13h1.6M238.76 577.93h1.6M249.71 582.94h1.6M230.92 592.33h1.6M233.51 577.5h1.6M248.81 569.51h1.6M239.01 607.3h1.6M233.1 596.85h1.6M229.95 601.08h1.6M238.39 585.07h1.6M230.79 607.57h1.6M239.59 582.45h1.6M243.14 566.52h1.6M232.47 607.94h1.6M234.3 595.14h1.6M242.33 581.79h1.6M230.71 586.07h1.6M244.64 577.5h1.6M240.27 570.51h1.6M236.19 588.17h1.6M237.66 570.27h1.6M239.1 598.2h1.6M232.73 591.5h1.6M229.31 595.96h1.6M245.21 584.09h1.6M229.66 613.59h1.6M240.54 584.78h1.6M229.77 594h1.6M242.44 574.63h1.6M243.41 583.69h1.6M234.45 581.27h1.6M244.43 566.17h1.6M230.1 589.12h1.6M230.3 587.66h1.6M242.11 576.36h1.6M232.97 612.22h1.6M237.96 585.42h1.6M232.3 575.07h1.6M234.67 613.57h1.6M240.05 572.51h1.6M234.03 572.1h1.6M231.33 600.29h1.6M236.29 596.54h1.6M241.14 597.78h1.6M241.27 591.58h1.6M234.19 602.62h1.6M232.58 613.96h1.6M233.99 600.67h1.6M236.91 573.94h1.6M237.92 606.69h1.6M249.82 573.3h1.6M234.03 576.61h1.6M239.35 593.98h1.6M231.54 590.84h1.6M239.19 586.62h1.6M242.86 592h1.6M238.41 579.05h1.6M229.35 609.52h1.6M239.19 602.53h1.6M233.97 594.56h1.6M240.64 572.92h1.6M244.3 593.77h1.6M235.09 605.03h1.6M240.3 572.42h1.6M231 593.56h1.6M231.49 576.93h1.6M231.7 582.96h1.6M249.28 577.43h1.6M235.12 602.1h1.6M239.25 604.46h1.6M240.17 575.23h1.6M238.8 607.55h1.6M229.92 591.72h1.6M233.07 573.21h1.6M229.57 592.51h1.6M239.55 585.88h1.6M245.19 594.39h1.6M232.15 601.26h1.6M230.34 587.49h1.6M231.15 587.26h1.6M232.02 608.66h1.6M245.54 588.79h1.6M244.61 579.73h1.6M240.07 586.86h1.6M239.42 594.36h1.6M234.96 574.11h1.6M233.91 598.7h1.6M238.21 582.24h1.6M230.03 596.56h1.6M242.69 572.74h1.6M230.34 609.75h1.6M243.81 568.66h1.6M236.85 603.27h1.6M241.63 570.08h1.6M230.47 589.59h1.6M234.18 599.95h1.6M235.76 593.58h1.6M234.08 574.8h1.6M238.31 593.44h1.6M238.5 589.15h1.6M230.5 582.03h1.6M230.48 606.67h1.6M229.5 589.14h1.6M244.22 589.39h1.6M230.51 587.47h1.6M239.33 591.65h1.6M243.11 581.08h1.6M245.88 591.57h1.6M236.76 593.86h1.6M241.26 603.06h1.6M231.66 590.03h1.6M234.02 607.08h1.6M242.07 589.34h1.6M231.84 594.64h1.6M232.12 580.99h1.6M229.98 582.79h1.6M230.76 608.33h1.6M231.53 599.4h1.6M243.14 571.77h1.6M239.01 576.4h1.6M235.24 597.75h1.6M230.27 610.52h1.6M230.5 589.31h1.6M232.22 605.53h1.6M233.86 572.1h1.6M233.54 579.72h1.6M231.65 606.28h1.6M238.06 585.95h1.6M232.37 594.27h1.6M242.14 597.67h1.6M233.34 612.84h1.6M229.71 595.54h1.6M241.09 604.7h1.6M233.77 610.24h1.6M233.09 594.46h1.6M237.92 607.68h1.6M242.98 588.08h1.6M249.73 572.93h1.6M243.11 597.86h1.6M234.96 587.84h1.6M236.1 601h1.6M235.25 608.2h1.6M236.84 597.79h1.6M235.17 590.03h1.6M230.38 582.06h1.6M234.25 594.77h1.6M238.69 570.93h1.6M243.46 594.57h1.6M230.51 613.77h1.6M232.29 613.24h1.6M233.86 607.04h1.6M251.92 574.27h1.6M242.68 584.92h1.6M240.92 597.28h1.6M230.1 591.63h1.6M245.62 588.77h1.6M231.62 609.84h1.6M230.5 611.23h1.6M234.05 607.63h1.6M231.54 593.92h1.6M231.95 613.56h1.6M229.23 603.5h1.6M246.46 577.12h1.6M241.57 594.73h1.6M237.78 595.62h1.6M248.5 570.51h1.6M236.24 578.19h1.6M239.13 606.57h1.6M236.6 578.39h1.6M236.25 574.77h1.6M233.04 583.74h1.6M239.98 574.06h1.6M234.04 591.99h1.6M235.34 578.6h1.6M236.99 588.28h1.6M248.14 571h1.6M237.3 578.66h1.6M232.13 614.4h1.6M235.07 589.65h1.6M242.65 602.3h1.6M244.16 568.75h1.6M231.96 601.1h1.6M235.56 588.23h1.6M232.4 588.82h1.6M241.3 583.72h1.6M241.31 578.94h1.6M230.12 580.71h1.6M236.91 607.69h1.6M240.61 581.75h1.6M237.95 597.77h1.6M232.04 593.57h1.6M229.27 601.63h1.6M235.15 584.91h1.6M244.66 576.62h1.6M247.79 589.09h1.6" stroke="#ff0000" stroke-width="1.6" fill="none"/>
<path d="M188 557.1h1.6M183.8 562.5h1.6M190.4 563h1.6M195.1 562.5h1.6M197.4 563h1.6M199.7 562.5h1.6M203.5 563h1.6M181 566.7h1.6M187.1 568.1h1.6M189.9 568.6h1.6M201.6 567.2h1.6M207.7 566.2h1.6M183.4 570.9h1.6M189.4 572.3h1.6M181 579.8h1.6M183.8 577.5h1.6M187.6 576.5h1.6M189.4 577.5h1.6M182.4 584h1.6M181.5 587.8h1.6M185.7 586.9h1.6M185.2 590.1h1.6M188 592.9h1.6M189 594.3h1.6M194.6 596.2h1.6M201.2 606.1h1.6M199.7 612.1h1.6M205.4 614h1.6M244.2 562.7h1.6M257.3 563.4h1.6M239.9 566.2h1.6M249.3 565.3h1.6M254.9 574.7h1.6M252.1 580.3h1.6M251.6 599h1.6M248.8 595.7h1.6M251.2 592h1.6" stroke="#ff0000" stroke-width="1.6" fill="none"/>
<rect x="178.1" y="554.2" width="83.5" height="68" fill="none" stroke="#111" stroke-width="1.15"/>
<path d="M175.3 619.9L178.1 619.9" stroke="#000" stroke-width="0.9"/>
<text x="173.9" y="622.2" font-size="6.6" fill="#333" color="#333" text-anchor="end">0</text>
<path d="M175.3 602.4L178.1 602.4" stroke="#000" stroke-width="0.9"/>
<text x="173.9" y="604.7" font-size="6.6" fill="#333" color="#333" text-anchor="end">5</text>
<path d="M175.3 584.9L178.1 584.9" stroke="#000" stroke-width="0.9"/>
<text x="173.9" y="587.2" font-size="6.6" fill="#333" color="#333" text-anchor="end">10</text>
<path d="M175.3 567.4L178.1 567.4" stroke="#000" stroke-width="0.9"/>
<text x="173.9" y="569.7" font-size="6.6" fill="#333" color="#333" text-anchor="end">15</text>
<path d="M189 622.2L189 625.2" stroke="#000" stroke-width="0.9"/>
<text x="189" y="634.2" font-size="6.6" fill="#333" color="#333" text-anchor="middle">-6</text>
<path d="M200.5 622.2L200.5 625.2" stroke="#000" stroke-width="0.9"/>
<text x="200.5" y="634.2" font-size="6.6" fill="#333" color="#333" text-anchor="middle">-4</text>
<path d="M212 622.2L212 625.2" stroke="#000" stroke-width="0.9"/>
<text x="212" y="634.2" font-size="6.6" fill="#333" color="#333" text-anchor="middle">-2</text>
<path d="M223.5 622.2L223.5 625.2" stroke="#000" stroke-width="0.9"/>
<text x="223.5" y="634.2" font-size="6.6" fill="#333" color="#333" text-anchor="middle">0</text>
<path d="M235 622.2L235 625.2" stroke="#000" stroke-width="0.9"/>
<text x="235" y="634.2" font-size="6.6" fill="#333" color="#333" text-anchor="middle">2</text>
<path d="M246.5 622.2L246.5 625.2" stroke="#000" stroke-width="0.9"/>
<text x="246.5" y="634.2" font-size="6.6" fill="#333" color="#333" text-anchor="middle">4</text>
<path d="M258 622.2L258 625.2" stroke="#000" stroke-width="0.9"/>
<text x="258" y="634.2" font-size="6.6" fill="#333" color="#333" text-anchor="middle">6</text>
<text x="219.6" y="550.2" font-size="6.6" fill="#222" color="#222" style="stroke-width:0.14px" text-anchor="middle" textLength="71.6" lengthAdjust="spacingAndGlyphs"><tspan>CD19</tspan><tspan font-size="4.0" dy="-2.7">-</tspan><tspan dy="2.7"> ASC vs CD19</tspan><tspan font-size="4.0" dy="-2.7">+</tspan><tspan dy="2.7">/CD20</tspan><tspan font-size="4.0" dy="-2.7">-</tspan></text>
<text x="219.65" y="645.8" font-size="8.6" fill="#222" color="#222" text-anchor="middle" textLength="65" lengthAdjust="spacingAndGlyphs" style="stroke-width:0.3px">log2 (fold change)</text>
<text x="160.4" y="588.8" font-size="5.4" fill="#222" color="#222" text-anchor="middle" textLength="44" lengthAdjust="spacingAndGlyphs" transform="rotate(-90 160.4 588.8)" style="stroke-width:0.12px">-log10 (adj.P.Val)</text>
<path d="M330.66 615.27h1M333.09 618.78h1M328.15 608.52h1M333.01 613.63h1M319.52 611.35h1M315.69 617.73h1M317.02 615.97h1M318.65 608.82h1M313.92 618.19h1M315.72 617.42h1M318.4 605.4h1M320.65 617.18h1M316.48 615.29h1M334.06 614.66h1M321.43 601.73h1M329.54 609.16h1M327.64 613.21h1M333.15 616.82h1M319.94 614.76h1M335.57 617.97h1M332.21 616.92h1M314.5 612.85h1M332.28 618.08h1M315.91 616.68h1M322.15 603.23h1M334.12 615.56h1M321.46 612.23h1M314.38 609.6h1M314.82 610.27h1M314.35 609.67h1M320.93 613.54h1M324.67 604.52h1M324.46 617.55h1M311.02 615.47h1M328.07 607.76h1M326.64 618.72h1M312.88 613.58h1M317.86 610.31h1M312.67 615.85h1M332.77 608.43h1M323.91 614.82h1M323.4 604.08h1M323.57 617.98h1M324.63 610.45h1M325.95 601.8h1M322.65 613.65h1M312.46 613.61h1M321.06 603.14h1M325.47 606.5h1M323.05 617.8h1M318.09 604.65h1M332.71 614.79h1M312.89 613.47h1M327.99 605.49h1M312.01 612.05h1M323.26 600.84h1M320.11 614.01h1M318.5 602.26h1M315.5 618.94h1M315.27 605.61h1M315.76 605.92h1M321.6 611h1M328.62 614.38h1M318.67 614.88h1M323.93 611.66h1M316.2 618.7h1M327.66 611.03h1M334.12 612.99h1M315.21 609.12h1M325.19 601.14h1M318.78 607.57h1M329.32 616.57h1M325.71 604.2h1M319.87 603.19h1M327.88 606.74h1M318.41 605.37h1M334.54 614.06h1M322.77 602.84h1M321.62 616.76h1M317.28 609.43h1M314.17 616.34h1M317.73 602.39h1M326.21 618.89h1M312.79 614.51h1M320.76 608.82h1M311.76 617.51h1M321.21 611.98h1M320.13 614.74h1M326.27 613.15h1M327.45 615.4h1M316.64 604.99h1M330.15 605.1h1M314.51 611.43h1M331.38 609.11h1M325.39 599.85h1M319.37 612.43h1M317.98 615.21h1M329.42 601.42h1M324.63 617.78h1M324.2 599.59h1M314.8 618.76h1M324.61 603.29h1M327.66 612.92h1M321.77 609.68h1M313.88 614.05h1M332.99 609.52h1M321.77 604.99h1M311.53 618.77h1M313.24 615.57h1M316.25 609.6h1M334.92 616.19h1M328.7 618.33h1M327.03 604.75h1M314.3 617.64h1M329.53 617.12h1M317.65 616.47h1M319.67 603.14h1M312.65 615.48h1M316.43 607.33h1M318.48 616.53h1M336.78 618.62h1M326.97 614.69h1M320.53 600.32h1M312.42 616.17h1M330.04 606.85h1M327.56 618.34h1M319.96 612.96h1M325.21 614.88h1M328.07 605.57h1M325.79 613.54h1M332.56 618.58h1M310.57 617.3h1M324.54 611.13h1M328.25 608.96h1M320.09 601.21h1M329.74 601.46h1M331.44 618.55h1M320.39 603.34h1M322.86 603.61h1M335.12 618.34h1M319.24 618.03h1M316.73 617.47h1M322.56 616.92h1M331.03 609.27h1M331.58 603.96h1M314.31 607.67h1M327.8 606.35h1M324.55 618.62h1M318.61 613.42h1M316.21 612.75h1M318.62 612.35h1M319.13 613.4h1M336.11 618.7h1M324.71 600.71h1M317.62 615.83h1M323.01 599.9h1M313.48 618.34h1M320.08 606.12h1M328.35 614.08h1M327.94 618.79h1M318.08 606.07h1M324.73 615.67h1M331.14 609.54h1M327.52 613.47h1M335.11 613.08h1M334.37 611.71h1M330.37 609.23h1M319.67 615.97h1M323.11 599.86h1M325.75 600.47h1M319.15 612.74h1M327.52 615.23h1M313.66 618.88h1M321.69 617.8h1M311.74 614.98h1M323.65 614.18h1M320.31 610.88h1M318.41 609.72h1M317.84 614.13h1M313.89 608.55h1M331.03 604.75h1M328.31 616.57h1M314.21 612.52h1M315.65 606.59h1M328.86 607.78h1M322.87 611.4h1M315.04 609.13h1M329.89 618.59h1M327.49 605.9h1M310.39 616.53h1M318.71 607.51h1M316.69 617.31h1M322.76 612.44h1M314.44 610.68h1M332.33 606.24h1M331.38 614.12h1M334.8 616.73h1M327.64 614.59h1M316.31 617.35h1M328.72 610.13h1M323.19 612.18h1M316.26 614.13h1M334.18 611.42h1M325.69 609.58h1M323.77 612h1M322.43 608.27h1M316.73 608.88h1M329.71 606.44h1M319.43 613.72h1M333.03 613.03h1M323.87 607.96h1M333.91 614.41h1M327.11 611.84h1M328.65 611.57h1M325.07 612.96h1M329.06 604.79h1M312.05 617.35h1M314.73 607.29h1M312.87 615.18h1M325.38 617.75h1M319.23 613.71h1M328.52 605.31h1M335.36 612.26h1M333.93 612.61h1M328.21 618.75h1M329.85 614.09h1M334.5 609.7h1M329.86 601.66h1M312.17 618.83h1M332.56 605.69h1M314.89 612.21h1M329.38 618.23h1M327.7 607.23h1M325.62 612.72h1M321.88 612.32h1M324.15 618.79h1M334.39 615.91h1M322.91 606.9h1M330.58 609.54h1M323.34 602.51h1M320.86 612.89h1M319.47 606.69h1M326.98 602.06h1M320.94 617.03h1M328.8 614.79h1M313.41 618.42h1M336.28 617.14h1M315.54 612.9h1M329.69 613.99h1M334.74 614.8h1M323.74 618.27h1M316.79 604.93h1M326.82 606.02h1M319.35 605.06h1M328.44 604.83h1M312.29 616.7h1M328.01 611.97h1M327.35 610.47h1M314.91 608.54h1M328.26 608.94h1M328.3 612.11h1M329.19 615.72h1M325.2 606.99h1M323.76 606.33h1M321.32 608.93h1M329.38 602.54h1M323.17 614.29h1M325.87 609.04h1M326.2 617.39h1M322.26 618.65h1M312.62 612.04h1M323.19 609.18h1M321.81 608.33h1M322.67 613.07h1M322.3 618.36h1M314.72 617.4h1M328.44 614.64h1M332.41 616.36h1M332.87 618.41h1M328.65 618.58h1" stroke="#aaaaaa" stroke-width="1" fill="none"/>
<path d="M310.85 601.88h1M312.9 608.41h1M330.35 600.29h1M308.43 609.17h1M320.96 607.6h1M336.77 612.81h1M314.59 611.71h1M336.33 610.47h1M325.07 599.36h1M330.02 610.57h1M309.58 618.34h1M333.57 605.91h1M323.33 614.63h1M314.49 604.98h1M330.05 615.87h1M318.21 600.55h1M330.98 612.18h1M325.01 605.74h1M324.16 613.15h1M333.95 613.72h1M314.98 602.11h1M311.52 617.94h1M309.73 616.09h1M309.51 611.87h1M302.51 605.14h1M327.85 597.23h1M335.84 610.27h1M324.41 602.01h1M320.23 616.88h1M325.58 600.87h1M312.12 605.47h1M320.51 604.93h1M332.32 605.31h1M328.06 613.42h1M328.22 604.5h1M314.83 605.76h1M323.5 607.78h1M315.02 599.61h1M312.43 601.93h1M325.58 606.75h1M323.22 600h1M319.67 610.27h1M318.31 603.15h1M314.57 606.58h1M315.79 614.98h1M312.02 613.18h1M333.32 601.97h1M330.23 614.17h1M319.48 607.96h1M316.94 611.5h1M304.65 610.1h1M318.52 609.76h1M332.33 612.81h1M326.27 598.74h1M321.66 618.6h1M327.48 604.61h1M336.23 607.68h1M330.38 604.46h1M310.22 608.55h1M323.41 615.6h1M305.71 614.07h1M313.41 616.68h1M337.54 613.54h1M309.57 616.77h1M312.1 609.83h1" stroke="#aaaaaa" stroke-width="1" fill="none"/>
<path d="M353.05 608.11h1M341.98 612.15h1M356 617.17h1M356.69 609.91h1M351.25 606.46h1M345.86 609.72h1M357.38 609.64h1M349.38 616.54h1M343.65 617.55h1M340.5 613.56h1M352.39 618.4h1M357.47 614.95h1M344.41 612.41h1M345.82 609.37h1M346.18 608.9h1M356.8 606.73h1M355.01 612.37h1M341.5 617.77h1M340.95 612.89h1M347.55 612.44h1M353.73 606.79h1M353.86 616.7h1M354.49 613.56h1M353.32 617.8h1M356.16 615.77h1M347.54 608.56h1M342.51 614.1h1M341.02 616.33h1M350.7 618.55h1M352.44 615.06h1M362.18 618.65h1M348.58 616.57h1M354.45 610.66h1M343.05 611.21h1M342.2 612.03h1M347.14 617.04h1M347.56 617.49h1M357.15 611.12h1M356.68 618.69h1M340.83 614.81h1M353.35 610.47h1M349.04 609.24h1M358.11 614.31h1M346.9 614.67h1M342.24 610.31h1M356.68 610.08h1M353.29 607.87h1M343.74 614.82h1M342.78 611.93h1M350.31 615.96h1M362.25 616.93h1M348.56 605.77h1M360.95 608.9h1M345.52 616.56h1M348.54 615h1M361.06 612.84h1M354.88 613.42h1M354.24 617.21h1M340.94 611.46h1M358.41 608.6h1M340.2 613.77h1M343.55 617.35h1M362.69 616.96h1M341.05 611.52h1M342.52 615.72h1M361.56 612.25h1M340.76 611.63h1M346.61 610.98h1M353.68 609.56h1M347.53 608.22h1M348.47 617.86h1M340.91 616.26h1M357.02 618.79h1M356.57 615.94h1M361.61 610.47h1M346.48 618.11h1M352.67 616h1M351.28 612.53h1M348.95 608.12h1M360.99 612.35h1M348.1 615.5h1M352.9 607.61h1M340.36 613.1h1M358.37 606.64h1M349.21 615.13h1M340.58 618.25h1M358.41 614.05h1M360.89 615.67h1M342.48 610h1M356.17 616.45h1M352.27 616.34h1M350.63 611.31h1M351.77 610.6h1M348.26 616.57h1M340.96 611.87h1M348.29 612.46h1M362.19 616.69h1M359.19 609.85h1M339.04 618.08h1M348.48 609.89h1M358.75 618.31h1M347.61 615.87h1M342.45 614.68h1M362.86 617.54h1M345.25 615.12h1M356.47 618.51h1M359.31 614.78h1M356.91 613.07h1M360.13 618.46h1M362.82 616.34h1M354.55 610.82h1M358.31 608.78h1M352.29 617.22h1M343.22 618.6h1M351.15 613.77h1M354.02 611.96h1M352.19 613.38h1M345.81 608.35h1M343.54 608.78h1M347.2 613.99h1M346.66 607.44h1M352.9 610.74h1M354.2 611.87h1M346.69 612.29h1M361.05 609.2h1M361.17 610.47h1M357.65 612.02h1M352.32 610.38h1M346.18 610.14h1M347.47 606.46h1M342.11 618.25h1M350.87 618.41h1M356.41 608.01h1M348.76 611.88h1M353.87 612.49h1M352.78 610.58h1M357.72 612.31h1M352.04 607.94h1M355.51 608.35h1M352.11 612.07h1M355.22 607.09h1M351.5 613.98h1M347.93 616.75h1M357.11 607.11h1M358.86 616.35h1M361.26 618.88h1M356.67 613.38h1M345.88 611.54h1M359.24 614.52h1M339.7 616.74h1M344.02 608.84h1M348.77 610.2h1M346.3 608.56h1M343.45 616.43h1M344.82 616.47h1M356.28 616.11h1M342.34 613.41h1M344.2 609.55h1M350.01 606.25h1M350.05 614.65h1M356.35 608.8h1M348.84 616.63h1M347.54 615h1M351.94 605.43h1M351.22 617.14h1M342.82 615.02h1M342.57 614.86h1M340.72 617.28h1M361.09 617.59h1M352.72 613.34h1M348.45 613.53h1" stroke="#aaaaaa" stroke-width="1" fill="none"/>
<path d="M373.51 614.25h1M367.66 614.17h1M363.26 617.62h1M358.6 612.29h1M371.55 617.7h1M364.14 606.53h1M363.04 599.09h1M351.64 601.22h1M370.6 616.9h1M367.79 609.33h1M379.82 611.18h1M363 614.19h1M376.57 611.08h1M360.06 600.39h1M374.05 605.06h1M363.96 618.23h1M374.72 607.93h1M370.16 609.31h1M379.26 618.56h1M378.79 603.2h1M368.94 601.93h1M370.05 606.46h1M379.89 618.96h1M366.22 611.27h1M359.13 605.36h1M366.25 604.23h1M378.14 612.44h1" stroke="#aaaaaa" stroke-width="1" fill="none"/>
<path d="M318.6 619.4L320.8 612.9L323.4 609.4L326 606.8L327.7 608.5L330.3 611.1L332.9 614.6L334.6 619.4Z" fill="#bdbdbd"/>
<path d="M341.5 619.4L343.2 615.5L345.8 612.9L349.2 612L352.7 611.1L356.2 612.9L359.6 614.6L361.4 619.4Z" fill="#bdbdbd"/>
<path d="M311 618.8L381 618.8L381 619.8L311 619.8Z" fill="#bdbdbd"/>
<rect x="299.6" y="554.6" width="82.6" height="67.6" fill="none" stroke="#111" stroke-width="1.15"/>
<path d="M296.8 619.9L299.6 619.9" stroke="#000" stroke-width="0.9"/>
<text x="295.4" y="622.2" font-size="6.6" fill="#333" color="#333" text-anchor="end">0</text>
<path d="M296.8 605.4L299.6 605.4" stroke="#000" stroke-width="0.9"/>
<text x="295.4" y="607.7" font-size="6.6" fill="#333" color="#333" text-anchor="end">1</text>
<path d="M296.8 590.9L299.6 590.9" stroke="#000" stroke-width="0.9"/>
<text x="295.4" y="593.2" font-size="6.6" fill="#333" color="#333" text-anchor="end">2</text>
<path d="M296.8 576.4L299.6 576.4" stroke="#000" stroke-width="0.9"/>
<text x="295.4" y="578.7" font-size="6.6" fill="#333" color="#333" text-anchor="end">3</text>
<path d="M296.8 561.9L299.6 561.9" stroke="#000" stroke-width="0.9"/>
<text x="295.4" y="564.2" font-size="6.6" fill="#333" color="#333" text-anchor="end">4</text>
<path d="M317.45 622.2L317.45 625.2" stroke="#000" stroke-width="0.9"/>
<text x="317.45" y="634.2" font-size="6.6" fill="#333" color="#333" text-anchor="middle">-1</text>
<path d="M338.2 622.2L338.2 625.2" stroke="#000" stroke-width="0.9"/>
<text x="338.2" y="634.2" font-size="6.6" fill="#333" color="#333" text-anchor="middle">0</text>
<path d="M358.95 622.2L358.95 625.2" stroke="#000" stroke-width="0.9"/>
<text x="358.95" y="634.2" font-size="6.6" fill="#333" color="#333" text-anchor="middle">1</text>
<path d="M379.7 622.2L379.7 625.2" stroke="#000" stroke-width="0.9"/>
<text x="379.7" y="634.2" font-size="6.6" fill="#333" color="#333" text-anchor="middle">2</text>
<text x="339.4" y="550.2" font-size="6.6" fill="#222" color="#222" style="stroke-width:0.14px" text-anchor="middle" textLength="65.8" lengthAdjust="spacingAndGlyphs"><tspan>CD19</tspan><tspan font-size="4.0" dy="-2.7">+</tspan><tspan dy="2.7"> ASC vs CD19</tspan><tspan font-size="4.0" dy="-2.7">-</tspan><tspan dy="2.7"> ASC</tspan></text>
<text x="340.7" y="645.8" font-size="8.6" fill="#222" color="#222" text-anchor="middle" textLength="65" lengthAdjust="spacingAndGlyphs" style="stroke-width:0.3px">log2 (fold change)</text>
<text x="284.2" y="589" font-size="5.4" fill="#222" color="#222" text-anchor="middle" textLength="44" lengthAdjust="spacingAndGlyphs" transform="rotate(-90 284.2 589)" style="stroke-width:0.12px">-log10 (adj.P.Val)</text>
<path d="M306.7 591.2h1.4M310.1 591.2h1.4M313.6 591.2h1.4M315 591.2h1.4M316.4 591.2h1.4M312.3 596h1.4M313.6 597.3h1.4M314.7 598.2h1.4M309.3 598.6h1.4M309.7 599.9h1.4M359.3 591.2h1.4M371 591.2h1.4M378.6 595.7h1.4M358.8 599.5h1.4M360.8 598.9h1.4M367.5 556.9h1.4" stroke="#ff0000" stroke-width="1.4" fill="none"/>
<path d="M28.4 651.6V438.5M28.4 651.6H382.5" stroke="#111" stroke-width="1.05" fill="none"/>
<path d="M28.4 433.2L25.9 439.8L30.9 439.8Z" fill="#111"/>
<path d="M388.6 651.6L382 649.1L382 654.1Z" fill="#111"/>
<text x="23.2" y="483.1" font-size="8.8" fill="#222" color="#222" text-anchor="middle" textLength="88.4" lengthAdjust="spacingAndGlyphs" transform="rotate(-90 23.2 483.1)">-log10 (adjusted p value)</text>
<text x="346.5" y="664.6" font-size="8.8" fill="#222" color="#222" text-anchor="middle" textLength="67.4" lengthAdjust="spacingAndGlyphs">Log2 (fold change)</text>
</svg>
</body></html>
